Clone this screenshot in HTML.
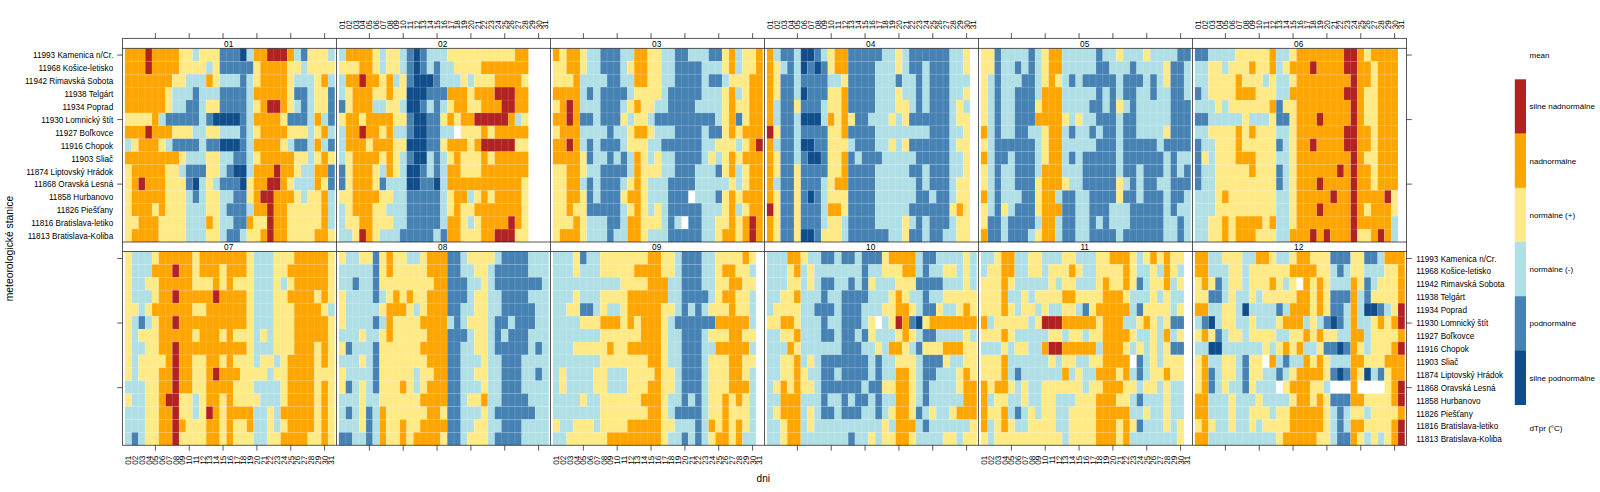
<!DOCTYPE html><html><head><meta charset="utf-8"><title>levelplot</title><style>html,body{margin:0;padding:0;background:#fff}svg{display:block}text{font-family:"Liberation Sans",sans-serif;fill:#000}.g{text-rendering:geometricPrecision}</style></head><body>
<svg width="1600" height="492" viewBox="0 0 1600 492">
<rect width="1600" height="492" fill="#fff"/>
<g>
<rect x="124.90" y="48.40" width="20.31" height="12.91" fill="#FFA500"/>
<rect x="145.21" y="48.40" width="6.77" height="12.91" fill="#B22222"/>
<rect x="151.98" y="48.40" width="27.08" height="12.91" fill="#FFA500"/>
<rect x="179.06" y="48.40" width="13.54" height="12.91" fill="#FFEA86"/>
<rect x="192.60" y="48.40" width="6.77" height="12.91" fill="#B0E0E6"/>
<rect x="199.37" y="48.40" width="20.31" height="12.91" fill="#FFEA86"/>
<rect x="219.68" y="48.40" width="20.31" height="12.91" fill="#4682B4"/>
<rect x="239.99" y="48.40" width="6.77" height="12.91" fill="#104E8B"/>
<rect x="246.76" y="48.40" width="6.77" height="12.91" fill="#B0E0E6"/>
<rect x="253.53" y="48.40" width="13.54" height="12.91" fill="#FFA500"/>
<rect x="267.07" y="48.40" width="20.31" height="12.91" fill="#B22222"/>
<rect x="287.38" y="48.40" width="6.77" height="12.91" fill="#FFA500"/>
<rect x="294.15" y="48.40" width="6.77" height="12.91" fill="#B0E0E6"/>
<rect x="300.92" y="48.40" width="6.77" height="12.91" fill="#4682B4"/>
<rect x="307.69" y="48.40" width="20.31" height="12.91" fill="#FFEA86"/>
<rect x="328.00" y="48.40" width="6.77" height="12.91" fill="#B0E0E6"/>
<rect x="124.90" y="61.31" width="20.31" height="12.91" fill="#FFA500"/>
<rect x="145.21" y="61.31" width="6.77" height="12.91" fill="#B22222"/>
<rect x="151.98" y="61.31" width="27.08" height="12.91" fill="#FFA500"/>
<rect x="179.06" y="61.31" width="27.08" height="12.91" fill="#FFEA86"/>
<rect x="206.14" y="61.31" width="6.77" height="12.91" fill="#B0E0E6"/>
<rect x="212.91" y="61.31" width="6.77" height="12.91" fill="#FFEA86"/>
<rect x="219.68" y="61.31" width="33.85" height="12.91" fill="#4682B4"/>
<rect x="253.53" y="61.31" width="6.77" height="12.91" fill="#FFEA86"/>
<rect x="260.30" y="61.31" width="27.08" height="12.91" fill="#FFA500"/>
<rect x="287.38" y="61.31" width="13.54" height="12.91" fill="#FFEA86"/>
<rect x="300.92" y="61.31" width="6.77" height="12.91" fill="#B0E0E6"/>
<rect x="307.69" y="61.31" width="27.08" height="12.91" fill="#FFEA86"/>
<rect x="124.90" y="74.21" width="47.39" height="12.91" fill="#FFA500"/>
<rect x="172.29" y="74.21" width="13.54" height="12.91" fill="#FFEA86"/>
<rect x="185.83" y="74.21" width="20.31" height="12.91" fill="#B0E0E6"/>
<rect x="206.14" y="74.21" width="6.77" height="12.91" fill="#FFA500"/>
<rect x="212.91" y="74.21" width="6.77" height="12.91" fill="#FFEA86"/>
<rect x="219.68" y="74.21" width="20.31" height="12.91" fill="#B0E0E6"/>
<rect x="239.99" y="74.21" width="6.77" height="12.91" fill="#4682B4"/>
<rect x="246.76" y="74.21" width="6.77" height="12.91" fill="#B0E0E6"/>
<rect x="253.53" y="74.21" width="6.77" height="12.91" fill="#FFEA86"/>
<rect x="260.30" y="74.21" width="27.08" height="12.91" fill="#FFA500"/>
<rect x="287.38" y="74.21" width="6.77" height="12.91" fill="#FFEA86"/>
<rect x="294.15" y="74.21" width="20.31" height="12.91" fill="#B0E0E6"/>
<rect x="314.46" y="74.21" width="6.77" height="12.91" fill="#FFEA86"/>
<rect x="321.23" y="74.21" width="6.77" height="12.91" fill="#FFA500"/>
<rect x="328.00" y="74.21" width="6.77" height="12.91" fill="#B0E0E6"/>
<rect x="124.90" y="87.12" width="40.62" height="12.91" fill="#FFA500"/>
<rect x="165.52" y="87.12" width="6.77" height="12.91" fill="#FFEA86"/>
<rect x="172.29" y="87.12" width="20.31" height="12.91" fill="#B0E0E6"/>
<rect x="192.60" y="87.12" width="6.77" height="12.91" fill="#4682B4"/>
<rect x="199.37" y="87.12" width="20.31" height="12.91" fill="#B0E0E6"/>
<rect x="219.68" y="87.12" width="27.08" height="12.91" fill="#4682B4"/>
<rect x="246.76" y="87.12" width="6.77" height="12.91" fill="#B0E0E6"/>
<rect x="253.53" y="87.12" width="33.85" height="12.91" fill="#FFA500"/>
<rect x="287.38" y="87.12" width="6.77" height="12.91" fill="#FFEA86"/>
<rect x="294.15" y="87.12" width="13.54" height="12.91" fill="#4682B4"/>
<rect x="307.69" y="87.12" width="6.77" height="12.91" fill="#B0E0E6"/>
<rect x="314.46" y="87.12" width="13.54" height="12.91" fill="#FFEA86"/>
<rect x="328.00" y="87.12" width="6.77" height="12.91" fill="#4682B4"/>
<rect x="124.90" y="100.03" width="40.62" height="12.91" fill="#FFA500"/>
<rect x="165.52" y="100.03" width="6.77" height="12.91" fill="#FFEA86"/>
<rect x="172.29" y="100.03" width="13.54" height="12.91" fill="#B0E0E6"/>
<rect x="185.83" y="100.03" width="13.54" height="12.91" fill="#4682B4"/>
<rect x="199.37" y="100.03" width="6.77" height="12.91" fill="#B0E0E6"/>
<rect x="206.14" y="100.03" width="13.54" height="12.91" fill="#FFEA86"/>
<rect x="219.68" y="100.03" width="27.08" height="12.91" fill="#4682B4"/>
<rect x="246.76" y="100.03" width="6.77" height="12.91" fill="#B0E0E6"/>
<rect x="253.53" y="100.03" width="6.77" height="12.91" fill="#FFEA86"/>
<rect x="260.30" y="100.03" width="6.77" height="12.91" fill="#FFA500"/>
<rect x="267.07" y="100.03" width="13.54" height="12.91" fill="#B22222"/>
<rect x="280.61" y="100.03" width="6.77" height="12.91" fill="#FFA500"/>
<rect x="287.38" y="100.03" width="6.77" height="12.91" fill="#FFEA86"/>
<rect x="294.15" y="100.03" width="6.77" height="12.91" fill="#B0E0E6"/>
<rect x="300.92" y="100.03" width="6.77" height="12.91" fill="#4682B4"/>
<rect x="307.69" y="100.03" width="6.77" height="12.91" fill="#B0E0E6"/>
<rect x="314.46" y="100.03" width="13.54" height="12.91" fill="#FFEA86"/>
<rect x="328.00" y="100.03" width="6.77" height="12.91" fill="#4682B4"/>
<rect x="124.90" y="112.93" width="27.08" height="12.91" fill="#FFEA86"/>
<rect x="151.98" y="112.93" width="6.77" height="12.91" fill="#FFA500"/>
<rect x="158.75" y="112.93" width="6.77" height="12.91" fill="#B0E0E6"/>
<rect x="165.52" y="112.93" width="33.85" height="12.91" fill="#4682B4"/>
<rect x="199.37" y="112.93" width="6.77" height="12.91" fill="#B0E0E6"/>
<rect x="206.14" y="112.93" width="6.77" height="12.91" fill="#4682B4"/>
<rect x="212.91" y="112.93" width="27.08" height="12.91" fill="#104E8B"/>
<rect x="239.99" y="112.93" width="6.77" height="12.91" fill="#4682B4"/>
<rect x="246.76" y="112.93" width="6.77" height="12.91" fill="#B0E0E6"/>
<rect x="253.53" y="112.93" width="27.08" height="12.91" fill="#FFA500"/>
<rect x="280.61" y="112.93" width="6.77" height="12.91" fill="#FFEA86"/>
<rect x="287.38" y="112.93" width="20.31" height="12.91" fill="#4682B4"/>
<rect x="307.69" y="112.93" width="6.77" height="12.91" fill="#B0E0E6"/>
<rect x="314.46" y="112.93" width="6.77" height="12.91" fill="#FFA500"/>
<rect x="321.23" y="112.93" width="6.77" height="12.91" fill="#B0E0E6"/>
<rect x="328.00" y="112.93" width="6.77" height="12.91" fill="#4682B4"/>
<rect x="124.90" y="125.84" width="20.31" height="12.91" fill="#FFA500"/>
<rect x="145.21" y="125.84" width="6.77" height="12.91" fill="#B22222"/>
<rect x="151.98" y="125.84" width="20.31" height="12.91" fill="#FFA500"/>
<rect x="172.29" y="125.84" width="20.31" height="12.91" fill="#FFEA86"/>
<rect x="192.60" y="125.84" width="13.54" height="12.91" fill="#B0E0E6"/>
<rect x="206.14" y="125.84" width="13.54" height="12.91" fill="#FFEA86"/>
<rect x="219.68" y="125.84" width="20.31" height="12.91" fill="#B0E0E6"/>
<rect x="239.99" y="125.84" width="6.77" height="12.91" fill="#4682B4"/>
<rect x="246.76" y="125.84" width="6.77" height="12.91" fill="#B0E0E6"/>
<rect x="253.53" y="125.84" width="6.77" height="12.91" fill="#FFEA86"/>
<rect x="260.30" y="125.84" width="27.08" height="12.91" fill="#FFA500"/>
<rect x="287.38" y="125.84" width="20.31" height="12.91" fill="#FFEA86"/>
<rect x="307.69" y="125.84" width="6.77" height="12.91" fill="#B0E0E6"/>
<rect x="314.46" y="125.84" width="6.77" height="12.91" fill="#FFEA86"/>
<rect x="321.23" y="125.84" width="6.77" height="12.91" fill="#FFA500"/>
<rect x="328.00" y="125.84" width="6.77" height="12.91" fill="#B0E0E6"/>
<rect x="124.90" y="138.75" width="6.77" height="12.91" fill="#B0E0E6"/>
<rect x="131.67" y="138.75" width="6.77" height="12.91" fill="#FFEA86"/>
<rect x="138.44" y="138.75" width="20.31" height="12.91" fill="#FFA500"/>
<rect x="158.75" y="138.75" width="6.77" height="12.91" fill="#FFEA86"/>
<rect x="165.52" y="138.75" width="6.77" height="12.91" fill="#B0E0E6"/>
<rect x="172.29" y="138.75" width="27.08" height="12.91" fill="#4682B4"/>
<rect x="199.37" y="138.75" width="6.77" height="12.91" fill="#B0E0E6"/>
<rect x="206.14" y="138.75" width="13.54" height="12.91" fill="#4682B4"/>
<rect x="219.68" y="138.75" width="20.31" height="12.91" fill="#104E8B"/>
<rect x="239.99" y="138.75" width="6.77" height="12.91" fill="#4682B4"/>
<rect x="246.76" y="138.75" width="6.77" height="12.91" fill="#B0E0E6"/>
<rect x="253.53" y="138.75" width="27.08" height="12.91" fill="#FFA500"/>
<rect x="280.61" y="138.75" width="6.77" height="12.91" fill="#FFEA86"/>
<rect x="287.38" y="138.75" width="6.77" height="12.91" fill="#B0E0E6"/>
<rect x="294.15" y="138.75" width="13.54" height="12.91" fill="#4682B4"/>
<rect x="307.69" y="138.75" width="6.77" height="12.91" fill="#B0E0E6"/>
<rect x="314.46" y="138.75" width="6.77" height="12.91" fill="#FFA500"/>
<rect x="321.23" y="138.75" width="6.77" height="12.91" fill="#B0E0E6"/>
<rect x="328.00" y="138.75" width="6.77" height="12.91" fill="#4682B4"/>
<rect x="124.90" y="151.65" width="54.16" height="12.91" fill="#FFA500"/>
<rect x="179.06" y="151.65" width="6.77" height="12.91" fill="#FFEA86"/>
<rect x="185.83" y="151.65" width="20.31" height="12.91" fill="#B0E0E6"/>
<rect x="206.14" y="151.65" width="13.54" height="12.91" fill="#FFEA86"/>
<rect x="219.68" y="151.65" width="13.54" height="12.91" fill="#B0E0E6"/>
<rect x="233.22" y="151.65" width="13.54" height="12.91" fill="#4682B4"/>
<rect x="246.76" y="151.65" width="6.77" height="12.91" fill="#B0E0E6"/>
<rect x="253.53" y="151.65" width="6.77" height="12.91" fill="#FFEA86"/>
<rect x="260.30" y="151.65" width="33.85" height="12.91" fill="#FFA500"/>
<rect x="294.15" y="151.65" width="13.54" height="12.91" fill="#FFEA86"/>
<rect x="307.69" y="151.65" width="6.77" height="12.91" fill="#B0E0E6"/>
<rect x="314.46" y="151.65" width="6.77" height="12.91" fill="#FFEA86"/>
<rect x="321.23" y="151.65" width="6.77" height="12.91" fill="#FFA500"/>
<rect x="328.00" y="151.65" width="6.77" height="12.91" fill="#FFEA86"/>
<rect x="124.90" y="164.56" width="6.77" height="12.91" fill="#FFEA86"/>
<rect x="131.67" y="164.56" width="33.85" height="12.91" fill="#FFA500"/>
<rect x="165.52" y="164.56" width="13.54" height="12.91" fill="#FFEA86"/>
<rect x="179.06" y="164.56" width="6.77" height="12.91" fill="#B0E0E6"/>
<rect x="185.83" y="164.56" width="20.31" height="12.91" fill="#4682B4"/>
<rect x="206.14" y="164.56" width="13.54" height="12.91" fill="#FFEA86"/>
<rect x="219.68" y="164.56" width="6.77" height="12.91" fill="#B0E0E6"/>
<rect x="226.45" y="164.56" width="6.77" height="12.91" fill="#4682B4"/>
<rect x="233.22" y="164.56" width="13.54" height="12.91" fill="#104E8B"/>
<rect x="246.76" y="164.56" width="6.77" height="12.91" fill="#B0E0E6"/>
<rect x="253.53" y="164.56" width="20.31" height="12.91" fill="#FFA500"/>
<rect x="273.84" y="164.56" width="6.77" height="12.91" fill="#B22222"/>
<rect x="280.61" y="164.56" width="13.54" height="12.91" fill="#FFA500"/>
<rect x="294.15" y="164.56" width="6.77" height="12.91" fill="#FFEA86"/>
<rect x="300.92" y="164.56" width="13.54" height="12.91" fill="#B0E0E6"/>
<rect x="314.46" y="164.56" width="13.54" height="12.91" fill="#FFA500"/>
<rect x="328.00" y="164.56" width="6.77" height="12.91" fill="#4682B4"/>
<rect x="124.90" y="177.47" width="6.77" height="12.91" fill="#FFEA86"/>
<rect x="131.67" y="177.47" width="6.77" height="12.91" fill="#FFA500"/>
<rect x="138.44" y="177.47" width="6.77" height="12.91" fill="#B22222"/>
<rect x="145.21" y="177.47" width="20.31" height="12.91" fill="#FFA500"/>
<rect x="165.52" y="177.47" width="20.31" height="12.91" fill="#FFEA86"/>
<rect x="185.83" y="177.47" width="6.77" height="12.91" fill="#4682B4"/>
<rect x="192.60" y="177.47" width="6.77" height="12.91" fill="#104E8B"/>
<rect x="199.37" y="177.47" width="6.77" height="12.91" fill="#B0E0E6"/>
<rect x="206.14" y="177.47" width="6.77" height="12.91" fill="#FFEA86"/>
<rect x="212.91" y="177.47" width="6.77" height="12.91" fill="#B0E0E6"/>
<rect x="219.68" y="177.47" width="20.31" height="12.91" fill="#4682B4"/>
<rect x="239.99" y="177.47" width="6.77" height="12.91" fill="#104E8B"/>
<rect x="246.76" y="177.47" width="6.77" height="12.91" fill="#FFEA86"/>
<rect x="253.53" y="177.47" width="13.54" height="12.91" fill="#FFA500"/>
<rect x="267.07" y="177.47" width="13.54" height="12.91" fill="#B22222"/>
<rect x="280.61" y="177.47" width="6.77" height="12.91" fill="#FFA500"/>
<rect x="287.38" y="177.47" width="6.77" height="12.91" fill="#FFEA86"/>
<rect x="294.15" y="177.47" width="20.31" height="12.91" fill="#B0E0E6"/>
<rect x="314.46" y="177.47" width="6.77" height="12.91" fill="#FFA500"/>
<rect x="321.23" y="177.47" width="6.77" height="12.91" fill="#FFEA86"/>
<rect x="328.00" y="177.47" width="6.77" height="12.91" fill="#4682B4"/>
<rect x="124.90" y="190.37" width="6.77" height="12.91" fill="#FFEA86"/>
<rect x="131.67" y="190.37" width="33.85" height="12.91" fill="#FFA500"/>
<rect x="165.52" y="190.37" width="20.31" height="12.91" fill="#FFEA86"/>
<rect x="185.83" y="190.37" width="6.77" height="12.91" fill="#B0E0E6"/>
<rect x="192.60" y="190.37" width="6.77" height="12.91" fill="#4682B4"/>
<rect x="199.37" y="190.37" width="6.77" height="12.91" fill="#B0E0E6"/>
<rect x="206.14" y="190.37" width="13.54" height="12.91" fill="#FFEA86"/>
<rect x="219.68" y="190.37" width="13.54" height="12.91" fill="#B0E0E6"/>
<rect x="233.22" y="190.37" width="13.54" height="12.91" fill="#4682B4"/>
<rect x="246.76" y="190.37" width="6.77" height="12.91" fill="#FFEA86"/>
<rect x="253.53" y="190.37" width="6.77" height="12.91" fill="#FFA500"/>
<rect x="260.30" y="190.37" width="13.54" height="12.91" fill="#B22222"/>
<rect x="273.84" y="190.37" width="20.31" height="12.91" fill="#FFA500"/>
<rect x="294.15" y="190.37" width="6.77" height="12.91" fill="#FFEA86"/>
<rect x="300.92" y="190.37" width="6.77" height="12.91" fill="#B0E0E6"/>
<rect x="307.69" y="190.37" width="13.54" height="12.91" fill="#FFEA86"/>
<rect x="321.23" y="190.37" width="6.77" height="12.91" fill="#FFA500"/>
<rect x="328.00" y="190.37" width="6.77" height="12.91" fill="#B0E0E6"/>
<rect x="124.90" y="203.28" width="6.77" height="12.91" fill="#FFEA86"/>
<rect x="131.67" y="203.28" width="20.31" height="12.91" fill="#FFA500"/>
<rect x="151.98" y="203.28" width="6.77" height="12.91" fill="#FFEA86"/>
<rect x="158.75" y="203.28" width="6.77" height="12.91" fill="#FFA500"/>
<rect x="165.52" y="203.28" width="20.31" height="12.91" fill="#FFEA86"/>
<rect x="185.83" y="203.28" width="20.31" height="12.91" fill="#B0E0E6"/>
<rect x="206.14" y="203.28" width="13.54" height="12.91" fill="#FFEA86"/>
<rect x="219.68" y="203.28" width="6.77" height="12.91" fill="#B0E0E6"/>
<rect x="226.45" y="203.28" width="20.31" height="12.91" fill="#4682B4"/>
<rect x="246.76" y="203.28" width="6.77" height="12.91" fill="#B0E0E6"/>
<rect x="253.53" y="203.28" width="13.54" height="12.91" fill="#FFA500"/>
<rect x="267.07" y="203.28" width="6.77" height="12.91" fill="#B22222"/>
<rect x="273.84" y="203.28" width="13.54" height="12.91" fill="#FFA500"/>
<rect x="287.38" y="203.28" width="33.85" height="12.91" fill="#FFEA86"/>
<rect x="321.23" y="203.28" width="6.77" height="12.91" fill="#FFA500"/>
<rect x="328.00" y="203.28" width="6.77" height="12.91" fill="#B0E0E6"/>
<rect x="124.90" y="216.19" width="13.54" height="12.91" fill="#FFEA86"/>
<rect x="138.44" y="216.19" width="20.31" height="12.91" fill="#FFA500"/>
<rect x="158.75" y="216.19" width="27.08" height="12.91" fill="#FFEA86"/>
<rect x="185.83" y="216.19" width="20.31" height="12.91" fill="#B0E0E6"/>
<rect x="206.14" y="216.19" width="6.77" height="12.91" fill="#FFA500"/>
<rect x="212.91" y="216.19" width="6.77" height="12.91" fill="#FFEA86"/>
<rect x="219.68" y="216.19" width="13.54" height="12.91" fill="#B0E0E6"/>
<rect x="233.22" y="216.19" width="13.54" height="12.91" fill="#4682B4"/>
<rect x="246.76" y="216.19" width="6.77" height="12.91" fill="#FFA500"/>
<rect x="253.53" y="216.19" width="13.54" height="12.91" fill="#FFEA86"/>
<rect x="267.07" y="216.19" width="6.77" height="12.91" fill="#B22222"/>
<rect x="273.84" y="216.19" width="13.54" height="12.91" fill="#FFA500"/>
<rect x="287.38" y="216.19" width="33.85" height="12.91" fill="#FFEA86"/>
<rect x="321.23" y="216.19" width="6.77" height="12.91" fill="#FFA500"/>
<rect x="328.00" y="216.19" width="6.77" height="12.91" fill="#B0E0E6"/>
<rect x="124.90" y="229.09" width="6.77" height="12.91" fill="#FFEA86"/>
<rect x="131.67" y="229.09" width="27.08" height="12.91" fill="#FFA500"/>
<rect x="158.75" y="229.09" width="27.08" height="12.91" fill="#FFEA86"/>
<rect x="185.83" y="229.09" width="20.31" height="12.91" fill="#B0E0E6"/>
<rect x="206.14" y="229.09" width="13.54" height="12.91" fill="#FFEA86"/>
<rect x="219.68" y="229.09" width="6.77" height="12.91" fill="#B0E0E6"/>
<rect x="226.45" y="229.09" width="13.54" height="12.91" fill="#4682B4"/>
<rect x="239.99" y="229.09" width="6.77" height="12.91" fill="#B0E0E6"/>
<rect x="246.76" y="229.09" width="13.54" height="12.91" fill="#FFEA86"/>
<rect x="260.30" y="229.09" width="6.77" height="12.91" fill="#FFA500"/>
<rect x="267.07" y="229.09" width="6.77" height="12.91" fill="#B22222"/>
<rect x="273.84" y="229.09" width="13.54" height="12.91" fill="#FFA500"/>
<rect x="287.38" y="229.09" width="27.08" height="12.91" fill="#FFEA86"/>
<rect x="314.46" y="229.09" width="13.54" height="12.91" fill="#FFA500"/>
<rect x="328.00" y="229.09" width="6.77" height="12.91" fill="#FFEA86"/>
<path d="M131.67 48.40V242.00M138.44 48.40V242.00M145.21 48.40V242.00M151.98 48.40V242.00M158.75 48.40V242.00M165.52 48.40V242.00M172.29 48.40V242.00M179.06 48.40V242.00M185.83 48.40V242.00M192.60 48.40V242.00M199.37 48.40V242.00M206.14 48.40V242.00M212.91 48.40V242.00M219.68 48.40V242.00M226.45 48.40V242.00M233.22 48.40V242.00M239.99 48.40V242.00M246.76 48.40V242.00M253.53 48.40V242.00M260.30 48.40V242.00M267.07 48.40V242.00M273.84 48.40V242.00M280.61 48.40V242.00M287.38 48.40V242.00M294.15 48.40V242.00M300.92 48.40V242.00M307.69 48.40V242.00M314.46 48.40V242.00M321.23 48.40V242.00M328.00 48.40V242.00" stroke="#fff" stroke-opacity="0.2" stroke-width="0.7" fill="none"/>
<path d="M124.90 61.31H334.77M124.90 74.21H334.77M124.90 87.12H334.77M124.90 100.03H334.77M124.90 112.93H334.77M124.90 125.84H334.77M124.90 138.75H334.77M124.90 151.65H334.77M124.90 164.56H334.77M124.90 177.47H334.77M124.90 190.37H334.77M124.90 203.28H334.77M124.90 216.19H334.77M124.90 229.09H334.77" stroke="#fff" stroke-opacity="0.13" stroke-width="0.7" fill="none"/>
</g>
<text x="228.7" y="46.8" font-size="8.3" text-anchor="middle">01</text>
<path d="M155.37 38.45v-5.3M189.22 38.45v-5.3M223.06 38.45v-5.3M256.91 38.45v-5.3M290.76 38.45v-5.3M324.62 38.45v-5.3" stroke="#222" stroke-width="0.75" fill="none"/>
<g>
<rect x="338.90" y="48.40" width="6.77" height="12.91" fill="#B0E0E6"/>
<rect x="345.67" y="48.40" width="27.08" height="12.91" fill="#FFA500"/>
<rect x="372.75" y="48.40" width="6.77" height="12.91" fill="#FFEA86"/>
<rect x="379.52" y="48.40" width="6.77" height="12.91" fill="#B0E0E6"/>
<rect x="386.29" y="48.40" width="13.54" height="12.91" fill="#FFEA86"/>
<rect x="399.83" y="48.40" width="6.77" height="12.91" fill="#B0E0E6"/>
<rect x="406.60" y="48.40" width="6.77" height="12.91" fill="#4682B4"/>
<rect x="413.37" y="48.40" width="6.77" height="12.91" fill="#104E8B"/>
<rect x="420.14" y="48.40" width="6.77" height="12.91" fill="#4682B4"/>
<rect x="426.91" y="48.40" width="20.31" height="12.91" fill="#B0E0E6"/>
<rect x="447.22" y="48.40" width="67.70" height="12.91" fill="#FFEA86"/>
<rect x="514.92" y="48.40" width="13.54" height="12.91" fill="#FFA500"/>
<rect x="338.90" y="61.31" width="20.31" height="12.91" fill="#FFEA86"/>
<rect x="359.21" y="61.31" width="13.54" height="12.91" fill="#FFA500"/>
<rect x="372.75" y="61.31" width="6.77" height="12.91" fill="#FFEA86"/>
<rect x="379.52" y="61.31" width="6.77" height="12.91" fill="#B0E0E6"/>
<rect x="386.29" y="61.31" width="13.54" height="12.91" fill="#FFEA86"/>
<rect x="399.83" y="61.31" width="6.77" height="12.91" fill="#B0E0E6"/>
<rect x="406.60" y="61.31" width="6.77" height="12.91" fill="#4682B4"/>
<rect x="413.37" y="61.31" width="6.77" height="12.91" fill="#104E8B"/>
<rect x="420.14" y="61.31" width="6.77" height="12.91" fill="#4682B4"/>
<rect x="426.91" y="61.31" width="6.77" height="12.91" fill="#B0E0E6"/>
<rect x="433.68" y="61.31" width="6.77" height="12.91" fill="#4682B4"/>
<rect x="440.45" y="61.31" width="13.54" height="12.91" fill="#B0E0E6"/>
<rect x="453.99" y="61.31" width="27.08" height="12.91" fill="#FFEA86"/>
<rect x="481.07" y="61.31" width="47.39" height="12.91" fill="#FFA500"/>
<rect x="338.90" y="74.21" width="6.77" height="12.91" fill="#B0E0E6"/>
<rect x="345.67" y="74.21" width="13.54" height="12.91" fill="#FFA500"/>
<rect x="359.21" y="74.21" width="6.77" height="12.91" fill="#B22222"/>
<rect x="365.98" y="74.21" width="13.54" height="12.91" fill="#FFA500"/>
<rect x="379.52" y="74.21" width="6.77" height="12.91" fill="#FFEA86"/>
<rect x="386.29" y="74.21" width="6.77" height="12.91" fill="#FFA500"/>
<rect x="393.06" y="74.21" width="6.77" height="12.91" fill="#B0E0E6"/>
<rect x="399.83" y="74.21" width="6.77" height="12.91" fill="#FFEA86"/>
<rect x="406.60" y="74.21" width="6.77" height="12.91" fill="#4682B4"/>
<rect x="413.37" y="74.21" width="20.31" height="12.91" fill="#104E8B"/>
<rect x="433.68" y="74.21" width="6.77" height="12.91" fill="#4682B4"/>
<rect x="440.45" y="74.21" width="20.31" height="12.91" fill="#B0E0E6"/>
<rect x="460.76" y="74.21" width="6.77" height="12.91" fill="#FFEA86"/>
<rect x="467.53" y="74.21" width="6.77" height="12.91" fill="#B0E0E6"/>
<rect x="474.30" y="74.21" width="20.31" height="12.91" fill="#FFEA86"/>
<rect x="494.61" y="74.21" width="27.08" height="12.91" fill="#FFA500"/>
<rect x="521.69" y="74.21" width="6.77" height="12.91" fill="#FFEA86"/>
<rect x="338.90" y="87.12" width="6.77" height="12.91" fill="#B0E0E6"/>
<rect x="345.67" y="87.12" width="6.77" height="12.91" fill="#FFEA86"/>
<rect x="352.44" y="87.12" width="20.31" height="12.91" fill="#FFA500"/>
<rect x="372.75" y="87.12" width="13.54" height="12.91" fill="#FFEA86"/>
<rect x="386.29" y="87.12" width="6.77" height="12.91" fill="#FFA500"/>
<rect x="393.06" y="87.12" width="13.54" height="12.91" fill="#FFEA86"/>
<rect x="406.60" y="87.12" width="20.31" height="12.91" fill="#104E8B"/>
<rect x="426.91" y="87.12" width="20.31" height="12.91" fill="#4682B4"/>
<rect x="447.22" y="87.12" width="20.31" height="12.91" fill="#FFA500"/>
<rect x="467.53" y="87.12" width="6.77" height="12.91" fill="#FFEA86"/>
<rect x="474.30" y="87.12" width="20.31" height="12.91" fill="#FFA500"/>
<rect x="494.61" y="87.12" width="20.31" height="12.91" fill="#B22222"/>
<rect x="514.92" y="87.12" width="13.54" height="12.91" fill="#FFA500"/>
<rect x="338.90" y="100.03" width="6.77" height="12.91" fill="#4682B4"/>
<rect x="345.67" y="100.03" width="6.77" height="12.91" fill="#FFEA86"/>
<rect x="352.44" y="100.03" width="20.31" height="12.91" fill="#FFA500"/>
<rect x="372.75" y="100.03" width="13.54" height="12.91" fill="#B0E0E6"/>
<rect x="386.29" y="100.03" width="13.54" height="12.91" fill="#FFEA86"/>
<rect x="399.83" y="100.03" width="6.77" height="12.91" fill="#B0E0E6"/>
<rect x="406.60" y="100.03" width="13.54" height="12.91" fill="#104E8B"/>
<rect x="420.14" y="100.03" width="6.77" height="12.91" fill="#4682B4"/>
<rect x="426.91" y="100.03" width="6.77" height="12.91" fill="#B0E0E6"/>
<rect x="433.68" y="100.03" width="6.77" height="12.91" fill="#4682B4"/>
<rect x="440.45" y="100.03" width="6.77" height="12.91" fill="#B0E0E6"/>
<rect x="447.22" y="100.03" width="6.77" height="12.91" fill="#FFEA86"/>
<rect x="453.99" y="100.03" width="13.54" height="12.91" fill="#FFA500"/>
<rect x="467.53" y="100.03" width="13.54" height="12.91" fill="#FFEA86"/>
<rect x="481.07" y="100.03" width="20.31" height="12.91" fill="#FFA500"/>
<rect x="501.38" y="100.03" width="13.54" height="12.91" fill="#B22222"/>
<rect x="514.92" y="100.03" width="13.54" height="12.91" fill="#FFA500"/>
<rect x="338.90" y="112.93" width="6.77" height="12.91" fill="#FFEA86"/>
<rect x="345.67" y="112.93" width="13.54" height="12.91" fill="#FFA500"/>
<rect x="359.21" y="112.93" width="6.77" height="12.91" fill="#FFEA86"/>
<rect x="365.98" y="112.93" width="27.08" height="12.91" fill="#FFA500"/>
<rect x="393.06" y="112.93" width="13.54" height="12.91" fill="#FFEA86"/>
<rect x="406.60" y="112.93" width="6.77" height="12.91" fill="#4682B4"/>
<rect x="413.37" y="112.93" width="13.54" height="12.91" fill="#104E8B"/>
<rect x="426.91" y="112.93" width="13.54" height="12.91" fill="#4682B4"/>
<rect x="440.45" y="112.93" width="6.77" height="12.91" fill="#FFEA86"/>
<rect x="447.22" y="112.93" width="6.77" height="12.91" fill="#FFA500"/>
<rect x="453.99" y="112.93" width="6.77" height="12.91" fill="#FFEA86"/>
<rect x="460.76" y="112.93" width="13.54" height="12.91" fill="#FFA500"/>
<rect x="474.30" y="112.93" width="33.85" height="12.91" fill="#B22222"/>
<rect x="508.15" y="112.93" width="6.77" height="12.91" fill="#FFA500"/>
<rect x="514.92" y="112.93" width="6.77" height="12.91" fill="#B0E0E6"/>
<rect x="521.69" y="112.93" width="6.77" height="12.91" fill="#FFEA86"/>
<rect x="338.90" y="125.84" width="6.77" height="12.91" fill="#B0E0E6"/>
<rect x="345.67" y="125.84" width="13.54" height="12.91" fill="#FFA500"/>
<rect x="359.21" y="125.84" width="6.77" height="12.91" fill="#B22222"/>
<rect x="365.98" y="125.84" width="13.54" height="12.91" fill="#FFA500"/>
<rect x="379.52" y="125.84" width="6.77" height="12.91" fill="#FFEA86"/>
<rect x="386.29" y="125.84" width="6.77" height="12.91" fill="#FFA500"/>
<rect x="393.06" y="125.84" width="13.54" height="12.91" fill="#B0E0E6"/>
<rect x="406.60" y="125.84" width="6.77" height="12.91" fill="#4682B4"/>
<rect x="413.37" y="125.84" width="13.54" height="12.91" fill="#104E8B"/>
<rect x="426.91" y="125.84" width="13.54" height="12.91" fill="#4682B4"/>
<rect x="440.45" y="125.84" width="13.54" height="12.91" fill="#B0E0E6"/>
<rect x="460.76" y="125.84" width="20.31" height="12.91" fill="#FFEA86"/>
<rect x="481.07" y="125.84" width="6.77" height="12.91" fill="#FFA500"/>
<rect x="487.84" y="125.84" width="6.77" height="12.91" fill="#FFEA86"/>
<rect x="494.61" y="125.84" width="33.85" height="12.91" fill="#FFA500"/>
<rect x="338.90" y="138.75" width="6.77" height="12.91" fill="#B0E0E6"/>
<rect x="345.67" y="138.75" width="20.31" height="12.91" fill="#FFA500"/>
<rect x="365.98" y="138.75" width="6.77" height="12.91" fill="#FFEA86"/>
<rect x="372.75" y="138.75" width="20.31" height="12.91" fill="#FFA500"/>
<rect x="393.06" y="138.75" width="13.54" height="12.91" fill="#FFEA86"/>
<rect x="406.60" y="138.75" width="20.31" height="12.91" fill="#104E8B"/>
<rect x="426.91" y="138.75" width="13.54" height="12.91" fill="#4682B4"/>
<rect x="440.45" y="138.75" width="6.77" height="12.91" fill="#FFEA86"/>
<rect x="447.22" y="138.75" width="20.31" height="12.91" fill="#FFA500"/>
<rect x="467.53" y="138.75" width="6.77" height="12.91" fill="#FFEA86"/>
<rect x="474.30" y="138.75" width="6.77" height="12.91" fill="#FFA500"/>
<rect x="481.07" y="138.75" width="33.85" height="12.91" fill="#B22222"/>
<rect x="514.92" y="138.75" width="13.54" height="12.91" fill="#FFEA86"/>
<rect x="338.90" y="151.65" width="6.77" height="12.91" fill="#B0E0E6"/>
<rect x="345.67" y="151.65" width="6.77" height="12.91" fill="#FFEA86"/>
<rect x="352.44" y="151.65" width="27.08" height="12.91" fill="#FFA500"/>
<rect x="379.52" y="151.65" width="6.77" height="12.91" fill="#FFEA86"/>
<rect x="386.29" y="151.65" width="6.77" height="12.91" fill="#FFA500"/>
<rect x="393.06" y="151.65" width="6.77" height="12.91" fill="#FFEA86"/>
<rect x="399.83" y="151.65" width="6.77" height="12.91" fill="#B0E0E6"/>
<rect x="406.60" y="151.65" width="6.77" height="12.91" fill="#4682B4"/>
<rect x="413.37" y="151.65" width="13.54" height="12.91" fill="#104E8B"/>
<rect x="426.91" y="151.65" width="6.77" height="12.91" fill="#B0E0E6"/>
<rect x="433.68" y="151.65" width="6.77" height="12.91" fill="#4682B4"/>
<rect x="440.45" y="151.65" width="6.77" height="12.91" fill="#B0E0E6"/>
<rect x="447.22" y="151.65" width="6.77" height="12.91" fill="#FFEA86"/>
<rect x="453.99" y="151.65" width="6.77" height="12.91" fill="#FFA500"/>
<rect x="460.76" y="151.65" width="20.31" height="12.91" fill="#FFEA86"/>
<rect x="481.07" y="151.65" width="6.77" height="12.91" fill="#FFA500"/>
<rect x="487.84" y="151.65" width="6.77" height="12.91" fill="#FFEA86"/>
<rect x="494.61" y="151.65" width="33.85" height="12.91" fill="#FFA500"/>
<rect x="338.90" y="164.56" width="6.77" height="12.91" fill="#4682B4"/>
<rect x="345.67" y="164.56" width="6.77" height="12.91" fill="#FFEA86"/>
<rect x="352.44" y="164.56" width="20.31" height="12.91" fill="#FFA500"/>
<rect x="372.75" y="164.56" width="6.77" height="12.91" fill="#FFEA86"/>
<rect x="379.52" y="164.56" width="6.77" height="12.91" fill="#B0E0E6"/>
<rect x="386.29" y="164.56" width="6.77" height="12.91" fill="#FFA500"/>
<rect x="393.06" y="164.56" width="6.77" height="12.91" fill="#FFEA86"/>
<rect x="399.83" y="164.56" width="6.77" height="12.91" fill="#B0E0E6"/>
<rect x="406.60" y="164.56" width="13.54" height="12.91" fill="#104E8B"/>
<rect x="420.14" y="164.56" width="6.77" height="12.91" fill="#4682B4"/>
<rect x="426.91" y="164.56" width="6.77" height="12.91" fill="#B0E0E6"/>
<rect x="433.68" y="164.56" width="6.77" height="12.91" fill="#4682B4"/>
<rect x="440.45" y="164.56" width="6.77" height="12.91" fill="#B0E0E6"/>
<rect x="447.22" y="164.56" width="13.54" height="12.91" fill="#FFA500"/>
<rect x="460.76" y="164.56" width="20.31" height="12.91" fill="#FFEA86"/>
<rect x="481.07" y="164.56" width="47.39" height="12.91" fill="#FFA500"/>
<rect x="338.90" y="177.47" width="6.77" height="12.91" fill="#4682B4"/>
<rect x="345.67" y="177.47" width="6.77" height="12.91" fill="#FFEA86"/>
<rect x="352.44" y="177.47" width="20.31" height="12.91" fill="#FFA500"/>
<rect x="372.75" y="177.47" width="6.77" height="12.91" fill="#FFEA86"/>
<rect x="379.52" y="177.47" width="6.77" height="12.91" fill="#4682B4"/>
<rect x="386.29" y="177.47" width="20.31" height="12.91" fill="#B0E0E6"/>
<rect x="406.60" y="177.47" width="13.54" height="12.91" fill="#104E8B"/>
<rect x="420.14" y="177.47" width="13.54" height="12.91" fill="#4682B4"/>
<rect x="433.68" y="177.47" width="6.77" height="12.91" fill="#104E8B"/>
<rect x="440.45" y="177.47" width="6.77" height="12.91" fill="#B0E0E6"/>
<rect x="447.22" y="177.47" width="74.47" height="12.91" fill="#FFA500"/>
<rect x="521.69" y="177.47" width="6.77" height="12.91" fill="#FFEA86"/>
<rect x="338.90" y="190.37" width="13.54" height="12.91" fill="#FFEA86"/>
<rect x="352.44" y="190.37" width="27.08" height="12.91" fill="#FFA500"/>
<rect x="379.52" y="190.37" width="13.54" height="12.91" fill="#FFEA86"/>
<rect x="393.06" y="190.37" width="13.54" height="12.91" fill="#B0E0E6"/>
<rect x="406.60" y="190.37" width="33.85" height="12.91" fill="#4682B4"/>
<rect x="440.45" y="190.37" width="6.77" height="12.91" fill="#B0E0E6"/>
<rect x="447.22" y="190.37" width="6.77" height="12.91" fill="#FFEA86"/>
<rect x="453.99" y="190.37" width="13.54" height="12.91" fill="#FFA500"/>
<rect x="467.53" y="190.37" width="6.77" height="12.91" fill="#B0E0E6"/>
<rect x="474.30" y="190.37" width="6.77" height="12.91" fill="#FFEA86"/>
<rect x="481.07" y="190.37" width="6.77" height="12.91" fill="#FFA500"/>
<rect x="487.84" y="190.37" width="6.77" height="12.91" fill="#FFEA86"/>
<rect x="494.61" y="190.37" width="27.08" height="12.91" fill="#FFA500"/>
<rect x="521.69" y="190.37" width="6.77" height="12.91" fill="#FFEA86"/>
<rect x="338.90" y="203.28" width="6.77" height="12.91" fill="#B0E0E6"/>
<rect x="345.67" y="203.28" width="6.77" height="12.91" fill="#FFEA86"/>
<rect x="352.44" y="203.28" width="20.31" height="12.91" fill="#FFA500"/>
<rect x="372.75" y="203.28" width="13.54" height="12.91" fill="#FFEA86"/>
<rect x="386.29" y="203.28" width="20.31" height="12.91" fill="#B0E0E6"/>
<rect x="406.60" y="203.28" width="33.85" height="12.91" fill="#4682B4"/>
<rect x="440.45" y="203.28" width="6.77" height="12.91" fill="#B0E0E6"/>
<rect x="447.22" y="203.28" width="6.77" height="12.91" fill="#FFEA86"/>
<rect x="453.99" y="203.28" width="6.77" height="12.91" fill="#FFA500"/>
<rect x="460.76" y="203.28" width="13.54" height="12.91" fill="#FFEA86"/>
<rect x="474.30" y="203.28" width="47.39" height="12.91" fill="#FFA500"/>
<rect x="521.69" y="203.28" width="6.77" height="12.91" fill="#FFEA86"/>
<rect x="338.90" y="216.19" width="6.77" height="12.91" fill="#B0E0E6"/>
<rect x="345.67" y="216.19" width="13.54" height="12.91" fill="#FFEA86"/>
<rect x="359.21" y="216.19" width="13.54" height="12.91" fill="#FFA500"/>
<rect x="372.75" y="216.19" width="20.31" height="12.91" fill="#FFEA86"/>
<rect x="393.06" y="216.19" width="13.54" height="12.91" fill="#B0E0E6"/>
<rect x="406.60" y="216.19" width="33.85" height="12.91" fill="#4682B4"/>
<rect x="440.45" y="216.19" width="6.77" height="12.91" fill="#B0E0E6"/>
<rect x="447.22" y="216.19" width="13.54" height="12.91" fill="#FFA500"/>
<rect x="460.76" y="216.19" width="6.77" height="12.91" fill="#FFEA86"/>
<rect x="467.53" y="216.19" width="6.77" height="12.91" fill="#B0E0E6"/>
<rect x="474.30" y="216.19" width="6.77" height="12.91" fill="#FFEA86"/>
<rect x="481.07" y="216.19" width="27.08" height="12.91" fill="#FFA500"/>
<rect x="508.15" y="216.19" width="6.77" height="12.91" fill="#B22222"/>
<rect x="514.92" y="216.19" width="6.77" height="12.91" fill="#FFA500"/>
<rect x="521.69" y="216.19" width="6.77" height="12.91" fill="#FFEA86"/>
<rect x="338.90" y="229.09" width="13.54" height="12.91" fill="#B0E0E6"/>
<rect x="352.44" y="229.09" width="6.77" height="12.91" fill="#FFEA86"/>
<rect x="359.21" y="229.09" width="6.77" height="12.91" fill="#B22222"/>
<rect x="365.98" y="229.09" width="6.77" height="12.91" fill="#FFA500"/>
<rect x="372.75" y="229.09" width="6.77" height="12.91" fill="#FFEA86"/>
<rect x="379.52" y="229.09" width="20.31" height="12.91" fill="#B0E0E6"/>
<rect x="399.83" y="229.09" width="33.85" height="12.91" fill="#4682B4"/>
<rect x="433.68" y="229.09" width="6.77" height="12.91" fill="#B0E0E6"/>
<rect x="440.45" y="229.09" width="6.77" height="12.91" fill="#4682B4"/>
<rect x="447.22" y="229.09" width="13.54" height="12.91" fill="#FFA500"/>
<rect x="460.76" y="229.09" width="20.31" height="12.91" fill="#FFEA86"/>
<rect x="481.07" y="229.09" width="13.54" height="12.91" fill="#FFA500"/>
<rect x="494.61" y="229.09" width="20.31" height="12.91" fill="#B22222"/>
<rect x="514.92" y="229.09" width="13.54" height="12.91" fill="#FFEA86"/>
<path d="M345.67 48.40V242.00M352.44 48.40V242.00M359.21 48.40V242.00M365.98 48.40V242.00M372.75 48.40V242.00M379.52 48.40V242.00M386.29 48.40V242.00M393.06 48.40V242.00M399.83 48.40V242.00M406.60 48.40V242.00M413.37 48.40V242.00M420.14 48.40V242.00M426.91 48.40V242.00M433.68 48.40V242.00M440.45 48.40V242.00M447.22 48.40V242.00M453.99 48.40V242.00M460.76 48.40V242.00M467.53 48.40V242.00M474.30 48.40V242.00M481.07 48.40V242.00M487.84 48.40V242.00M494.61 48.40V242.00M501.38 48.40V242.00M508.15 48.40V242.00M514.92 48.40V242.00M521.69 48.40V242.00M528.46 48.40V242.00M535.23 48.40V242.00M542.00 48.40V242.00" stroke="#fff" stroke-opacity="0.2" stroke-width="0.7" fill="none"/>
<path d="M338.90 61.31H548.77M338.90 74.21H548.77M338.90 87.12H548.77M338.90 100.03H548.77M338.90 112.93H548.77M338.90 125.84H548.77M338.90 138.75H548.77M338.90 151.65H548.77M338.90 164.56H548.77M338.90 177.47H548.77M338.90 190.37H548.77M338.90 203.28H548.77M338.90 216.19H548.77M338.90 229.09H548.77" stroke="#fff" stroke-opacity="0.13" stroke-width="0.7" fill="none"/>
</g>
<text x="442.7" y="46.8" font-size="8.3" text-anchor="middle">02</text>
<path d="M369.36 38.45v-5.3M403.21 38.45v-5.3M437.06 38.45v-5.3M470.91 38.45v-5.3M504.76 38.45v-5.3M538.62 38.45v-5.3" stroke="#222" stroke-width="0.75" fill="none"/>
<text class="g" transform="translate(345.18 29.2) rotate(-90)" font-size="8.17" text-anchor="start">01</text>
<text class="g" transform="translate(351.95 29.2) rotate(-90)" font-size="8.17" text-anchor="start">02</text>
<text class="g" transform="translate(358.72 29.2) rotate(-90)" font-size="8.17" text-anchor="start">03</text>
<text class="g" transform="translate(365.49 29.2) rotate(-90)" font-size="8.17" text-anchor="start">04</text>
<text class="g" transform="translate(372.26 29.2) rotate(-90)" font-size="8.17" text-anchor="start">05</text>
<text class="g" transform="translate(379.03 29.2) rotate(-90)" font-size="8.17" text-anchor="start">06</text>
<text class="g" transform="translate(385.80 29.2) rotate(-90)" font-size="8.17" text-anchor="start">07</text>
<text class="g" transform="translate(392.57 29.2) rotate(-90)" font-size="8.17" text-anchor="start">08</text>
<text class="g" transform="translate(399.34 29.2) rotate(-90)" font-size="8.17" text-anchor="start">09</text>
<text class="g" transform="translate(406.11 29.2) rotate(-90)" font-size="8.17" text-anchor="start">10</text>
<text class="g" transform="translate(412.88 29.2) rotate(-90)" font-size="8.17" text-anchor="start">11</text>
<text class="g" transform="translate(419.65 29.2) rotate(-90)" font-size="8.17" text-anchor="start">12</text>
<text class="g" transform="translate(426.42 29.2) rotate(-90)" font-size="8.17" text-anchor="start">13</text>
<text class="g" transform="translate(433.19 29.2) rotate(-90)" font-size="8.17" text-anchor="start">14</text>
<text class="g" transform="translate(439.96 29.2) rotate(-90)" font-size="8.17" text-anchor="start">15</text>
<text class="g" transform="translate(446.73 29.2) rotate(-90)" font-size="8.17" text-anchor="start">16</text>
<text class="g" transform="translate(453.50 29.2) rotate(-90)" font-size="8.17" text-anchor="start">17</text>
<text class="g" transform="translate(460.27 29.2) rotate(-90)" font-size="8.17" text-anchor="start">18</text>
<text class="g" transform="translate(467.04 29.2) rotate(-90)" font-size="8.17" text-anchor="start">19</text>
<text class="g" transform="translate(473.81 29.2) rotate(-90)" font-size="8.17" text-anchor="start">20</text>
<text class="g" transform="translate(480.58 29.2) rotate(-90)" font-size="8.17" text-anchor="start">21</text>
<text class="g" transform="translate(487.35 29.2) rotate(-90)" font-size="8.17" text-anchor="start">22</text>
<text class="g" transform="translate(494.12 29.2) rotate(-90)" font-size="8.17" text-anchor="start">23</text>
<text class="g" transform="translate(500.89 29.2) rotate(-90)" font-size="8.17" text-anchor="start">24</text>
<text class="g" transform="translate(507.66 29.2) rotate(-90)" font-size="8.17" text-anchor="start">25</text>
<text class="g" transform="translate(514.43 29.2) rotate(-90)" font-size="8.17" text-anchor="start">26</text>
<text class="g" transform="translate(521.20 29.2) rotate(-90)" font-size="8.17" text-anchor="start">27</text>
<text class="g" transform="translate(527.97 29.2) rotate(-90)" font-size="8.17" text-anchor="start">28</text>
<text class="g" transform="translate(534.75 29.2) rotate(-90)" font-size="8.17" text-anchor="start">29</text>
<text class="g" transform="translate(541.51 29.2) rotate(-90)" font-size="8.17" text-anchor="start">30</text>
<text class="g" transform="translate(548.28 29.2) rotate(-90)" font-size="8.17" text-anchor="start">31</text>
<g>
<rect x="552.90" y="48.40" width="6.77" height="12.91" fill="#FFA500"/>
<rect x="559.67" y="48.40" width="6.77" height="12.91" fill="#FFEA86"/>
<rect x="566.44" y="48.40" width="13.54" height="12.91" fill="#FFA500"/>
<rect x="579.98" y="48.40" width="6.77" height="12.91" fill="#FFEA86"/>
<rect x="586.75" y="48.40" width="13.54" height="12.91" fill="#B0E0E6"/>
<rect x="600.29" y="48.40" width="20.31" height="12.91" fill="#4682B4"/>
<rect x="620.60" y="48.40" width="13.54" height="12.91" fill="#B0E0E6"/>
<rect x="634.14" y="48.40" width="13.54" height="12.91" fill="#FFA500"/>
<rect x="647.68" y="48.40" width="13.54" height="12.91" fill="#FFEA86"/>
<rect x="661.22" y="48.40" width="13.54" height="12.91" fill="#B0E0E6"/>
<rect x="674.76" y="48.40" width="13.54" height="12.91" fill="#4682B4"/>
<rect x="688.30" y="48.40" width="20.31" height="12.91" fill="#B0E0E6"/>
<rect x="708.61" y="48.40" width="13.54" height="12.91" fill="#4682B4"/>
<rect x="722.15" y="48.40" width="6.77" height="12.91" fill="#FFEA86"/>
<rect x="728.92" y="48.40" width="6.77" height="12.91" fill="#FFA500"/>
<rect x="735.69" y="48.40" width="6.77" height="12.91" fill="#B0E0E6"/>
<rect x="742.46" y="48.40" width="13.54" height="12.91" fill="#FFEA86"/>
<rect x="756.00" y="48.40" width="6.77" height="12.91" fill="#FFA500"/>
<rect x="552.90" y="61.31" width="13.54" height="12.91" fill="#FFEA86"/>
<rect x="566.44" y="61.31" width="13.54" height="12.91" fill="#FFA500"/>
<rect x="579.98" y="61.31" width="6.77" height="12.91" fill="#FFEA86"/>
<rect x="586.75" y="61.31" width="13.54" height="12.91" fill="#B0E0E6"/>
<rect x="600.29" y="61.31" width="20.31" height="12.91" fill="#4682B4"/>
<rect x="620.60" y="61.31" width="6.77" height="12.91" fill="#B0E0E6"/>
<rect x="627.37" y="61.31" width="6.77" height="12.91" fill="#FFEA86"/>
<rect x="634.14" y="61.31" width="13.54" height="12.91" fill="#FFA500"/>
<rect x="647.68" y="61.31" width="13.54" height="12.91" fill="#FFEA86"/>
<rect x="661.22" y="61.31" width="13.54" height="12.91" fill="#B0E0E6"/>
<rect x="674.76" y="61.31" width="27.08" height="12.91" fill="#4682B4"/>
<rect x="701.84" y="61.31" width="20.31" height="12.91" fill="#B0E0E6"/>
<rect x="722.15" y="61.31" width="6.77" height="12.91" fill="#FFEA86"/>
<rect x="728.92" y="61.31" width="6.77" height="12.91" fill="#FFA500"/>
<rect x="735.69" y="61.31" width="6.77" height="12.91" fill="#B0E0E6"/>
<rect x="742.46" y="61.31" width="13.54" height="12.91" fill="#FFEA86"/>
<rect x="756.00" y="61.31" width="6.77" height="12.91" fill="#FFA500"/>
<rect x="552.90" y="74.21" width="20.31" height="12.91" fill="#FFEA86"/>
<rect x="573.21" y="74.21" width="6.77" height="12.91" fill="#FFA500"/>
<rect x="579.98" y="74.21" width="27.08" height="12.91" fill="#B0E0E6"/>
<rect x="607.06" y="74.21" width="13.54" height="12.91" fill="#4682B4"/>
<rect x="620.60" y="74.21" width="13.54" height="12.91" fill="#B0E0E6"/>
<rect x="634.14" y="74.21" width="13.54" height="12.91" fill="#FFA500"/>
<rect x="647.68" y="74.21" width="13.54" height="12.91" fill="#FFEA86"/>
<rect x="661.22" y="74.21" width="13.54" height="12.91" fill="#B0E0E6"/>
<rect x="674.76" y="74.21" width="27.08" height="12.91" fill="#4682B4"/>
<rect x="701.84" y="74.21" width="6.77" height="12.91" fill="#B0E0E6"/>
<rect x="708.61" y="74.21" width="13.54" height="12.91" fill="#4682B4"/>
<rect x="722.15" y="74.21" width="6.77" height="12.91" fill="#B0E0E6"/>
<rect x="728.92" y="74.21" width="20.31" height="12.91" fill="#FFEA86"/>
<rect x="749.23" y="74.21" width="13.54" height="12.91" fill="#FFA500"/>
<rect x="552.90" y="87.12" width="27.08" height="12.91" fill="#FFA500"/>
<rect x="579.98" y="87.12" width="6.77" height="12.91" fill="#B0E0E6"/>
<rect x="586.75" y="87.12" width="6.77" height="12.91" fill="#4682B4"/>
<rect x="593.52" y="87.12" width="6.77" height="12.91" fill="#B0E0E6"/>
<rect x="600.29" y="87.12" width="27.08" height="12.91" fill="#4682B4"/>
<rect x="627.37" y="87.12" width="6.77" height="12.91" fill="#B0E0E6"/>
<rect x="634.14" y="87.12" width="27.08" height="12.91" fill="#FFEA86"/>
<rect x="661.22" y="87.12" width="6.77" height="12.91" fill="#B0E0E6"/>
<rect x="667.99" y="87.12" width="33.85" height="12.91" fill="#4682B4"/>
<rect x="701.84" y="87.12" width="20.31" height="12.91" fill="#B0E0E6"/>
<rect x="722.15" y="87.12" width="6.77" height="12.91" fill="#FFEA86"/>
<rect x="728.92" y="87.12" width="6.77" height="12.91" fill="#FFA500"/>
<rect x="735.69" y="87.12" width="6.77" height="12.91" fill="#B0E0E6"/>
<rect x="742.46" y="87.12" width="6.77" height="12.91" fill="#FFEA86"/>
<rect x="749.23" y="87.12" width="13.54" height="12.91" fill="#FFA500"/>
<rect x="552.90" y="100.03" width="6.77" height="12.91" fill="#FFEA86"/>
<rect x="559.67" y="100.03" width="6.77" height="12.91" fill="#FFA500"/>
<rect x="566.44" y="100.03" width="6.77" height="12.91" fill="#B22222"/>
<rect x="573.21" y="100.03" width="6.77" height="12.91" fill="#FFA500"/>
<rect x="579.98" y="100.03" width="20.31" height="12.91" fill="#B0E0E6"/>
<rect x="600.29" y="100.03" width="20.31" height="12.91" fill="#4682B4"/>
<rect x="620.60" y="100.03" width="6.77" height="12.91" fill="#B0E0E6"/>
<rect x="627.37" y="100.03" width="6.77" height="12.91" fill="#FFEA86"/>
<rect x="634.14" y="100.03" width="6.77" height="12.91" fill="#FFA500"/>
<rect x="640.91" y="100.03" width="13.54" height="12.91" fill="#FFEA86"/>
<rect x="654.45" y="100.03" width="13.54" height="12.91" fill="#B0E0E6"/>
<rect x="667.99" y="100.03" width="27.08" height="12.91" fill="#4682B4"/>
<rect x="695.07" y="100.03" width="27.08" height="12.91" fill="#B0E0E6"/>
<rect x="722.15" y="100.03" width="6.77" height="12.91" fill="#FFEA86"/>
<rect x="728.92" y="100.03" width="6.77" height="12.91" fill="#FFA500"/>
<rect x="735.69" y="100.03" width="13.54" height="12.91" fill="#FFEA86"/>
<rect x="749.23" y="100.03" width="13.54" height="12.91" fill="#FFA500"/>
<rect x="552.90" y="112.93" width="13.54" height="12.91" fill="#FFA500"/>
<rect x="566.44" y="112.93" width="6.77" height="12.91" fill="#B22222"/>
<rect x="573.21" y="112.93" width="6.77" height="12.91" fill="#FFA500"/>
<rect x="579.98" y="112.93" width="13.54" height="12.91" fill="#4682B4"/>
<rect x="593.52" y="112.93" width="6.77" height="12.91" fill="#B0E0E6"/>
<rect x="600.29" y="112.93" width="20.31" height="12.91" fill="#4682B4"/>
<rect x="620.60" y="112.93" width="6.77" height="12.91" fill="#FFEA86"/>
<rect x="627.37" y="112.93" width="6.77" height="12.91" fill="#B0E0E6"/>
<rect x="634.14" y="112.93" width="13.54" height="12.91" fill="#FFEA86"/>
<rect x="647.68" y="112.93" width="6.77" height="12.91" fill="#B0E0E6"/>
<rect x="654.45" y="112.93" width="60.93" height="12.91" fill="#4682B4"/>
<rect x="715.38" y="112.93" width="6.77" height="12.91" fill="#B0E0E6"/>
<rect x="722.15" y="112.93" width="6.77" height="12.91" fill="#FFEA86"/>
<rect x="728.92" y="112.93" width="6.77" height="12.91" fill="#FFA500"/>
<rect x="735.69" y="112.93" width="6.77" height="12.91" fill="#4682B4"/>
<rect x="742.46" y="112.93" width="6.77" height="12.91" fill="#FFEA86"/>
<rect x="749.23" y="112.93" width="13.54" height="12.91" fill="#FFA500"/>
<rect x="552.90" y="125.84" width="6.77" height="12.91" fill="#FFEA86"/>
<rect x="559.67" y="125.84" width="20.31" height="12.91" fill="#FFA500"/>
<rect x="579.98" y="125.84" width="27.08" height="12.91" fill="#B0E0E6"/>
<rect x="607.06" y="125.84" width="6.77" height="12.91" fill="#4682B4"/>
<rect x="613.83" y="125.84" width="13.54" height="12.91" fill="#B0E0E6"/>
<rect x="627.37" y="125.84" width="6.77" height="12.91" fill="#FFEA86"/>
<rect x="634.14" y="125.84" width="13.54" height="12.91" fill="#FFA500"/>
<rect x="647.68" y="125.84" width="6.77" height="12.91" fill="#FFEA86"/>
<rect x="654.45" y="125.84" width="20.31" height="12.91" fill="#B0E0E6"/>
<rect x="674.76" y="125.84" width="27.08" height="12.91" fill="#4682B4"/>
<rect x="701.84" y="125.84" width="6.77" height="12.91" fill="#B0E0E6"/>
<rect x="708.61" y="125.84" width="13.54" height="12.91" fill="#4682B4"/>
<rect x="722.15" y="125.84" width="6.77" height="12.91" fill="#FFEA86"/>
<rect x="728.92" y="125.84" width="6.77" height="12.91" fill="#FFA500"/>
<rect x="735.69" y="125.84" width="6.77" height="12.91" fill="#FFEA86"/>
<rect x="742.46" y="125.84" width="20.31" height="12.91" fill="#FFA500"/>
<rect x="552.90" y="138.75" width="13.54" height="12.91" fill="#FFA500"/>
<rect x="566.44" y="138.75" width="6.77" height="12.91" fill="#B22222"/>
<rect x="573.21" y="138.75" width="6.77" height="12.91" fill="#FFA500"/>
<rect x="579.98" y="138.75" width="6.77" height="12.91" fill="#B0E0E6"/>
<rect x="586.75" y="138.75" width="6.77" height="12.91" fill="#4682B4"/>
<rect x="593.52" y="138.75" width="6.77" height="12.91" fill="#B0E0E6"/>
<rect x="600.29" y="138.75" width="20.31" height="12.91" fill="#4682B4"/>
<rect x="620.60" y="138.75" width="6.77" height="12.91" fill="#B0E0E6"/>
<rect x="627.37" y="138.75" width="20.31" height="12.91" fill="#FFEA86"/>
<rect x="647.68" y="138.75" width="13.54" height="12.91" fill="#B0E0E6"/>
<rect x="661.22" y="138.75" width="40.62" height="12.91" fill="#4682B4"/>
<rect x="701.84" y="138.75" width="13.54" height="12.91" fill="#B0E0E6"/>
<rect x="715.38" y="138.75" width="20.31" height="12.91" fill="#FFEA86"/>
<rect x="735.69" y="138.75" width="6.77" height="12.91" fill="#B0E0E6"/>
<rect x="742.46" y="138.75" width="6.77" height="12.91" fill="#FFEA86"/>
<rect x="749.23" y="138.75" width="6.77" height="12.91" fill="#FFA500"/>
<rect x="756.00" y="138.75" width="6.77" height="12.91" fill="#B22222"/>
<rect x="552.90" y="151.65" width="27.08" height="12.91" fill="#FFA500"/>
<rect x="579.98" y="151.65" width="6.77" height="12.91" fill="#FFEA86"/>
<rect x="586.75" y="151.65" width="6.77" height="12.91" fill="#4682B4"/>
<rect x="593.52" y="151.65" width="13.54" height="12.91" fill="#B0E0E6"/>
<rect x="607.06" y="151.65" width="6.77" height="12.91" fill="#4682B4"/>
<rect x="613.83" y="151.65" width="6.77" height="12.91" fill="#B0E0E6"/>
<rect x="620.60" y="151.65" width="6.77" height="12.91" fill="#4682B4"/>
<rect x="627.37" y="151.65" width="6.77" height="12.91" fill="#B0E0E6"/>
<rect x="634.14" y="151.65" width="6.77" height="12.91" fill="#FFA500"/>
<rect x="640.91" y="151.65" width="6.77" height="12.91" fill="#FFEA86"/>
<rect x="647.68" y="151.65" width="6.77" height="12.91" fill="#B0E0E6"/>
<rect x="654.45" y="151.65" width="6.77" height="12.91" fill="#FFEA86"/>
<rect x="661.22" y="151.65" width="13.54" height="12.91" fill="#B0E0E6"/>
<rect x="674.76" y="151.65" width="27.08" height="12.91" fill="#4682B4"/>
<rect x="701.84" y="151.65" width="6.77" height="12.91" fill="#B0E0E6"/>
<rect x="708.61" y="151.65" width="6.77" height="12.91" fill="#FFEA86"/>
<rect x="715.38" y="151.65" width="6.77" height="12.91" fill="#B0E0E6"/>
<rect x="722.15" y="151.65" width="6.77" height="12.91" fill="#FFEA86"/>
<rect x="728.92" y="151.65" width="6.77" height="12.91" fill="#FFA500"/>
<rect x="735.69" y="151.65" width="6.77" height="12.91" fill="#FFEA86"/>
<rect x="742.46" y="151.65" width="20.31" height="12.91" fill="#FFA500"/>
<rect x="552.90" y="164.56" width="13.54" height="12.91" fill="#FFEA86"/>
<rect x="566.44" y="164.56" width="13.54" height="12.91" fill="#FFA500"/>
<rect x="579.98" y="164.56" width="6.77" height="12.91" fill="#FFEA86"/>
<rect x="586.75" y="164.56" width="13.54" height="12.91" fill="#B0E0E6"/>
<rect x="600.29" y="164.56" width="27.08" height="12.91" fill="#4682B4"/>
<rect x="627.37" y="164.56" width="6.77" height="12.91" fill="#B0E0E6"/>
<rect x="634.14" y="164.56" width="6.77" height="12.91" fill="#FFA500"/>
<rect x="640.91" y="164.56" width="20.31" height="12.91" fill="#FFEA86"/>
<rect x="661.22" y="164.56" width="13.54" height="12.91" fill="#B0E0E6"/>
<rect x="674.76" y="164.56" width="20.31" height="12.91" fill="#4682B4"/>
<rect x="695.07" y="164.56" width="20.31" height="12.91" fill="#B0E0E6"/>
<rect x="715.38" y="164.56" width="6.77" height="12.91" fill="#4682B4"/>
<rect x="722.15" y="164.56" width="6.77" height="12.91" fill="#FFEA86"/>
<rect x="728.92" y="164.56" width="6.77" height="12.91" fill="#FFA500"/>
<rect x="735.69" y="164.56" width="6.77" height="12.91" fill="#B0E0E6"/>
<rect x="742.46" y="164.56" width="6.77" height="12.91" fill="#FFEA86"/>
<rect x="749.23" y="164.56" width="13.54" height="12.91" fill="#FFA500"/>
<rect x="552.90" y="177.47" width="13.54" height="12.91" fill="#FFEA86"/>
<rect x="566.44" y="177.47" width="13.54" height="12.91" fill="#FFA500"/>
<rect x="579.98" y="177.47" width="6.77" height="12.91" fill="#B0E0E6"/>
<rect x="586.75" y="177.47" width="6.77" height="12.91" fill="#4682B4"/>
<rect x="593.52" y="177.47" width="6.77" height="12.91" fill="#B0E0E6"/>
<rect x="600.29" y="177.47" width="20.31" height="12.91" fill="#4682B4"/>
<rect x="620.60" y="177.47" width="6.77" height="12.91" fill="#B0E0E6"/>
<rect x="627.37" y="177.47" width="6.77" height="12.91" fill="#FFEA86"/>
<rect x="634.14" y="177.47" width="6.77" height="12.91" fill="#FFA500"/>
<rect x="640.91" y="177.47" width="6.77" height="12.91" fill="#FFEA86"/>
<rect x="647.68" y="177.47" width="20.31" height="12.91" fill="#B0E0E6"/>
<rect x="667.99" y="177.47" width="27.08" height="12.91" fill="#4682B4"/>
<rect x="695.07" y="177.47" width="33.85" height="12.91" fill="#B0E0E6"/>
<rect x="728.92" y="177.47" width="6.77" height="12.91" fill="#FFEA86"/>
<rect x="735.69" y="177.47" width="6.77" height="12.91" fill="#B0E0E6"/>
<rect x="742.46" y="177.47" width="6.77" height="12.91" fill="#FFEA86"/>
<rect x="749.23" y="177.47" width="13.54" height="12.91" fill="#FFA500"/>
<rect x="552.90" y="190.37" width="13.54" height="12.91" fill="#FFEA86"/>
<rect x="566.44" y="190.37" width="13.54" height="12.91" fill="#FFA500"/>
<rect x="579.98" y="190.37" width="6.77" height="12.91" fill="#FFEA86"/>
<rect x="586.75" y="190.37" width="6.77" height="12.91" fill="#4682B4"/>
<rect x="593.52" y="190.37" width="6.77" height="12.91" fill="#B0E0E6"/>
<rect x="600.29" y="190.37" width="20.31" height="12.91" fill="#4682B4"/>
<rect x="620.60" y="190.37" width="6.77" height="12.91" fill="#FFEA86"/>
<rect x="627.37" y="190.37" width="13.54" height="12.91" fill="#FFA500"/>
<rect x="640.91" y="190.37" width="6.77" height="12.91" fill="#FFEA86"/>
<rect x="647.68" y="190.37" width="20.31" height="12.91" fill="#B0E0E6"/>
<rect x="667.99" y="190.37" width="20.31" height="12.91" fill="#4682B4"/>
<rect x="695.07" y="190.37" width="20.31" height="12.91" fill="#B0E0E6"/>
<rect x="715.38" y="190.37" width="6.77" height="12.91" fill="#4682B4"/>
<rect x="722.15" y="190.37" width="6.77" height="12.91" fill="#FFEA86"/>
<rect x="728.92" y="190.37" width="6.77" height="12.91" fill="#FFA500"/>
<rect x="735.69" y="190.37" width="6.77" height="12.91" fill="#FFEA86"/>
<rect x="742.46" y="190.37" width="20.31" height="12.91" fill="#FFA500"/>
<rect x="552.90" y="203.28" width="13.54" height="12.91" fill="#FFEA86"/>
<rect x="566.44" y="203.28" width="6.77" height="12.91" fill="#FFA500"/>
<rect x="573.21" y="203.28" width="13.54" height="12.91" fill="#FFEA86"/>
<rect x="586.75" y="203.28" width="33.85" height="12.91" fill="#4682B4"/>
<rect x="620.60" y="203.28" width="6.77" height="12.91" fill="#B0E0E6"/>
<rect x="627.37" y="203.28" width="6.77" height="12.91" fill="#FFEA86"/>
<rect x="634.14" y="203.28" width="6.77" height="12.91" fill="#FFA500"/>
<rect x="640.91" y="203.28" width="6.77" height="12.91" fill="#FFEA86"/>
<rect x="647.68" y="203.28" width="6.77" height="12.91" fill="#B0E0E6"/>
<rect x="654.45" y="203.28" width="6.77" height="12.91" fill="#FFEA86"/>
<rect x="661.22" y="203.28" width="6.77" height="12.91" fill="#B0E0E6"/>
<rect x="667.99" y="203.28" width="33.85" height="12.91" fill="#4682B4"/>
<rect x="701.84" y="203.28" width="20.31" height="12.91" fill="#B0E0E6"/>
<rect x="722.15" y="203.28" width="6.77" height="12.91" fill="#FFEA86"/>
<rect x="728.92" y="203.28" width="6.77" height="12.91" fill="#FFA500"/>
<rect x="735.69" y="203.28" width="6.77" height="12.91" fill="#B0E0E6"/>
<rect x="742.46" y="203.28" width="6.77" height="12.91" fill="#FFEA86"/>
<rect x="749.23" y="203.28" width="13.54" height="12.91" fill="#FFA500"/>
<rect x="552.90" y="216.19" width="20.31" height="12.91" fill="#FFEA86"/>
<rect x="573.21" y="216.19" width="6.77" height="12.91" fill="#FFA500"/>
<rect x="579.98" y="216.19" width="6.77" height="12.91" fill="#FFEA86"/>
<rect x="586.75" y="216.19" width="20.31" height="12.91" fill="#B0E0E6"/>
<rect x="607.06" y="216.19" width="13.54" height="12.91" fill="#4682B4"/>
<rect x="620.60" y="216.19" width="6.77" height="12.91" fill="#B0E0E6"/>
<rect x="627.37" y="216.19" width="13.54" height="12.91" fill="#FFA500"/>
<rect x="640.91" y="216.19" width="20.31" height="12.91" fill="#FFEA86"/>
<rect x="661.22" y="216.19" width="6.77" height="12.91" fill="#B0E0E6"/>
<rect x="667.99" y="216.19" width="6.77" height="12.91" fill="#4682B4"/>
<rect x="674.76" y="216.19" width="6.77" height="12.91" fill="#B0E0E6"/>
<rect x="688.30" y="216.19" width="13.54" height="12.91" fill="#4682B4"/>
<rect x="701.84" y="216.19" width="13.54" height="12.91" fill="#B0E0E6"/>
<rect x="715.38" y="216.19" width="13.54" height="12.91" fill="#FFEA86"/>
<rect x="728.92" y="216.19" width="6.77" height="12.91" fill="#FFA500"/>
<rect x="735.69" y="216.19" width="6.77" height="12.91" fill="#FFEA86"/>
<rect x="742.46" y="216.19" width="6.77" height="12.91" fill="#FFA500"/>
<rect x="749.23" y="216.19" width="6.77" height="12.91" fill="#B22222"/>
<rect x="756.00" y="216.19" width="6.77" height="12.91" fill="#FFA500"/>
<rect x="552.90" y="229.09" width="6.77" height="12.91" fill="#FFEA86"/>
<rect x="559.67" y="229.09" width="20.31" height="12.91" fill="#FFA500"/>
<rect x="579.98" y="229.09" width="6.77" height="12.91" fill="#FFEA86"/>
<rect x="586.75" y="229.09" width="20.31" height="12.91" fill="#B0E0E6"/>
<rect x="607.06" y="229.09" width="6.77" height="12.91" fill="#4682B4"/>
<rect x="613.83" y="229.09" width="13.54" height="12.91" fill="#B0E0E6"/>
<rect x="627.37" y="229.09" width="13.54" height="12.91" fill="#FFA500"/>
<rect x="640.91" y="229.09" width="6.77" height="12.91" fill="#FFEA86"/>
<rect x="647.68" y="229.09" width="20.31" height="12.91" fill="#B0E0E6"/>
<rect x="667.99" y="229.09" width="33.85" height="12.91" fill="#4682B4"/>
<rect x="701.84" y="229.09" width="13.54" height="12.91" fill="#B0E0E6"/>
<rect x="715.38" y="229.09" width="6.77" height="12.91" fill="#FFEA86"/>
<rect x="722.15" y="229.09" width="13.54" height="12.91" fill="#FFA500"/>
<rect x="735.69" y="229.09" width="6.77" height="12.91" fill="#FFEA86"/>
<rect x="742.46" y="229.09" width="6.77" height="12.91" fill="#FFA500"/>
<rect x="749.23" y="229.09" width="6.77" height="12.91" fill="#B22222"/>
<rect x="756.00" y="229.09" width="6.77" height="12.91" fill="#FFA500"/>
<path d="M559.67 48.40V242.00M566.44 48.40V242.00M573.21 48.40V242.00M579.98 48.40V242.00M586.75 48.40V242.00M593.52 48.40V242.00M600.29 48.40V242.00M607.06 48.40V242.00M613.83 48.40V242.00M620.60 48.40V242.00M627.37 48.40V242.00M634.14 48.40V242.00M640.91 48.40V242.00M647.68 48.40V242.00M654.45 48.40V242.00M661.22 48.40V242.00M667.99 48.40V242.00M674.76 48.40V242.00M681.53 48.40V242.00M688.30 48.40V242.00M695.07 48.40V242.00M701.84 48.40V242.00M708.61 48.40V242.00M715.38 48.40V242.00M722.15 48.40V242.00M728.92 48.40V242.00M735.69 48.40V242.00M742.46 48.40V242.00M749.23 48.40V242.00M756.00 48.40V242.00" stroke="#fff" stroke-opacity="0.2" stroke-width="0.7" fill="none"/>
<path d="M552.90 61.31H762.77M552.90 74.21H762.77M552.90 87.12H762.77M552.90 100.03H762.77M552.90 112.93H762.77M552.90 125.84H762.77M552.90 138.75H762.77M552.90 151.65H762.77M552.90 164.56H762.77M552.90 177.47H762.77M552.90 190.37H762.77M552.90 203.28H762.77M552.90 216.19H762.77M552.90 229.09H762.77" stroke="#fff" stroke-opacity="0.13" stroke-width="0.7" fill="none"/>
</g>
<text x="656.7" y="46.8" font-size="8.3" text-anchor="middle">03</text>
<path d="M583.37 38.45v-5.3M617.21 38.45v-5.3M651.06 38.45v-5.3M684.91 38.45v-5.3M718.76 38.45v-5.3M752.62 38.45v-5.3" stroke="#222" stroke-width="0.75" fill="none"/>
<g>
<rect x="766.90" y="48.40" width="6.77" height="12.91" fill="#FFA500"/>
<rect x="773.67" y="48.40" width="6.77" height="12.91" fill="#B0E0E6"/>
<rect x="780.44" y="48.40" width="13.54" height="12.91" fill="#4682B4"/>
<rect x="793.98" y="48.40" width="6.77" height="12.91" fill="#B0E0E6"/>
<rect x="800.75" y="48.40" width="13.54" height="12.91" fill="#104E8B"/>
<rect x="814.29" y="48.40" width="6.77" height="12.91" fill="#4682B4"/>
<rect x="821.06" y="48.40" width="6.77" height="12.91" fill="#B0E0E6"/>
<rect x="827.83" y="48.40" width="6.77" height="12.91" fill="#FFEA86"/>
<rect x="834.60" y="48.40" width="13.54" height="12.91" fill="#FFA500"/>
<rect x="848.14" y="48.40" width="33.85" height="12.91" fill="#4682B4"/>
<rect x="881.99" y="48.40" width="13.54" height="12.91" fill="#B0E0E6"/>
<rect x="895.53" y="48.40" width="6.77" height="12.91" fill="#FFEA86"/>
<rect x="902.30" y="48.40" width="6.77" height="12.91" fill="#B0E0E6"/>
<rect x="909.07" y="48.40" width="40.62" height="12.91" fill="#4682B4"/>
<rect x="949.69" y="48.40" width="13.54" height="12.91" fill="#B0E0E6"/>
<rect x="963.23" y="48.40" width="6.77" height="12.91" fill="#FFEA86"/>
<rect x="766.90" y="61.31" width="6.77" height="12.91" fill="#FFA500"/>
<rect x="773.67" y="61.31" width="6.77" height="12.91" fill="#FFEA86"/>
<rect x="780.44" y="61.31" width="6.77" height="12.91" fill="#B0E0E6"/>
<rect x="787.21" y="61.31" width="6.77" height="12.91" fill="#4682B4"/>
<rect x="793.98" y="61.31" width="6.77" height="12.91" fill="#B0E0E6"/>
<rect x="800.75" y="61.31" width="6.77" height="12.91" fill="#104E8B"/>
<rect x="807.52" y="61.31" width="6.77" height="12.91" fill="#4682B4"/>
<rect x="814.29" y="61.31" width="6.77" height="12.91" fill="#104E8B"/>
<rect x="821.06" y="61.31" width="6.77" height="12.91" fill="#4682B4"/>
<rect x="827.83" y="61.31" width="6.77" height="12.91" fill="#FFEA86"/>
<rect x="834.60" y="61.31" width="13.54" height="12.91" fill="#FFA500"/>
<rect x="848.14" y="61.31" width="27.08" height="12.91" fill="#4682B4"/>
<rect x="875.22" y="61.31" width="20.31" height="12.91" fill="#B0E0E6"/>
<rect x="895.53" y="61.31" width="6.77" height="12.91" fill="#FFEA86"/>
<rect x="902.30" y="61.31" width="6.77" height="12.91" fill="#B0E0E6"/>
<rect x="909.07" y="61.31" width="13.54" height="12.91" fill="#4682B4"/>
<rect x="922.61" y="61.31" width="6.77" height="12.91" fill="#B0E0E6"/>
<rect x="929.38" y="61.31" width="20.31" height="12.91" fill="#4682B4"/>
<rect x="949.69" y="61.31" width="13.54" height="12.91" fill="#B0E0E6"/>
<rect x="963.23" y="61.31" width="6.77" height="12.91" fill="#FFEA86"/>
<rect x="766.90" y="74.21" width="6.77" height="12.91" fill="#FFA500"/>
<rect x="773.67" y="74.21" width="6.77" height="12.91" fill="#FFEA86"/>
<rect x="780.44" y="74.21" width="13.54" height="12.91" fill="#4682B4"/>
<rect x="793.98" y="74.21" width="6.77" height="12.91" fill="#B0E0E6"/>
<rect x="800.75" y="74.21" width="27.08" height="12.91" fill="#4682B4"/>
<rect x="827.83" y="74.21" width="13.54" height="12.91" fill="#B0E0E6"/>
<rect x="841.37" y="74.21" width="6.77" height="12.91" fill="#FFEA86"/>
<rect x="848.14" y="74.21" width="27.08" height="12.91" fill="#4682B4"/>
<rect x="875.22" y="74.21" width="20.31" height="12.91" fill="#B0E0E6"/>
<rect x="895.53" y="74.21" width="6.77" height="12.91" fill="#4682B4"/>
<rect x="902.30" y="74.21" width="13.54" height="12.91" fill="#B0E0E6"/>
<rect x="915.84" y="74.21" width="6.77" height="12.91" fill="#4682B4"/>
<rect x="922.61" y="74.21" width="6.77" height="12.91" fill="#B0E0E6"/>
<rect x="929.38" y="74.21" width="20.31" height="12.91" fill="#4682B4"/>
<rect x="949.69" y="74.21" width="20.31" height="12.91" fill="#B0E0E6"/>
<rect x="766.90" y="87.12" width="6.77" height="12.91" fill="#FFA500"/>
<rect x="773.67" y="87.12" width="6.77" height="12.91" fill="#FFEA86"/>
<rect x="780.44" y="87.12" width="13.54" height="12.91" fill="#4682B4"/>
<rect x="793.98" y="87.12" width="6.77" height="12.91" fill="#B0E0E6"/>
<rect x="800.75" y="87.12" width="6.77" height="12.91" fill="#104E8B"/>
<rect x="807.52" y="87.12" width="20.31" height="12.91" fill="#4682B4"/>
<rect x="827.83" y="87.12" width="13.54" height="12.91" fill="#FFEA86"/>
<rect x="841.37" y="87.12" width="6.77" height="12.91" fill="#FFA500"/>
<rect x="848.14" y="87.12" width="27.08" height="12.91" fill="#4682B4"/>
<rect x="875.22" y="87.12" width="20.31" height="12.91" fill="#B0E0E6"/>
<rect x="895.53" y="87.12" width="6.77" height="12.91" fill="#FFEA86"/>
<rect x="902.30" y="87.12" width="13.54" height="12.91" fill="#B0E0E6"/>
<rect x="915.84" y="87.12" width="6.77" height="12.91" fill="#4682B4"/>
<rect x="922.61" y="87.12" width="6.77" height="12.91" fill="#B0E0E6"/>
<rect x="929.38" y="87.12" width="20.31" height="12.91" fill="#4682B4"/>
<rect x="949.69" y="87.12" width="13.54" height="12.91" fill="#B0E0E6"/>
<rect x="963.23" y="87.12" width="6.77" height="12.91" fill="#FFEA86"/>
<rect x="766.90" y="100.03" width="6.77" height="12.91" fill="#FFA500"/>
<rect x="773.67" y="100.03" width="6.77" height="12.91" fill="#B0E0E6"/>
<rect x="780.44" y="100.03" width="13.54" height="12.91" fill="#4682B4"/>
<rect x="793.98" y="100.03" width="6.77" height="12.91" fill="#FFEA86"/>
<rect x="800.75" y="100.03" width="20.31" height="12.91" fill="#4682B4"/>
<rect x="821.06" y="100.03" width="6.77" height="12.91" fill="#B0E0E6"/>
<rect x="827.83" y="100.03" width="13.54" height="12.91" fill="#FFEA86"/>
<rect x="841.37" y="100.03" width="6.77" height="12.91" fill="#FFA500"/>
<rect x="848.14" y="100.03" width="27.08" height="12.91" fill="#4682B4"/>
<rect x="875.22" y="100.03" width="20.31" height="12.91" fill="#B0E0E6"/>
<rect x="895.53" y="100.03" width="13.54" height="12.91" fill="#FFEA86"/>
<rect x="909.07" y="100.03" width="6.77" height="12.91" fill="#B0E0E6"/>
<rect x="915.84" y="100.03" width="6.77" height="12.91" fill="#4682B4"/>
<rect x="922.61" y="100.03" width="6.77" height="12.91" fill="#B0E0E6"/>
<rect x="929.38" y="100.03" width="20.31" height="12.91" fill="#4682B4"/>
<rect x="949.69" y="100.03" width="6.77" height="12.91" fill="#B0E0E6"/>
<rect x="956.46" y="100.03" width="6.77" height="12.91" fill="#FFEA86"/>
<rect x="963.23" y="100.03" width="6.77" height="12.91" fill="#B0E0E6"/>
<rect x="766.90" y="112.93" width="6.77" height="12.91" fill="#FFA500"/>
<rect x="773.67" y="112.93" width="6.77" height="12.91" fill="#B0E0E6"/>
<rect x="780.44" y="112.93" width="13.54" height="12.91" fill="#4682B4"/>
<rect x="793.98" y="112.93" width="6.77" height="12.91" fill="#B0E0E6"/>
<rect x="800.75" y="112.93" width="20.31" height="12.91" fill="#104E8B"/>
<rect x="821.06" y="112.93" width="6.77" height="12.91" fill="#B0E0E6"/>
<rect x="827.83" y="112.93" width="6.77" height="12.91" fill="#FFA500"/>
<rect x="834.60" y="112.93" width="6.77" height="12.91" fill="#FFEA86"/>
<rect x="841.37" y="112.93" width="6.77" height="12.91" fill="#FFA500"/>
<rect x="848.14" y="112.93" width="6.77" height="12.91" fill="#FFEA86"/>
<rect x="854.91" y="112.93" width="13.54" height="12.91" fill="#4682B4"/>
<rect x="868.45" y="112.93" width="20.31" height="12.91" fill="#B0E0E6"/>
<rect x="888.76" y="112.93" width="6.77" height="12.91" fill="#FFEA86"/>
<rect x="895.53" y="112.93" width="6.77" height="12.91" fill="#B0E0E6"/>
<rect x="902.30" y="112.93" width="6.77" height="12.91" fill="#FFEA86"/>
<rect x="909.07" y="112.93" width="40.62" height="12.91" fill="#4682B4"/>
<rect x="949.69" y="112.93" width="6.77" height="12.91" fill="#B0E0E6"/>
<rect x="956.46" y="112.93" width="13.54" height="12.91" fill="#FFEA86"/>
<rect x="766.90" y="125.84" width="6.77" height="12.91" fill="#B22222"/>
<rect x="773.67" y="125.84" width="6.77" height="12.91" fill="#FFEA86"/>
<rect x="780.44" y="125.84" width="13.54" height="12.91" fill="#4682B4"/>
<rect x="793.98" y="125.84" width="6.77" height="12.91" fill="#B0E0E6"/>
<rect x="800.75" y="125.84" width="27.08" height="12.91" fill="#4682B4"/>
<rect x="827.83" y="125.84" width="13.54" height="12.91" fill="#FFEA86"/>
<rect x="841.37" y="125.84" width="6.77" height="12.91" fill="#FFA500"/>
<rect x="848.14" y="125.84" width="27.08" height="12.91" fill="#4682B4"/>
<rect x="875.22" y="125.84" width="54.16" height="12.91" fill="#B0E0E6"/>
<rect x="929.38" y="125.84" width="20.31" height="12.91" fill="#4682B4"/>
<rect x="949.69" y="125.84" width="13.54" height="12.91" fill="#B0E0E6"/>
<rect x="963.23" y="125.84" width="6.77" height="12.91" fill="#FFEA86"/>
<rect x="766.90" y="138.75" width="6.77" height="12.91" fill="#FFA500"/>
<rect x="773.67" y="138.75" width="6.77" height="12.91" fill="#B0E0E6"/>
<rect x="780.44" y="138.75" width="13.54" height="12.91" fill="#4682B4"/>
<rect x="793.98" y="138.75" width="6.77" height="12.91" fill="#B0E0E6"/>
<rect x="800.75" y="138.75" width="13.54" height="12.91" fill="#104E8B"/>
<rect x="814.29" y="138.75" width="13.54" height="12.91" fill="#4682B4"/>
<rect x="827.83" y="138.75" width="20.31" height="12.91" fill="#FFEA86"/>
<rect x="848.14" y="138.75" width="6.77" height="12.91" fill="#B0E0E6"/>
<rect x="854.91" y="138.75" width="20.31" height="12.91" fill="#4682B4"/>
<rect x="875.22" y="138.75" width="13.54" height="12.91" fill="#B0E0E6"/>
<rect x="888.76" y="138.75" width="6.77" height="12.91" fill="#FFEA86"/>
<rect x="895.53" y="138.75" width="6.77" height="12.91" fill="#B0E0E6"/>
<rect x="902.30" y="138.75" width="6.77" height="12.91" fill="#FFEA86"/>
<rect x="909.07" y="138.75" width="40.62" height="12.91" fill="#4682B4"/>
<rect x="949.69" y="138.75" width="6.77" height="12.91" fill="#B0E0E6"/>
<rect x="956.46" y="138.75" width="13.54" height="12.91" fill="#FFEA86"/>
<rect x="766.90" y="151.65" width="6.77" height="12.91" fill="#FFA500"/>
<rect x="773.67" y="151.65" width="6.77" height="12.91" fill="#FFEA86"/>
<rect x="780.44" y="151.65" width="13.54" height="12.91" fill="#4682B4"/>
<rect x="793.98" y="151.65" width="6.77" height="12.91" fill="#B0E0E6"/>
<rect x="800.75" y="151.65" width="6.77" height="12.91" fill="#4682B4"/>
<rect x="807.52" y="151.65" width="13.54" height="12.91" fill="#104E8B"/>
<rect x="821.06" y="151.65" width="6.77" height="12.91" fill="#4682B4"/>
<rect x="827.83" y="151.65" width="13.54" height="12.91" fill="#FFEA86"/>
<rect x="841.37" y="151.65" width="6.77" height="12.91" fill="#FFA500"/>
<rect x="848.14" y="151.65" width="6.77" height="12.91" fill="#4682B4"/>
<rect x="854.91" y="151.65" width="6.77" height="12.91" fill="#B0E0E6"/>
<rect x="861.68" y="151.65" width="20.31" height="12.91" fill="#4682B4"/>
<rect x="881.99" y="151.65" width="33.85" height="12.91" fill="#B0E0E6"/>
<rect x="915.84" y="151.65" width="33.85" height="12.91" fill="#4682B4"/>
<rect x="949.69" y="151.65" width="13.54" height="12.91" fill="#B0E0E6"/>
<rect x="963.23" y="151.65" width="6.77" height="12.91" fill="#FFEA86"/>
<rect x="766.90" y="164.56" width="6.77" height="12.91" fill="#FFA500"/>
<rect x="773.67" y="164.56" width="6.77" height="12.91" fill="#FFEA86"/>
<rect x="780.44" y="164.56" width="13.54" height="12.91" fill="#4682B4"/>
<rect x="793.98" y="164.56" width="6.77" height="12.91" fill="#FFEA86"/>
<rect x="800.75" y="164.56" width="27.08" height="12.91" fill="#4682B4"/>
<rect x="827.83" y="164.56" width="13.54" height="12.91" fill="#FFEA86"/>
<rect x="841.37" y="164.56" width="6.77" height="12.91" fill="#FFA500"/>
<rect x="848.14" y="164.56" width="27.08" height="12.91" fill="#4682B4"/>
<rect x="875.22" y="164.56" width="33.85" height="12.91" fill="#B0E0E6"/>
<rect x="909.07" y="164.56" width="13.54" height="12.91" fill="#4682B4"/>
<rect x="922.61" y="164.56" width="6.77" height="12.91" fill="#B0E0E6"/>
<rect x="929.38" y="164.56" width="20.31" height="12.91" fill="#4682B4"/>
<rect x="949.69" y="164.56" width="13.54" height="12.91" fill="#B0E0E6"/>
<rect x="963.23" y="164.56" width="6.77" height="12.91" fill="#FFEA86"/>
<rect x="766.90" y="177.47" width="6.77" height="12.91" fill="#FFA500"/>
<rect x="773.67" y="177.47" width="6.77" height="12.91" fill="#B0E0E6"/>
<rect x="780.44" y="177.47" width="13.54" height="12.91" fill="#4682B4"/>
<rect x="793.98" y="177.47" width="6.77" height="12.91" fill="#FFEA86"/>
<rect x="800.75" y="177.47" width="20.31" height="12.91" fill="#4682B4"/>
<rect x="821.06" y="177.47" width="6.77" height="12.91" fill="#B0E0E6"/>
<rect x="827.83" y="177.47" width="6.77" height="12.91" fill="#FFEA86"/>
<rect x="834.60" y="177.47" width="13.54" height="12.91" fill="#FFA500"/>
<rect x="848.14" y="177.47" width="27.08" height="12.91" fill="#4682B4"/>
<rect x="875.22" y="177.47" width="40.62" height="12.91" fill="#B0E0E6"/>
<rect x="915.84" y="177.47" width="6.77" height="12.91" fill="#4682B4"/>
<rect x="922.61" y="177.47" width="6.77" height="12.91" fill="#B0E0E6"/>
<rect x="929.38" y="177.47" width="20.31" height="12.91" fill="#4682B4"/>
<rect x="949.69" y="177.47" width="6.77" height="12.91" fill="#B0E0E6"/>
<rect x="956.46" y="177.47" width="13.54" height="12.91" fill="#FFEA86"/>
<rect x="766.90" y="190.37" width="6.77" height="12.91" fill="#FFA500"/>
<rect x="773.67" y="190.37" width="6.77" height="12.91" fill="#FFEA86"/>
<rect x="780.44" y="190.37" width="13.54" height="12.91" fill="#4682B4"/>
<rect x="793.98" y="190.37" width="6.77" height="12.91" fill="#FFEA86"/>
<rect x="800.75" y="190.37" width="6.77" height="12.91" fill="#4682B4"/>
<rect x="807.52" y="190.37" width="6.77" height="12.91" fill="#104E8B"/>
<rect x="814.29" y="190.37" width="6.77" height="12.91" fill="#4682B4"/>
<rect x="821.06" y="190.37" width="6.77" height="12.91" fill="#B0E0E6"/>
<rect x="827.83" y="190.37" width="20.31" height="12.91" fill="#FFEA86"/>
<rect x="848.14" y="190.37" width="27.08" height="12.91" fill="#4682B4"/>
<rect x="875.22" y="190.37" width="40.62" height="12.91" fill="#B0E0E6"/>
<rect x="915.84" y="190.37" width="13.54" height="12.91" fill="#4682B4"/>
<rect x="929.38" y="190.37" width="6.77" height="12.91" fill="#B0E0E6"/>
<rect x="936.15" y="190.37" width="13.54" height="12.91" fill="#4682B4"/>
<rect x="949.69" y="190.37" width="6.77" height="12.91" fill="#B0E0E6"/>
<rect x="956.46" y="190.37" width="13.54" height="12.91" fill="#FFEA86"/>
<rect x="766.90" y="203.28" width="6.77" height="12.91" fill="#B22222"/>
<rect x="773.67" y="203.28" width="6.77" height="12.91" fill="#FFEA86"/>
<rect x="780.44" y="203.28" width="13.54" height="12.91" fill="#4682B4"/>
<rect x="793.98" y="203.28" width="6.77" height="12.91" fill="#FFEA86"/>
<rect x="800.75" y="203.28" width="20.31" height="12.91" fill="#4682B4"/>
<rect x="821.06" y="203.28" width="6.77" height="12.91" fill="#B0E0E6"/>
<rect x="827.83" y="203.28" width="13.54" height="12.91" fill="#FFA500"/>
<rect x="841.37" y="203.28" width="6.77" height="12.91" fill="#FFEA86"/>
<rect x="848.14" y="203.28" width="27.08" height="12.91" fill="#4682B4"/>
<rect x="875.22" y="203.28" width="33.85" height="12.91" fill="#B0E0E6"/>
<rect x="909.07" y="203.28" width="40.62" height="12.91" fill="#4682B4"/>
<rect x="949.69" y="203.28" width="6.77" height="12.91" fill="#FFEA86"/>
<rect x="956.46" y="203.28" width="6.77" height="12.91" fill="#FFA500"/>
<rect x="963.23" y="203.28" width="6.77" height="12.91" fill="#FFEA86"/>
<rect x="766.90" y="216.19" width="6.77" height="12.91" fill="#FFA500"/>
<rect x="773.67" y="216.19" width="6.77" height="12.91" fill="#FFEA86"/>
<rect x="780.44" y="216.19" width="13.54" height="12.91" fill="#4682B4"/>
<rect x="793.98" y="216.19" width="6.77" height="12.91" fill="#FFEA86"/>
<rect x="800.75" y="216.19" width="20.31" height="12.91" fill="#4682B4"/>
<rect x="821.06" y="216.19" width="6.77" height="12.91" fill="#B0E0E6"/>
<rect x="827.83" y="216.19" width="13.54" height="12.91" fill="#FFEA86"/>
<rect x="841.37" y="216.19" width="6.77" height="12.91" fill="#B0E0E6"/>
<rect x="848.14" y="216.19" width="27.08" height="12.91" fill="#4682B4"/>
<rect x="875.22" y="216.19" width="27.08" height="12.91" fill="#B0E0E6"/>
<rect x="902.30" y="216.19" width="6.77" height="12.91" fill="#FFEA86"/>
<rect x="909.07" y="216.19" width="6.77" height="12.91" fill="#B0E0E6"/>
<rect x="915.84" y="216.19" width="6.77" height="12.91" fill="#4682B4"/>
<rect x="922.61" y="216.19" width="6.77" height="12.91" fill="#B0E0E6"/>
<rect x="929.38" y="216.19" width="20.31" height="12.91" fill="#4682B4"/>
<rect x="949.69" y="216.19" width="6.77" height="12.91" fill="#B0E0E6"/>
<rect x="956.46" y="216.19" width="13.54" height="12.91" fill="#FFEA86"/>
<rect x="766.90" y="229.09" width="6.77" height="12.91" fill="#FFA500"/>
<rect x="773.67" y="229.09" width="6.77" height="12.91" fill="#FFEA86"/>
<rect x="780.44" y="229.09" width="13.54" height="12.91" fill="#4682B4"/>
<rect x="793.98" y="229.09" width="6.77" height="12.91" fill="#FFEA86"/>
<rect x="800.75" y="229.09" width="13.54" height="12.91" fill="#104E8B"/>
<rect x="814.29" y="229.09" width="6.77" height="12.91" fill="#4682B4"/>
<rect x="821.06" y="229.09" width="20.31" height="12.91" fill="#FFEA86"/>
<rect x="841.37" y="229.09" width="6.77" height="12.91" fill="#B0E0E6"/>
<rect x="848.14" y="229.09" width="40.62" height="12.91" fill="#4682B4"/>
<rect x="888.76" y="229.09" width="13.54" height="12.91" fill="#B0E0E6"/>
<rect x="902.30" y="229.09" width="6.77" height="12.91" fill="#FFEA86"/>
<rect x="909.07" y="229.09" width="13.54" height="12.91" fill="#4682B4"/>
<rect x="922.61" y="229.09" width="6.77" height="12.91" fill="#B0E0E6"/>
<rect x="929.38" y="229.09" width="13.54" height="12.91" fill="#4682B4"/>
<rect x="942.92" y="229.09" width="13.54" height="12.91" fill="#B0E0E6"/>
<rect x="956.46" y="229.09" width="13.54" height="12.91" fill="#FFEA86"/>
<path d="M773.67 48.40V242.00M780.44 48.40V242.00M787.21 48.40V242.00M793.98 48.40V242.00M800.75 48.40V242.00M807.52 48.40V242.00M814.29 48.40V242.00M821.06 48.40V242.00M827.83 48.40V242.00M834.60 48.40V242.00M841.37 48.40V242.00M848.14 48.40V242.00M854.91 48.40V242.00M861.68 48.40V242.00M868.45 48.40V242.00M875.22 48.40V242.00M881.99 48.40V242.00M888.76 48.40V242.00M895.53 48.40V242.00M902.30 48.40V242.00M909.07 48.40V242.00M915.84 48.40V242.00M922.61 48.40V242.00M929.38 48.40V242.00M936.15 48.40V242.00M942.92 48.40V242.00M949.69 48.40V242.00M956.46 48.40V242.00M963.23 48.40V242.00M970.00 48.40V242.00" stroke="#fff" stroke-opacity="0.2" stroke-width="0.7" fill="none"/>
<path d="M766.90 61.31H976.77M766.90 74.21H976.77M766.90 87.12H976.77M766.90 100.03H976.77M766.90 112.93H976.77M766.90 125.84H976.77M766.90 138.75H976.77M766.90 151.65H976.77M766.90 164.56H976.77M766.90 177.47H976.77M766.90 190.37H976.77M766.90 203.28H976.77M766.90 216.19H976.77M766.90 229.09H976.77" stroke="#fff" stroke-opacity="0.13" stroke-width="0.7" fill="none"/>
</g>
<text x="870.7" y="46.8" font-size="8.3" text-anchor="middle">04</text>
<path d="M797.37 38.45v-5.3M831.21 38.45v-5.3M865.06 38.45v-5.3M898.91 38.45v-5.3M932.76 38.45v-5.3M966.62 38.45v-5.3" stroke="#222" stroke-width="0.75" fill="none"/>
<text class="g" transform="translate(773.18 29.2) rotate(-90)" font-size="8.17" text-anchor="start">01</text>
<text class="g" transform="translate(779.95 29.2) rotate(-90)" font-size="8.17" text-anchor="start">02</text>
<text class="g" transform="translate(786.72 29.2) rotate(-90)" font-size="8.17" text-anchor="start">03</text>
<text class="g" transform="translate(793.50 29.2) rotate(-90)" font-size="8.17" text-anchor="start">04</text>
<text class="g" transform="translate(800.26 29.2) rotate(-90)" font-size="8.17" text-anchor="start">05</text>
<text class="g" transform="translate(807.03 29.2) rotate(-90)" font-size="8.17" text-anchor="start">06</text>
<text class="g" transform="translate(813.80 29.2) rotate(-90)" font-size="8.17" text-anchor="start">07</text>
<text class="g" transform="translate(820.57 29.2) rotate(-90)" font-size="8.17" text-anchor="start">08</text>
<text class="g" transform="translate(827.34 29.2) rotate(-90)" font-size="8.17" text-anchor="start">09</text>
<text class="g" transform="translate(834.11 29.2) rotate(-90)" font-size="8.17" text-anchor="start">10</text>
<text class="g" transform="translate(840.88 29.2) rotate(-90)" font-size="8.17" text-anchor="start">11</text>
<text class="g" transform="translate(847.65 29.2) rotate(-90)" font-size="8.17" text-anchor="start">12</text>
<text class="g" transform="translate(854.42 29.2) rotate(-90)" font-size="8.17" text-anchor="start">13</text>
<text class="g" transform="translate(861.19 29.2) rotate(-90)" font-size="8.17" text-anchor="start">14</text>
<text class="g" transform="translate(867.96 29.2) rotate(-90)" font-size="8.17" text-anchor="start">15</text>
<text class="g" transform="translate(874.73 29.2) rotate(-90)" font-size="8.17" text-anchor="start">16</text>
<text class="g" transform="translate(881.50 29.2) rotate(-90)" font-size="8.17" text-anchor="start">17</text>
<text class="g" transform="translate(888.27 29.2) rotate(-90)" font-size="8.17" text-anchor="start">18</text>
<text class="g" transform="translate(895.04 29.2) rotate(-90)" font-size="8.17" text-anchor="start">19</text>
<text class="g" transform="translate(901.81 29.2) rotate(-90)" font-size="8.17" text-anchor="start">20</text>
<text class="g" transform="translate(908.58 29.2) rotate(-90)" font-size="8.17" text-anchor="start">21</text>
<text class="g" transform="translate(915.35 29.2) rotate(-90)" font-size="8.17" text-anchor="start">22</text>
<text class="g" transform="translate(922.12 29.2) rotate(-90)" font-size="8.17" text-anchor="start">23</text>
<text class="g" transform="translate(928.89 29.2) rotate(-90)" font-size="8.17" text-anchor="start">24</text>
<text class="g" transform="translate(935.66 29.2) rotate(-90)" font-size="8.17" text-anchor="start">25</text>
<text class="g" transform="translate(942.43 29.2) rotate(-90)" font-size="8.17" text-anchor="start">26</text>
<text class="g" transform="translate(949.20 29.2) rotate(-90)" font-size="8.17" text-anchor="start">27</text>
<text class="g" transform="translate(955.97 29.2) rotate(-90)" font-size="8.17" text-anchor="start">28</text>
<text class="g" transform="translate(962.75 29.2) rotate(-90)" font-size="8.17" text-anchor="start">29</text>
<text class="g" transform="translate(969.51 29.2) rotate(-90)" font-size="8.17" text-anchor="start">30</text>
<text class="g" transform="translate(976.28 29.2) rotate(-90)" font-size="8.17" text-anchor="start">31</text>
<g>
<rect x="980.90" y="48.40" width="13.54" height="12.91" fill="#FFEA86"/>
<rect x="994.44" y="48.40" width="6.77" height="12.91" fill="#4682B4"/>
<rect x="1001.21" y="48.40" width="27.08" height="12.91" fill="#B0E0E6"/>
<rect x="1028.29" y="48.40" width="6.77" height="12.91" fill="#4682B4"/>
<rect x="1035.06" y="48.40" width="6.77" height="12.91" fill="#B0E0E6"/>
<rect x="1041.83" y="48.40" width="6.77" height="12.91" fill="#FFEA86"/>
<rect x="1048.60" y="48.40" width="13.54" height="12.91" fill="#FFA500"/>
<rect x="1062.14" y="48.40" width="33.85" height="12.91" fill="#B0E0E6"/>
<rect x="1095.99" y="48.40" width="6.77" height="12.91" fill="#4682B4"/>
<rect x="1102.76" y="48.40" width="13.54" height="12.91" fill="#B0E0E6"/>
<rect x="1116.30" y="48.40" width="6.77" height="12.91" fill="#FFEA86"/>
<rect x="1123.07" y="48.40" width="20.31" height="12.91" fill="#B0E0E6"/>
<rect x="1143.38" y="48.40" width="6.77" height="12.91" fill="#FFEA86"/>
<rect x="1150.15" y="48.40" width="27.08" height="12.91" fill="#B0E0E6"/>
<rect x="1177.23" y="48.40" width="13.54" height="12.91" fill="#4682B4"/>
<rect x="980.90" y="61.31" width="13.54" height="12.91" fill="#FFEA86"/>
<rect x="994.44" y="61.31" width="6.77" height="12.91" fill="#4682B4"/>
<rect x="1001.21" y="61.31" width="13.54" height="12.91" fill="#B0E0E6"/>
<rect x="1014.75" y="61.31" width="6.77" height="12.91" fill="#4682B4"/>
<rect x="1021.52" y="61.31" width="6.77" height="12.91" fill="#B0E0E6"/>
<rect x="1028.29" y="61.31" width="6.77" height="12.91" fill="#4682B4"/>
<rect x="1035.06" y="61.31" width="6.77" height="12.91" fill="#B0E0E6"/>
<rect x="1041.83" y="61.31" width="6.77" height="12.91" fill="#FFEA86"/>
<rect x="1048.60" y="61.31" width="13.54" height="12.91" fill="#FFA500"/>
<rect x="1062.14" y="61.31" width="33.85" height="12.91" fill="#B0E0E6"/>
<rect x="1095.99" y="61.31" width="13.54" height="12.91" fill="#4682B4"/>
<rect x="1109.53" y="61.31" width="20.31" height="12.91" fill="#B0E0E6"/>
<rect x="1129.84" y="61.31" width="6.77" height="12.91" fill="#4682B4"/>
<rect x="1136.61" y="61.31" width="27.08" height="12.91" fill="#B0E0E6"/>
<rect x="1163.69" y="61.31" width="6.77" height="12.91" fill="#FFEA86"/>
<rect x="1170.46" y="61.31" width="13.54" height="12.91" fill="#4682B4"/>
<rect x="1184.00" y="61.31" width="6.77" height="12.91" fill="#B0E0E6"/>
<rect x="980.90" y="74.21" width="6.77" height="12.91" fill="#FFEA86"/>
<rect x="987.67" y="74.21" width="6.77" height="12.91" fill="#B0E0E6"/>
<rect x="994.44" y="74.21" width="6.77" height="12.91" fill="#4682B4"/>
<rect x="1001.21" y="74.21" width="20.31" height="12.91" fill="#B0E0E6"/>
<rect x="1021.52" y="74.21" width="13.54" height="12.91" fill="#4682B4"/>
<rect x="1035.06" y="74.21" width="6.77" height="12.91" fill="#B0E0E6"/>
<rect x="1041.83" y="74.21" width="6.77" height="12.91" fill="#FFEA86"/>
<rect x="1048.60" y="74.21" width="6.77" height="12.91" fill="#FFA500"/>
<rect x="1055.37" y="74.21" width="6.77" height="12.91" fill="#FFEA86"/>
<rect x="1062.14" y="74.21" width="6.77" height="12.91" fill="#B0E0E6"/>
<rect x="1068.91" y="74.21" width="6.77" height="12.91" fill="#4682B4"/>
<rect x="1075.68" y="74.21" width="6.77" height="12.91" fill="#B0E0E6"/>
<rect x="1082.45" y="74.21" width="33.85" height="12.91" fill="#4682B4"/>
<rect x="1116.30" y="74.21" width="6.77" height="12.91" fill="#B0E0E6"/>
<rect x="1123.07" y="74.21" width="20.31" height="12.91" fill="#4682B4"/>
<rect x="1143.38" y="74.21" width="6.77" height="12.91" fill="#B0E0E6"/>
<rect x="1150.15" y="74.21" width="6.77" height="12.91" fill="#4682B4"/>
<rect x="1156.92" y="74.21" width="6.77" height="12.91" fill="#B0E0E6"/>
<rect x="1163.69" y="74.21" width="6.77" height="12.91" fill="#FFEA86"/>
<rect x="1170.46" y="74.21" width="13.54" height="12.91" fill="#4682B4"/>
<rect x="1184.00" y="74.21" width="6.77" height="12.91" fill="#B0E0E6"/>
<rect x="980.90" y="87.12" width="6.77" height="12.91" fill="#FFEA86"/>
<rect x="987.67" y="87.12" width="6.77" height="12.91" fill="#B0E0E6"/>
<rect x="994.44" y="87.12" width="6.77" height="12.91" fill="#4682B4"/>
<rect x="1001.21" y="87.12" width="13.54" height="12.91" fill="#B0E0E6"/>
<rect x="1014.75" y="87.12" width="20.31" height="12.91" fill="#4682B4"/>
<rect x="1035.06" y="87.12" width="6.77" height="12.91" fill="#B0E0E6"/>
<rect x="1041.83" y="87.12" width="20.31" height="12.91" fill="#FFA500"/>
<rect x="1062.14" y="87.12" width="33.85" height="12.91" fill="#B0E0E6"/>
<rect x="1095.99" y="87.12" width="6.77" height="12.91" fill="#4682B4"/>
<rect x="1102.76" y="87.12" width="6.77" height="12.91" fill="#B0E0E6"/>
<rect x="1109.53" y="87.12" width="6.77" height="12.91" fill="#4682B4"/>
<rect x="1116.30" y="87.12" width="6.77" height="12.91" fill="#B0E0E6"/>
<rect x="1123.07" y="87.12" width="13.54" height="12.91" fill="#4682B4"/>
<rect x="1136.61" y="87.12" width="13.54" height="12.91" fill="#B0E0E6"/>
<rect x="1150.15" y="87.12" width="6.77" height="12.91" fill="#4682B4"/>
<rect x="1156.92" y="87.12" width="13.54" height="12.91" fill="#B0E0E6"/>
<rect x="1170.46" y="87.12" width="13.54" height="12.91" fill="#4682B4"/>
<rect x="1184.00" y="87.12" width="6.77" height="12.91" fill="#B0E0E6"/>
<rect x="980.90" y="100.03" width="6.77" height="12.91" fill="#FFEA86"/>
<rect x="987.67" y="100.03" width="6.77" height="12.91" fill="#B0E0E6"/>
<rect x="994.44" y="100.03" width="6.77" height="12.91" fill="#4682B4"/>
<rect x="1001.21" y="100.03" width="13.54" height="12.91" fill="#B0E0E6"/>
<rect x="1014.75" y="100.03" width="20.31" height="12.91" fill="#4682B4"/>
<rect x="1035.06" y="100.03" width="6.77" height="12.91" fill="#FFEA86"/>
<rect x="1041.83" y="100.03" width="20.31" height="12.91" fill="#FFA500"/>
<rect x="1062.14" y="100.03" width="27.08" height="12.91" fill="#B0E0E6"/>
<rect x="1089.22" y="100.03" width="13.54" height="12.91" fill="#4682B4"/>
<rect x="1102.76" y="100.03" width="6.77" height="12.91" fill="#B0E0E6"/>
<rect x="1109.53" y="100.03" width="6.77" height="12.91" fill="#4682B4"/>
<rect x="1116.30" y="100.03" width="6.77" height="12.91" fill="#FFEA86"/>
<rect x="1123.07" y="100.03" width="6.77" height="12.91" fill="#B0E0E6"/>
<rect x="1129.84" y="100.03" width="6.77" height="12.91" fill="#4682B4"/>
<rect x="1136.61" y="100.03" width="33.85" height="12.91" fill="#B0E0E6"/>
<rect x="1170.46" y="100.03" width="20.31" height="12.91" fill="#4682B4"/>
<rect x="980.90" y="112.93" width="6.77" height="12.91" fill="#FFEA86"/>
<rect x="987.67" y="112.93" width="6.77" height="12.91" fill="#B0E0E6"/>
<rect x="994.44" y="112.93" width="6.77" height="12.91" fill="#4682B4"/>
<rect x="1001.21" y="112.93" width="13.54" height="12.91" fill="#B0E0E6"/>
<rect x="1014.75" y="112.93" width="20.31" height="12.91" fill="#4682B4"/>
<rect x="1035.06" y="112.93" width="27.08" height="12.91" fill="#FFA500"/>
<rect x="1062.14" y="112.93" width="6.77" height="12.91" fill="#FFEA86"/>
<rect x="1068.91" y="112.93" width="6.77" height="12.91" fill="#B0E0E6"/>
<rect x="1075.68" y="112.93" width="6.77" height="12.91" fill="#FFEA86"/>
<rect x="1082.45" y="112.93" width="13.54" height="12.91" fill="#B0E0E6"/>
<rect x="1095.99" y="112.93" width="20.31" height="12.91" fill="#4682B4"/>
<rect x="1116.30" y="112.93" width="6.77" height="12.91" fill="#B0E0E6"/>
<rect x="1123.07" y="112.93" width="13.54" height="12.91" fill="#4682B4"/>
<rect x="1136.61" y="112.93" width="33.85" height="12.91" fill="#B0E0E6"/>
<rect x="1170.46" y="112.93" width="20.31" height="12.91" fill="#4682B4"/>
<rect x="980.90" y="125.84" width="6.77" height="12.91" fill="#FFA500"/>
<rect x="987.67" y="125.84" width="6.77" height="12.91" fill="#B0E0E6"/>
<rect x="994.44" y="125.84" width="6.77" height="12.91" fill="#4682B4"/>
<rect x="1001.21" y="125.84" width="13.54" height="12.91" fill="#B0E0E6"/>
<rect x="1014.75" y="125.84" width="13.54" height="12.91" fill="#4682B4"/>
<rect x="1028.29" y="125.84" width="13.54" height="12.91" fill="#B0E0E6"/>
<rect x="1041.83" y="125.84" width="6.77" height="12.91" fill="#FFEA86"/>
<rect x="1048.60" y="125.84" width="13.54" height="12.91" fill="#FFA500"/>
<rect x="1062.14" y="125.84" width="6.77" height="12.91" fill="#B0E0E6"/>
<rect x="1068.91" y="125.84" width="6.77" height="12.91" fill="#4682B4"/>
<rect x="1075.68" y="125.84" width="13.54" height="12.91" fill="#B0E0E6"/>
<rect x="1089.22" y="125.84" width="6.77" height="12.91" fill="#4682B4"/>
<rect x="1095.99" y="125.84" width="6.77" height="12.91" fill="#B0E0E6"/>
<rect x="1102.76" y="125.84" width="13.54" height="12.91" fill="#4682B4"/>
<rect x="1116.30" y="125.84" width="6.77" height="12.91" fill="#B0E0E6"/>
<rect x="1123.07" y="125.84" width="13.54" height="12.91" fill="#4682B4"/>
<rect x="1136.61" y="125.84" width="27.08" height="12.91" fill="#B0E0E6"/>
<rect x="1163.69" y="125.84" width="6.77" height="12.91" fill="#FFEA86"/>
<rect x="1170.46" y="125.84" width="20.31" height="12.91" fill="#4682B4"/>
<rect x="980.90" y="138.75" width="6.77" height="12.91" fill="#FFEA86"/>
<rect x="987.67" y="138.75" width="6.77" height="12.91" fill="#B0E0E6"/>
<rect x="994.44" y="138.75" width="40.62" height="12.91" fill="#4682B4"/>
<rect x="1035.06" y="138.75" width="6.77" height="12.91" fill="#B0E0E6"/>
<rect x="1041.83" y="138.75" width="6.77" height="12.91" fill="#FFEA86"/>
<rect x="1048.60" y="138.75" width="13.54" height="12.91" fill="#FFA500"/>
<rect x="1062.14" y="138.75" width="33.85" height="12.91" fill="#B0E0E6"/>
<rect x="1095.99" y="138.75" width="20.31" height="12.91" fill="#4682B4"/>
<rect x="1116.30" y="138.75" width="6.77" height="12.91" fill="#B0E0E6"/>
<rect x="1123.07" y="138.75" width="33.85" height="12.91" fill="#4682B4"/>
<rect x="1156.92" y="138.75" width="6.77" height="12.91" fill="#B0E0E6"/>
<rect x="1163.69" y="138.75" width="27.08" height="12.91" fill="#4682B4"/>
<rect x="980.90" y="151.65" width="6.77" height="12.91" fill="#FFA500"/>
<rect x="987.67" y="151.65" width="6.77" height="12.91" fill="#B0E0E6"/>
<rect x="994.44" y="151.65" width="13.54" height="12.91" fill="#4682B4"/>
<rect x="1007.98" y="151.65" width="6.77" height="12.91" fill="#B0E0E6"/>
<rect x="1014.75" y="151.65" width="20.31" height="12.91" fill="#4682B4"/>
<rect x="1035.06" y="151.65" width="6.77" height="12.91" fill="#B0E0E6"/>
<rect x="1041.83" y="151.65" width="6.77" height="12.91" fill="#FFEA86"/>
<rect x="1048.60" y="151.65" width="13.54" height="12.91" fill="#FFA500"/>
<rect x="1062.14" y="151.65" width="6.77" height="12.91" fill="#B0E0E6"/>
<rect x="1068.91" y="151.65" width="6.77" height="12.91" fill="#4682B4"/>
<rect x="1075.68" y="151.65" width="6.77" height="12.91" fill="#B0E0E6"/>
<rect x="1082.45" y="151.65" width="33.85" height="12.91" fill="#4682B4"/>
<rect x="1116.30" y="151.65" width="6.77" height="12.91" fill="#B0E0E6"/>
<rect x="1123.07" y="151.65" width="40.62" height="12.91" fill="#4682B4"/>
<rect x="1163.69" y="151.65" width="6.77" height="12.91" fill="#B0E0E6"/>
<rect x="1170.46" y="151.65" width="6.77" height="12.91" fill="#4682B4"/>
<rect x="1177.23" y="151.65" width="13.54" height="12.91" fill="#B0E0E6"/>
<rect x="980.90" y="164.56" width="6.77" height="12.91" fill="#FFEA86"/>
<rect x="987.67" y="164.56" width="6.77" height="12.91" fill="#B0E0E6"/>
<rect x="994.44" y="164.56" width="6.77" height="12.91" fill="#4682B4"/>
<rect x="1001.21" y="164.56" width="13.54" height="12.91" fill="#B0E0E6"/>
<rect x="1014.75" y="164.56" width="20.31" height="12.91" fill="#4682B4"/>
<rect x="1035.06" y="164.56" width="6.77" height="12.91" fill="#B0E0E6"/>
<rect x="1041.83" y="164.56" width="20.31" height="12.91" fill="#FFA500"/>
<rect x="1062.14" y="164.56" width="20.31" height="12.91" fill="#B0E0E6"/>
<rect x="1082.45" y="164.56" width="33.85" height="12.91" fill="#4682B4"/>
<rect x="1116.30" y="164.56" width="6.77" height="12.91" fill="#B0E0E6"/>
<rect x="1123.07" y="164.56" width="13.54" height="12.91" fill="#4682B4"/>
<rect x="1136.61" y="164.56" width="6.77" height="12.91" fill="#B0E0E6"/>
<rect x="1143.38" y="164.56" width="20.31" height="12.91" fill="#4682B4"/>
<rect x="1163.69" y="164.56" width="6.77" height="12.91" fill="#B0E0E6"/>
<rect x="1170.46" y="164.56" width="6.77" height="12.91" fill="#4682B4"/>
<rect x="1177.23" y="164.56" width="6.77" height="12.91" fill="#B0E0E6"/>
<rect x="1184.00" y="164.56" width="6.77" height="12.91" fill="#4682B4"/>
<rect x="980.90" y="177.47" width="6.77" height="12.91" fill="#FFEA86"/>
<rect x="987.67" y="177.47" width="6.77" height="12.91" fill="#B0E0E6"/>
<rect x="994.44" y="177.47" width="6.77" height="12.91" fill="#4682B4"/>
<rect x="1001.21" y="177.47" width="13.54" height="12.91" fill="#B0E0E6"/>
<rect x="1014.75" y="177.47" width="20.31" height="12.91" fill="#4682B4"/>
<rect x="1035.06" y="177.47" width="6.77" height="12.91" fill="#FFEA86"/>
<rect x="1041.83" y="177.47" width="20.31" height="12.91" fill="#FFA500"/>
<rect x="1062.14" y="177.47" width="6.77" height="12.91" fill="#FFEA86"/>
<rect x="1068.91" y="177.47" width="13.54" height="12.91" fill="#B0E0E6"/>
<rect x="1082.45" y="177.47" width="33.85" height="12.91" fill="#4682B4"/>
<rect x="1116.30" y="177.47" width="6.77" height="12.91" fill="#FFEA86"/>
<rect x="1123.07" y="177.47" width="6.77" height="12.91" fill="#B0E0E6"/>
<rect x="1129.84" y="177.47" width="6.77" height="12.91" fill="#4682B4"/>
<rect x="1136.61" y="177.47" width="6.77" height="12.91" fill="#B0E0E6"/>
<rect x="1143.38" y="177.47" width="13.54" height="12.91" fill="#4682B4"/>
<rect x="1156.92" y="177.47" width="13.54" height="12.91" fill="#B0E0E6"/>
<rect x="1170.46" y="177.47" width="20.31" height="12.91" fill="#4682B4"/>
<rect x="980.90" y="190.37" width="6.77" height="12.91" fill="#FFA500"/>
<rect x="987.67" y="190.37" width="6.77" height="12.91" fill="#B0E0E6"/>
<rect x="994.44" y="190.37" width="6.77" height="12.91" fill="#4682B4"/>
<rect x="1001.21" y="190.37" width="20.31" height="12.91" fill="#B0E0E6"/>
<rect x="1021.52" y="190.37" width="13.54" height="12.91" fill="#4682B4"/>
<rect x="1035.06" y="190.37" width="6.77" height="12.91" fill="#FFEA86"/>
<rect x="1041.83" y="190.37" width="13.54" height="12.91" fill="#FFA500"/>
<rect x="1055.37" y="190.37" width="6.77" height="12.91" fill="#B0E0E6"/>
<rect x="1062.14" y="190.37" width="13.54" height="12.91" fill="#4682B4"/>
<rect x="1075.68" y="190.37" width="13.54" height="12.91" fill="#B0E0E6"/>
<rect x="1089.22" y="190.37" width="27.08" height="12.91" fill="#4682B4"/>
<rect x="1116.30" y="190.37" width="6.77" height="12.91" fill="#FFEA86"/>
<rect x="1123.07" y="190.37" width="13.54" height="12.91" fill="#4682B4"/>
<rect x="1136.61" y="190.37" width="6.77" height="12.91" fill="#B0E0E6"/>
<rect x="1143.38" y="190.37" width="20.31" height="12.91" fill="#4682B4"/>
<rect x="1163.69" y="190.37" width="6.77" height="12.91" fill="#B0E0E6"/>
<rect x="1170.46" y="190.37" width="13.54" height="12.91" fill="#4682B4"/>
<rect x="1184.00" y="190.37" width="6.77" height="12.91" fill="#B0E0E6"/>
<rect x="980.90" y="203.28" width="6.77" height="12.91" fill="#FFEA86"/>
<rect x="987.67" y="203.28" width="6.77" height="12.91" fill="#B0E0E6"/>
<rect x="994.44" y="203.28" width="6.77" height="12.91" fill="#4682B4"/>
<rect x="1001.21" y="203.28" width="6.77" height="12.91" fill="#FFEA86"/>
<rect x="1007.98" y="203.28" width="6.77" height="12.91" fill="#B0E0E6"/>
<rect x="1014.75" y="203.28" width="20.31" height="12.91" fill="#4682B4"/>
<rect x="1035.06" y="203.28" width="6.77" height="12.91" fill="#FFEA86"/>
<rect x="1041.83" y="203.28" width="20.31" height="12.91" fill="#FFA500"/>
<rect x="1062.14" y="203.28" width="13.54" height="12.91" fill="#4682B4"/>
<rect x="1075.68" y="203.28" width="13.54" height="12.91" fill="#B0E0E6"/>
<rect x="1089.22" y="203.28" width="20.31" height="12.91" fill="#4682B4"/>
<rect x="1109.53" y="203.28" width="20.31" height="12.91" fill="#B0E0E6"/>
<rect x="1129.84" y="203.28" width="33.85" height="12.91" fill="#4682B4"/>
<rect x="1163.69" y="203.28" width="6.77" height="12.91" fill="#B0E0E6"/>
<rect x="1170.46" y="203.28" width="6.77" height="12.91" fill="#4682B4"/>
<rect x="1177.23" y="203.28" width="13.54" height="12.91" fill="#B0E0E6"/>
<rect x="980.90" y="216.19" width="6.77" height="12.91" fill="#FFEA86"/>
<rect x="987.67" y="216.19" width="13.54" height="12.91" fill="#4682B4"/>
<rect x="1001.21" y="216.19" width="6.77" height="12.91" fill="#B0E0E6"/>
<rect x="1007.98" y="216.19" width="27.08" height="12.91" fill="#4682B4"/>
<rect x="1035.06" y="216.19" width="6.77" height="12.91" fill="#B0E0E6"/>
<rect x="1041.83" y="216.19" width="13.54" height="12.91" fill="#FFA500"/>
<rect x="1055.37" y="216.19" width="6.77" height="12.91" fill="#B0E0E6"/>
<rect x="1062.14" y="216.19" width="13.54" height="12.91" fill="#4682B4"/>
<rect x="1075.68" y="216.19" width="13.54" height="12.91" fill="#B0E0E6"/>
<rect x="1089.22" y="216.19" width="6.77" height="12.91" fill="#4682B4"/>
<rect x="1095.99" y="216.19" width="6.77" height="12.91" fill="#B0E0E6"/>
<rect x="1102.76" y="216.19" width="6.77" height="12.91" fill="#4682B4"/>
<rect x="1109.53" y="216.19" width="20.31" height="12.91" fill="#B0E0E6"/>
<rect x="1129.84" y="216.19" width="33.85" height="12.91" fill="#4682B4"/>
<rect x="1163.69" y="216.19" width="13.54" height="12.91" fill="#B0E0E6"/>
<rect x="1177.23" y="216.19" width="6.77" height="12.91" fill="#4682B4"/>
<rect x="1184.00" y="216.19" width="6.77" height="12.91" fill="#B0E0E6"/>
<rect x="980.90" y="229.09" width="6.77" height="12.91" fill="#FFA500"/>
<rect x="987.67" y="229.09" width="13.54" height="12.91" fill="#4682B4"/>
<rect x="1001.21" y="229.09" width="6.77" height="12.91" fill="#B0E0E6"/>
<rect x="1007.98" y="229.09" width="20.31" height="12.91" fill="#4682B4"/>
<rect x="1028.29" y="229.09" width="6.77" height="12.91" fill="#B0E0E6"/>
<rect x="1035.06" y="229.09" width="6.77" height="12.91" fill="#FFEA86"/>
<rect x="1041.83" y="229.09" width="13.54" height="12.91" fill="#FFA500"/>
<rect x="1055.37" y="229.09" width="6.77" height="12.91" fill="#B0E0E6"/>
<rect x="1062.14" y="229.09" width="13.54" height="12.91" fill="#4682B4"/>
<rect x="1075.68" y="229.09" width="13.54" height="12.91" fill="#B0E0E6"/>
<rect x="1089.22" y="229.09" width="27.08" height="12.91" fill="#4682B4"/>
<rect x="1116.30" y="229.09" width="6.77" height="12.91" fill="#B0E0E6"/>
<rect x="1123.07" y="229.09" width="40.62" height="12.91" fill="#4682B4"/>
<rect x="1163.69" y="229.09" width="13.54" height="12.91" fill="#B0E0E6"/>
<rect x="1177.23" y="229.09" width="6.77" height="12.91" fill="#4682B4"/>
<rect x="1184.00" y="229.09" width="6.77" height="12.91" fill="#B0E0E6"/>
<path d="M987.67 48.40V242.00M994.44 48.40V242.00M1001.21 48.40V242.00M1007.98 48.40V242.00M1014.75 48.40V242.00M1021.52 48.40V242.00M1028.29 48.40V242.00M1035.06 48.40V242.00M1041.83 48.40V242.00M1048.60 48.40V242.00M1055.37 48.40V242.00M1062.14 48.40V242.00M1068.91 48.40V242.00M1075.68 48.40V242.00M1082.45 48.40V242.00M1089.22 48.40V242.00M1095.99 48.40V242.00M1102.76 48.40V242.00M1109.53 48.40V242.00M1116.30 48.40V242.00M1123.07 48.40V242.00M1129.84 48.40V242.00M1136.61 48.40V242.00M1143.38 48.40V242.00M1150.15 48.40V242.00M1156.92 48.40V242.00M1163.69 48.40V242.00M1170.46 48.40V242.00M1177.23 48.40V242.00M1184.00 48.40V242.00" stroke="#fff" stroke-opacity="0.2" stroke-width="0.7" fill="none"/>
<path d="M980.90 61.31H1190.77M980.90 74.21H1190.77M980.90 87.12H1190.77M980.90 100.03H1190.77M980.90 112.93H1190.77M980.90 125.84H1190.77M980.90 138.75H1190.77M980.90 151.65H1190.77M980.90 164.56H1190.77M980.90 177.47H1190.77M980.90 190.37H1190.77M980.90 203.28H1190.77M980.90 216.19H1190.77M980.90 229.09H1190.77" stroke="#fff" stroke-opacity="0.13" stroke-width="0.7" fill="none"/>
</g>
<text x="1084.7" y="46.8" font-size="8.3" text-anchor="middle">05</text>
<path d="M1011.37 38.45v-5.3M1045.21 38.45v-5.3M1079.07 38.45v-5.3M1112.91 38.45v-5.3M1146.76 38.45v-5.3M1180.62 38.45v-5.3" stroke="#222" stroke-width="0.75" fill="none"/>
<g>
<rect x="1194.90" y="48.40" width="13.54" height="12.91" fill="#4682B4"/>
<rect x="1208.44" y="48.40" width="27.08" height="12.91" fill="#B0E0E6"/>
<rect x="1235.52" y="48.40" width="33.85" height="12.91" fill="#FFEA86"/>
<rect x="1269.37" y="48.40" width="6.77" height="12.91" fill="#FFA500"/>
<rect x="1276.14" y="48.40" width="13.54" height="12.91" fill="#B0E0E6"/>
<rect x="1289.68" y="48.40" width="6.77" height="12.91" fill="#FFEA86"/>
<rect x="1296.45" y="48.40" width="47.39" height="12.91" fill="#FFA500"/>
<rect x="1343.84" y="48.40" width="13.54" height="12.91" fill="#B22222"/>
<rect x="1357.38" y="48.40" width="6.77" height="12.91" fill="#FFA500"/>
<rect x="1364.15" y="48.40" width="6.77" height="12.91" fill="#FFEA86"/>
<rect x="1370.92" y="48.40" width="27.08" height="12.91" fill="#FFA500"/>
<rect x="1194.90" y="61.31" width="13.54" height="12.91" fill="#B0E0E6"/>
<rect x="1208.44" y="61.31" width="13.54" height="12.91" fill="#FFEA86"/>
<rect x="1221.98" y="61.31" width="6.77" height="12.91" fill="#B0E0E6"/>
<rect x="1228.75" y="61.31" width="20.31" height="12.91" fill="#FFEA86"/>
<rect x="1249.06" y="61.31" width="6.77" height="12.91" fill="#FFA500"/>
<rect x="1255.83" y="61.31" width="13.54" height="12.91" fill="#FFEA86"/>
<rect x="1269.37" y="61.31" width="6.77" height="12.91" fill="#FFA500"/>
<rect x="1276.14" y="61.31" width="6.77" height="12.91" fill="#B0E0E6"/>
<rect x="1282.91" y="61.31" width="6.77" height="12.91" fill="#FFEA86"/>
<rect x="1289.68" y="61.31" width="20.31" height="12.91" fill="#FFA500"/>
<rect x="1309.99" y="61.31" width="6.77" height="12.91" fill="#B22222"/>
<rect x="1316.76" y="61.31" width="27.08" height="12.91" fill="#FFA500"/>
<rect x="1343.84" y="61.31" width="13.54" height="12.91" fill="#B22222"/>
<rect x="1357.38" y="61.31" width="13.54" height="12.91" fill="#FFA500"/>
<rect x="1370.92" y="61.31" width="6.77" height="12.91" fill="#FFEA86"/>
<rect x="1377.69" y="61.31" width="20.31" height="12.91" fill="#FFA500"/>
<rect x="1194.90" y="74.21" width="13.54" height="12.91" fill="#B0E0E6"/>
<rect x="1208.44" y="74.21" width="27.08" height="12.91" fill="#FFEA86"/>
<rect x="1235.52" y="74.21" width="6.77" height="12.91" fill="#FFA500"/>
<rect x="1242.29" y="74.21" width="20.31" height="12.91" fill="#FFEA86"/>
<rect x="1262.60" y="74.21" width="6.77" height="12.91" fill="#B0E0E6"/>
<rect x="1269.37" y="74.21" width="6.77" height="12.91" fill="#FFEA86"/>
<rect x="1276.14" y="74.21" width="13.54" height="12.91" fill="#B0E0E6"/>
<rect x="1289.68" y="74.21" width="6.77" height="12.91" fill="#FFEA86"/>
<rect x="1296.45" y="74.21" width="54.16" height="12.91" fill="#FFA500"/>
<rect x="1350.61" y="74.21" width="6.77" height="12.91" fill="#B22222"/>
<rect x="1357.38" y="74.21" width="13.54" height="12.91" fill="#FFA500"/>
<rect x="1370.92" y="74.21" width="6.77" height="12.91" fill="#FFEA86"/>
<rect x="1377.69" y="74.21" width="20.31" height="12.91" fill="#FFA500"/>
<rect x="1194.90" y="87.12" width="6.77" height="12.91" fill="#4682B4"/>
<rect x="1201.67" y="87.12" width="6.77" height="12.91" fill="#B0E0E6"/>
<rect x="1208.44" y="87.12" width="27.08" height="12.91" fill="#FFEA86"/>
<rect x="1235.52" y="87.12" width="20.31" height="12.91" fill="#FFA500"/>
<rect x="1255.83" y="87.12" width="20.31" height="12.91" fill="#FFEA86"/>
<rect x="1276.14" y="87.12" width="13.54" height="12.91" fill="#B0E0E6"/>
<rect x="1289.68" y="87.12" width="54.16" height="12.91" fill="#FFA500"/>
<rect x="1343.84" y="87.12" width="13.54" height="12.91" fill="#B22222"/>
<rect x="1357.38" y="87.12" width="6.77" height="12.91" fill="#FFA500"/>
<rect x="1364.15" y="87.12" width="13.54" height="12.91" fill="#FFEA86"/>
<rect x="1377.69" y="87.12" width="20.31" height="12.91" fill="#FFA500"/>
<rect x="1194.90" y="100.03" width="20.31" height="12.91" fill="#B0E0E6"/>
<rect x="1215.21" y="100.03" width="6.77" height="12.91" fill="#FFEA86"/>
<rect x="1221.98" y="100.03" width="6.77" height="12.91" fill="#B0E0E6"/>
<rect x="1228.75" y="100.03" width="40.62" height="12.91" fill="#FFEA86"/>
<rect x="1269.37" y="100.03" width="6.77" height="12.91" fill="#FFA500"/>
<rect x="1276.14" y="100.03" width="6.77" height="12.91" fill="#4682B4"/>
<rect x="1282.91" y="100.03" width="13.54" height="12.91" fill="#FFEA86"/>
<rect x="1296.45" y="100.03" width="54.16" height="12.91" fill="#FFA500"/>
<rect x="1350.61" y="100.03" width="6.77" height="12.91" fill="#B22222"/>
<rect x="1357.38" y="100.03" width="6.77" height="12.91" fill="#FFA500"/>
<rect x="1364.15" y="100.03" width="13.54" height="12.91" fill="#FFEA86"/>
<rect x="1377.69" y="100.03" width="20.31" height="12.91" fill="#FFA500"/>
<rect x="1194.90" y="112.93" width="13.54" height="12.91" fill="#4682B4"/>
<rect x="1208.44" y="112.93" width="33.85" height="12.91" fill="#B0E0E6"/>
<rect x="1242.29" y="112.93" width="6.77" height="12.91" fill="#FFEA86"/>
<rect x="1249.06" y="112.93" width="20.31" height="12.91" fill="#B0E0E6"/>
<rect x="1269.37" y="112.93" width="6.77" height="12.91" fill="#FFEA86"/>
<rect x="1276.14" y="112.93" width="13.54" height="12.91" fill="#4682B4"/>
<rect x="1289.68" y="112.93" width="6.77" height="12.91" fill="#FFEA86"/>
<rect x="1296.45" y="112.93" width="20.31" height="12.91" fill="#FFA500"/>
<rect x="1316.76" y="112.93" width="6.77" height="12.91" fill="#B22222"/>
<rect x="1323.53" y="112.93" width="27.08" height="12.91" fill="#FFA500"/>
<rect x="1350.61" y="112.93" width="6.77" height="12.91" fill="#B22222"/>
<rect x="1357.38" y="112.93" width="6.77" height="12.91" fill="#FFA500"/>
<rect x="1364.15" y="112.93" width="13.54" height="12.91" fill="#FFEA86"/>
<rect x="1377.69" y="112.93" width="20.31" height="12.91" fill="#FFA500"/>
<rect x="1194.90" y="125.84" width="13.54" height="12.91" fill="#B0E0E6"/>
<rect x="1208.44" y="125.84" width="27.08" height="12.91" fill="#FFEA86"/>
<rect x="1235.52" y="125.84" width="6.77" height="12.91" fill="#FFA500"/>
<rect x="1242.29" y="125.84" width="6.77" height="12.91" fill="#FFEA86"/>
<rect x="1249.06" y="125.84" width="6.77" height="12.91" fill="#FFA500"/>
<rect x="1255.83" y="125.84" width="20.31" height="12.91" fill="#FFEA86"/>
<rect x="1276.14" y="125.84" width="13.54" height="12.91" fill="#B0E0E6"/>
<rect x="1289.68" y="125.84" width="6.77" height="12.91" fill="#FFEA86"/>
<rect x="1296.45" y="125.84" width="47.39" height="12.91" fill="#FFA500"/>
<rect x="1343.84" y="125.84" width="13.54" height="12.91" fill="#B22222"/>
<rect x="1357.38" y="125.84" width="13.54" height="12.91" fill="#FFA500"/>
<rect x="1370.92" y="125.84" width="6.77" height="12.91" fill="#FFEA86"/>
<rect x="1377.69" y="125.84" width="20.31" height="12.91" fill="#FFA500"/>
<rect x="1194.90" y="138.75" width="6.77" height="12.91" fill="#4682B4"/>
<rect x="1201.67" y="138.75" width="13.54" height="12.91" fill="#B0E0E6"/>
<rect x="1215.21" y="138.75" width="20.31" height="12.91" fill="#FFEA86"/>
<rect x="1235.52" y="138.75" width="6.77" height="12.91" fill="#FFA500"/>
<rect x="1242.29" y="138.75" width="33.85" height="12.91" fill="#FFEA86"/>
<rect x="1276.14" y="138.75" width="6.77" height="12.91" fill="#4682B4"/>
<rect x="1282.91" y="138.75" width="6.77" height="12.91" fill="#B0E0E6"/>
<rect x="1289.68" y="138.75" width="6.77" height="12.91" fill="#FFEA86"/>
<rect x="1296.45" y="138.75" width="13.54" height="12.91" fill="#FFA500"/>
<rect x="1309.99" y="138.75" width="6.77" height="12.91" fill="#B22222"/>
<rect x="1316.76" y="138.75" width="27.08" height="12.91" fill="#FFA500"/>
<rect x="1343.84" y="138.75" width="13.54" height="12.91" fill="#B22222"/>
<rect x="1357.38" y="138.75" width="13.54" height="12.91" fill="#FFA500"/>
<rect x="1370.92" y="138.75" width="6.77" height="12.91" fill="#FFEA86"/>
<rect x="1377.69" y="138.75" width="20.31" height="12.91" fill="#FFA500"/>
<rect x="1194.90" y="151.65" width="6.77" height="12.91" fill="#4682B4"/>
<rect x="1201.67" y="151.65" width="6.77" height="12.91" fill="#FFEA86"/>
<rect x="1208.44" y="151.65" width="6.77" height="12.91" fill="#B0E0E6"/>
<rect x="1215.21" y="151.65" width="20.31" height="12.91" fill="#FFEA86"/>
<rect x="1235.52" y="151.65" width="20.31" height="12.91" fill="#FFA500"/>
<rect x="1255.83" y="151.65" width="20.31" height="12.91" fill="#FFEA86"/>
<rect x="1276.14" y="151.65" width="13.54" height="12.91" fill="#B0E0E6"/>
<rect x="1289.68" y="151.65" width="6.77" height="12.91" fill="#FFEA86"/>
<rect x="1296.45" y="151.65" width="54.16" height="12.91" fill="#FFA500"/>
<rect x="1350.61" y="151.65" width="6.77" height="12.91" fill="#B22222"/>
<rect x="1357.38" y="151.65" width="6.77" height="12.91" fill="#FFA500"/>
<rect x="1364.15" y="151.65" width="13.54" height="12.91" fill="#FFEA86"/>
<rect x="1377.69" y="151.65" width="20.31" height="12.91" fill="#FFA500"/>
<rect x="1194.90" y="164.56" width="6.77" height="12.91" fill="#4682B4"/>
<rect x="1201.67" y="164.56" width="13.54" height="12.91" fill="#B0E0E6"/>
<rect x="1215.21" y="164.56" width="33.85" height="12.91" fill="#FFEA86"/>
<rect x="1249.06" y="164.56" width="6.77" height="12.91" fill="#FFA500"/>
<rect x="1255.83" y="164.56" width="20.31" height="12.91" fill="#FFEA86"/>
<rect x="1276.14" y="164.56" width="6.77" height="12.91" fill="#4682B4"/>
<rect x="1282.91" y="164.56" width="6.77" height="12.91" fill="#B0E0E6"/>
<rect x="1289.68" y="164.56" width="6.77" height="12.91" fill="#FFEA86"/>
<rect x="1296.45" y="164.56" width="40.62" height="12.91" fill="#FFA500"/>
<rect x="1337.07" y="164.56" width="6.77" height="12.91" fill="#B22222"/>
<rect x="1343.84" y="164.56" width="6.77" height="12.91" fill="#FFA500"/>
<rect x="1350.61" y="164.56" width="6.77" height="12.91" fill="#B22222"/>
<rect x="1357.38" y="164.56" width="13.54" height="12.91" fill="#FFA500"/>
<rect x="1370.92" y="164.56" width="6.77" height="12.91" fill="#FFEA86"/>
<rect x="1377.69" y="164.56" width="20.31" height="12.91" fill="#FFA500"/>
<rect x="1194.90" y="177.47" width="6.77" height="12.91" fill="#4682B4"/>
<rect x="1201.67" y="177.47" width="13.54" height="12.91" fill="#B0E0E6"/>
<rect x="1215.21" y="177.47" width="60.93" height="12.91" fill="#FFEA86"/>
<rect x="1276.14" y="177.47" width="6.77" height="12.91" fill="#4682B4"/>
<rect x="1282.91" y="177.47" width="6.77" height="12.91" fill="#B0E0E6"/>
<rect x="1289.68" y="177.47" width="6.77" height="12.91" fill="#FFEA86"/>
<rect x="1296.45" y="177.47" width="20.31" height="12.91" fill="#FFA500"/>
<rect x="1316.76" y="177.47" width="6.77" height="12.91" fill="#B22222"/>
<rect x="1323.53" y="177.47" width="27.08" height="12.91" fill="#FFA500"/>
<rect x="1350.61" y="177.47" width="6.77" height="12.91" fill="#B22222"/>
<rect x="1357.38" y="177.47" width="13.54" height="12.91" fill="#FFA500"/>
<rect x="1370.92" y="177.47" width="6.77" height="12.91" fill="#FFEA86"/>
<rect x="1377.69" y="177.47" width="20.31" height="12.91" fill="#FFA500"/>
<rect x="1194.90" y="190.37" width="20.31" height="12.91" fill="#B0E0E6"/>
<rect x="1215.21" y="190.37" width="6.77" height="12.91" fill="#FFEA86"/>
<rect x="1221.98" y="190.37" width="6.77" height="12.91" fill="#FFA500"/>
<rect x="1228.75" y="190.37" width="47.39" height="12.91" fill="#FFEA86"/>
<rect x="1276.14" y="190.37" width="13.54" height="12.91" fill="#B0E0E6"/>
<rect x="1289.68" y="190.37" width="6.77" height="12.91" fill="#FFEA86"/>
<rect x="1296.45" y="190.37" width="33.85" height="12.91" fill="#FFA500"/>
<rect x="1330.30" y="190.37" width="6.77" height="12.91" fill="#B22222"/>
<rect x="1337.07" y="190.37" width="13.54" height="12.91" fill="#FFA500"/>
<rect x="1350.61" y="190.37" width="6.77" height="12.91" fill="#B22222"/>
<rect x="1357.38" y="190.37" width="27.08" height="12.91" fill="#FFA500"/>
<rect x="1384.46" y="190.37" width="6.77" height="12.91" fill="#B22222"/>
<rect x="1391.23" y="190.37" width="6.77" height="12.91" fill="#FFEA86"/>
<rect x="1194.90" y="203.28" width="20.31" height="12.91" fill="#B0E0E6"/>
<rect x="1215.21" y="203.28" width="60.93" height="12.91" fill="#FFEA86"/>
<rect x="1276.14" y="203.28" width="13.54" height="12.91" fill="#B0E0E6"/>
<rect x="1289.68" y="203.28" width="6.77" height="12.91" fill="#FFEA86"/>
<rect x="1296.45" y="203.28" width="20.31" height="12.91" fill="#FFA500"/>
<rect x="1316.76" y="203.28" width="6.77" height="12.91" fill="#B22222"/>
<rect x="1323.53" y="203.28" width="27.08" height="12.91" fill="#FFA500"/>
<rect x="1350.61" y="203.28" width="6.77" height="12.91" fill="#B22222"/>
<rect x="1357.38" y="203.28" width="6.77" height="12.91" fill="#FFA500"/>
<rect x="1364.15" y="203.28" width="6.77" height="12.91" fill="#FFEA86"/>
<rect x="1370.92" y="203.28" width="20.31" height="12.91" fill="#FFA500"/>
<rect x="1391.23" y="203.28" width="6.77" height="12.91" fill="#FFEA86"/>
<rect x="1194.90" y="216.19" width="13.54" height="12.91" fill="#B0E0E6"/>
<rect x="1208.44" y="216.19" width="13.54" height="12.91" fill="#FFEA86"/>
<rect x="1221.98" y="216.19" width="6.77" height="12.91" fill="#FFA500"/>
<rect x="1228.75" y="216.19" width="6.77" height="12.91" fill="#FFEA86"/>
<rect x="1235.52" y="216.19" width="27.08" height="12.91" fill="#FFA500"/>
<rect x="1262.60" y="216.19" width="6.77" height="12.91" fill="#FFEA86"/>
<rect x="1269.37" y="216.19" width="6.77" height="12.91" fill="#FFA500"/>
<rect x="1276.14" y="216.19" width="13.54" height="12.91" fill="#B0E0E6"/>
<rect x="1289.68" y="216.19" width="6.77" height="12.91" fill="#FFEA86"/>
<rect x="1296.45" y="216.19" width="54.16" height="12.91" fill="#FFA500"/>
<rect x="1350.61" y="216.19" width="6.77" height="12.91" fill="#B22222"/>
<rect x="1357.38" y="216.19" width="33.85" height="12.91" fill="#FFA500"/>
<rect x="1391.23" y="216.19" width="6.77" height="12.91" fill="#B0E0E6"/>
<rect x="1194.90" y="229.09" width="13.54" height="12.91" fill="#B0E0E6"/>
<rect x="1208.44" y="229.09" width="13.54" height="12.91" fill="#FFEA86"/>
<rect x="1221.98" y="229.09" width="6.77" height="12.91" fill="#FFA500"/>
<rect x="1228.75" y="229.09" width="6.77" height="12.91" fill="#FFEA86"/>
<rect x="1235.52" y="229.09" width="20.31" height="12.91" fill="#FFA500"/>
<rect x="1255.83" y="229.09" width="20.31" height="12.91" fill="#FFEA86"/>
<rect x="1276.14" y="229.09" width="13.54" height="12.91" fill="#B0E0E6"/>
<rect x="1289.68" y="229.09" width="20.31" height="12.91" fill="#FFA500"/>
<rect x="1309.99" y="229.09" width="6.77" height="12.91" fill="#B22222"/>
<rect x="1316.76" y="229.09" width="6.77" height="12.91" fill="#FFA500"/>
<rect x="1323.53" y="229.09" width="6.77" height="12.91" fill="#B22222"/>
<rect x="1330.30" y="229.09" width="20.31" height="12.91" fill="#FFA500"/>
<rect x="1350.61" y="229.09" width="6.77" height="12.91" fill="#B22222"/>
<rect x="1357.38" y="229.09" width="13.54" height="12.91" fill="#FFEA86"/>
<rect x="1370.92" y="229.09" width="6.77" height="12.91" fill="#FFA500"/>
<rect x="1377.69" y="229.09" width="6.77" height="12.91" fill="#B22222"/>
<rect x="1384.46" y="229.09" width="6.77" height="12.91" fill="#FFA500"/>
<rect x="1391.23" y="229.09" width="6.77" height="12.91" fill="#B0E0E6"/>
<path d="M1201.67 48.40V242.00M1208.44 48.40V242.00M1215.21 48.40V242.00M1221.98 48.40V242.00M1228.75 48.40V242.00M1235.52 48.40V242.00M1242.29 48.40V242.00M1249.06 48.40V242.00M1255.83 48.40V242.00M1262.60 48.40V242.00M1269.37 48.40V242.00M1276.14 48.40V242.00M1282.91 48.40V242.00M1289.68 48.40V242.00M1296.45 48.40V242.00M1303.22 48.40V242.00M1309.99 48.40V242.00M1316.76 48.40V242.00M1323.53 48.40V242.00M1330.30 48.40V242.00M1337.07 48.40V242.00M1343.84 48.40V242.00M1350.61 48.40V242.00M1357.38 48.40V242.00M1364.15 48.40V242.00M1370.92 48.40V242.00M1377.69 48.40V242.00M1384.46 48.40V242.00M1391.23 48.40V242.00M1398.00 48.40V242.00" stroke="#fff" stroke-opacity="0.2" stroke-width="0.7" fill="none"/>
<path d="M1194.90 61.31H1404.77M1194.90 74.21H1404.77M1194.90 87.12H1404.77M1194.90 100.03H1404.77M1194.90 112.93H1404.77M1194.90 125.84H1404.77M1194.90 138.75H1404.77M1194.90 151.65H1404.77M1194.90 164.56H1404.77M1194.90 177.47H1404.77M1194.90 190.37H1404.77M1194.90 203.28H1404.77M1194.90 216.19H1404.77M1194.90 229.09H1404.77" stroke="#fff" stroke-opacity="0.13" stroke-width="0.7" fill="none"/>
</g>
<text x="1298.7" y="46.8" font-size="8.3" text-anchor="middle">06</text>
<path d="M1225.37 38.45v-5.3M1259.22 38.45v-5.3M1293.07 38.45v-5.3M1326.91 38.45v-5.3M1360.77 38.45v-5.3M1394.62 38.45v-5.3" stroke="#222" stroke-width="0.75" fill="none"/>
<text class="g" transform="translate(1201.19 29.2) rotate(-90)" font-size="8.17" text-anchor="start">01</text>
<text class="g" transform="translate(1207.96 29.2) rotate(-90)" font-size="8.17" text-anchor="start">02</text>
<text class="g" transform="translate(1214.73 29.2) rotate(-90)" font-size="8.17" text-anchor="start">03</text>
<text class="g" transform="translate(1221.50 29.2) rotate(-90)" font-size="8.17" text-anchor="start">04</text>
<text class="g" transform="translate(1228.27 29.2) rotate(-90)" font-size="8.17" text-anchor="start">05</text>
<text class="g" transform="translate(1235.04 29.2) rotate(-90)" font-size="8.17" text-anchor="start">06</text>
<text class="g" transform="translate(1241.81 29.2) rotate(-90)" font-size="8.17" text-anchor="start">07</text>
<text class="g" transform="translate(1248.58 29.2) rotate(-90)" font-size="8.17" text-anchor="start">08</text>
<text class="g" transform="translate(1255.35 29.2) rotate(-90)" font-size="8.17" text-anchor="start">09</text>
<text class="g" transform="translate(1262.12 29.2) rotate(-90)" font-size="8.17" text-anchor="start">10</text>
<text class="g" transform="translate(1268.89 29.2) rotate(-90)" font-size="8.17" text-anchor="start">11</text>
<text class="g" transform="translate(1275.66 29.2) rotate(-90)" font-size="8.17" text-anchor="start">12</text>
<text class="g" transform="translate(1282.43 29.2) rotate(-90)" font-size="8.17" text-anchor="start">13</text>
<text class="g" transform="translate(1289.20 29.2) rotate(-90)" font-size="8.17" text-anchor="start">14</text>
<text class="g" transform="translate(1295.97 29.2) rotate(-90)" font-size="8.17" text-anchor="start">15</text>
<text class="g" transform="translate(1302.74 29.2) rotate(-90)" font-size="8.17" text-anchor="start">16</text>
<text class="g" transform="translate(1309.51 29.2) rotate(-90)" font-size="8.17" text-anchor="start">17</text>
<text class="g" transform="translate(1316.28 29.2) rotate(-90)" font-size="8.17" text-anchor="start">18</text>
<text class="g" transform="translate(1323.05 29.2) rotate(-90)" font-size="8.17" text-anchor="start">19</text>
<text class="g" transform="translate(1329.82 29.2) rotate(-90)" font-size="8.17" text-anchor="start">20</text>
<text class="g" transform="translate(1336.59 29.2) rotate(-90)" font-size="8.17" text-anchor="start">21</text>
<text class="g" transform="translate(1343.36 29.2) rotate(-90)" font-size="8.17" text-anchor="start">22</text>
<text class="g" transform="translate(1350.13 29.2) rotate(-90)" font-size="8.17" text-anchor="start">23</text>
<text class="g" transform="translate(1356.90 29.2) rotate(-90)" font-size="8.17" text-anchor="start">24</text>
<text class="g" transform="translate(1363.67 29.2) rotate(-90)" font-size="8.17" text-anchor="start">25</text>
<text class="g" transform="translate(1370.44 29.2) rotate(-90)" font-size="8.17" text-anchor="start">26</text>
<text class="g" transform="translate(1377.21 29.2) rotate(-90)" font-size="8.17" text-anchor="start">27</text>
<text class="g" transform="translate(1383.98 29.2) rotate(-90)" font-size="8.17" text-anchor="start">28</text>
<text class="g" transform="translate(1390.75 29.2) rotate(-90)" font-size="8.17" text-anchor="start">29</text>
<text class="g" transform="translate(1397.52 29.2) rotate(-90)" font-size="8.17" text-anchor="start">30</text>
<text class="g" transform="translate(1404.29 29.2) rotate(-90)" font-size="8.17" text-anchor="start">31</text>
<path d="M122.5 55.05h-5.3M1406.5 55.05h5.3M122.5 119.59h-5.3M1406.5 119.59h5.3M122.5 184.12h-5.3M1406.5 184.12h5.3" stroke="#222" stroke-width="0.75" fill="none"/>
<text x="113.2" y="58.4" font-size="8.17" text-anchor="end">11993 Kamenica n/Cr.</text>
<text x="113.2" y="71.3" font-size="8.17" text-anchor="end">11968 Košice-letisko</text>
<text x="113.2" y="84.2" font-size="8.17" text-anchor="end">11942 Rimavská Sobota</text>
<text x="113.2" y="97.1" font-size="8.17" text-anchor="end">11938 Telgárt</text>
<text x="113.2" y="110.0" font-size="8.17" text-anchor="end">11934 Poprad</text>
<text x="113.2" y="122.9" font-size="8.17" text-anchor="end">11930 Lomnický štít</text>
<text x="113.2" y="135.8" font-size="8.17" text-anchor="end">11927 Boľkovce</text>
<text x="113.2" y="148.7" font-size="8.17" text-anchor="end">11916 Chopok</text>
<text x="113.2" y="161.6" font-size="8.17" text-anchor="end">11903 Sliač</text>
<text x="113.2" y="174.5" font-size="8.17" text-anchor="end">11874 Liptovský Hrádok</text>
<text x="113.2" y="187.4" font-size="8.17" text-anchor="end">11868 Oravská Lesná</text>
<text x="113.2" y="200.3" font-size="8.17" text-anchor="end">11858 Hurbanovo</text>
<text x="113.2" y="213.2" font-size="8.17" text-anchor="end">11826 Piešťany</text>
<text x="113.2" y="226.1" font-size="8.17" text-anchor="end">11816 Bratislava-letiko</text>
<text x="113.2" y="239.0" font-size="8.17" text-anchor="end">11813 Bratislava-Koliba</text>
<g>
<rect x="124.90" y="251.50" width="6.77" height="12.92" fill="#FFEA86"/>
<rect x="131.67" y="251.50" width="20.31" height="12.92" fill="#B0E0E6"/>
<rect x="151.98" y="251.50" width="6.77" height="12.92" fill="#FFEA86"/>
<rect x="158.75" y="251.50" width="33.85" height="12.92" fill="#FFA500"/>
<rect x="192.60" y="251.50" width="6.77" height="12.92" fill="#FFEA86"/>
<rect x="199.37" y="251.50" width="47.39" height="12.92" fill="#FFA500"/>
<rect x="246.76" y="251.50" width="6.77" height="12.92" fill="#FFEA86"/>
<rect x="253.53" y="251.50" width="20.31" height="12.92" fill="#B0E0E6"/>
<rect x="273.84" y="251.50" width="20.31" height="12.92" fill="#FFEA86"/>
<rect x="294.15" y="251.50" width="33.85" height="12.92" fill="#FFA500"/>
<rect x="328.00" y="251.50" width="6.77" height="12.92" fill="#FFEA86"/>
<rect x="124.90" y="264.42" width="6.77" height="12.92" fill="#FFEA86"/>
<rect x="131.67" y="264.42" width="20.31" height="12.92" fill="#B0E0E6"/>
<rect x="151.98" y="264.42" width="20.31" height="12.92" fill="#FFA500"/>
<rect x="172.29" y="264.42" width="6.77" height="12.92" fill="#B22222"/>
<rect x="179.06" y="264.42" width="13.54" height="12.92" fill="#FFA500"/>
<rect x="192.60" y="264.42" width="6.77" height="12.92" fill="#FFEA86"/>
<rect x="199.37" y="264.42" width="20.31" height="12.92" fill="#FFA500"/>
<rect x="219.68" y="264.42" width="6.77" height="12.92" fill="#FFEA86"/>
<rect x="226.45" y="264.42" width="20.31" height="12.92" fill="#FFA500"/>
<rect x="246.76" y="264.42" width="6.77" height="12.92" fill="#FFEA86"/>
<rect x="253.53" y="264.42" width="20.31" height="12.92" fill="#B0E0E6"/>
<rect x="273.84" y="264.42" width="13.54" height="12.92" fill="#FFEA86"/>
<rect x="287.38" y="264.42" width="40.62" height="12.92" fill="#FFA500"/>
<rect x="328.00" y="264.42" width="6.77" height="12.92" fill="#FFEA86"/>
<rect x="124.90" y="277.34" width="6.77" height="12.92" fill="#FFEA86"/>
<rect x="131.67" y="277.34" width="13.54" height="12.92" fill="#B0E0E6"/>
<rect x="145.21" y="277.34" width="13.54" height="12.92" fill="#FFEA86"/>
<rect x="158.75" y="277.34" width="33.85" height="12.92" fill="#FFA500"/>
<rect x="192.60" y="277.34" width="20.31" height="12.92" fill="#FFEA86"/>
<rect x="212.91" y="277.34" width="6.77" height="12.92" fill="#FFA500"/>
<rect x="219.68" y="277.34" width="6.77" height="12.92" fill="#FFEA86"/>
<rect x="226.45" y="277.34" width="6.77" height="12.92" fill="#FFA500"/>
<rect x="233.22" y="277.34" width="20.31" height="12.92" fill="#FFEA86"/>
<rect x="253.53" y="277.34" width="20.31" height="12.92" fill="#B0E0E6"/>
<rect x="273.84" y="277.34" width="6.77" height="12.92" fill="#FFEA86"/>
<rect x="280.61" y="277.34" width="6.77" height="12.92" fill="#B0E0E6"/>
<rect x="287.38" y="277.34" width="6.77" height="12.92" fill="#FFEA86"/>
<rect x="294.15" y="277.34" width="33.85" height="12.92" fill="#FFA500"/>
<rect x="328.00" y="277.34" width="6.77" height="12.92" fill="#FFEA86"/>
<rect x="124.90" y="290.26" width="6.77" height="12.92" fill="#FFEA86"/>
<rect x="131.67" y="290.26" width="20.31" height="12.92" fill="#B0E0E6"/>
<rect x="151.98" y="290.26" width="6.77" height="12.92" fill="#FFEA86"/>
<rect x="158.75" y="290.26" width="13.54" height="12.92" fill="#FFA500"/>
<rect x="172.29" y="290.26" width="6.77" height="12.92" fill="#B22222"/>
<rect x="179.06" y="290.26" width="33.85" height="12.92" fill="#FFA500"/>
<rect x="212.91" y="290.26" width="6.77" height="12.92" fill="#B22222"/>
<rect x="219.68" y="290.26" width="27.08" height="12.92" fill="#FFA500"/>
<rect x="246.76" y="290.26" width="6.77" height="12.92" fill="#FFEA86"/>
<rect x="253.53" y="290.26" width="20.31" height="12.92" fill="#B0E0E6"/>
<rect x="273.84" y="290.26" width="13.54" height="12.92" fill="#FFEA86"/>
<rect x="287.38" y="290.26" width="27.08" height="12.92" fill="#FFA500"/>
<rect x="314.46" y="290.26" width="6.77" height="12.92" fill="#FFEA86"/>
<rect x="321.23" y="290.26" width="6.77" height="12.92" fill="#FFA500"/>
<rect x="328.00" y="290.26" width="6.77" height="12.92" fill="#FFEA86"/>
<rect x="124.90" y="303.18" width="13.54" height="12.92" fill="#FFEA86"/>
<rect x="138.44" y="303.18" width="6.77" height="12.92" fill="#B0E0E6"/>
<rect x="145.21" y="303.18" width="6.77" height="12.92" fill="#FFEA86"/>
<rect x="151.98" y="303.18" width="40.62" height="12.92" fill="#FFA500"/>
<rect x="192.60" y="303.18" width="13.54" height="12.92" fill="#FFEA86"/>
<rect x="206.14" y="303.18" width="40.62" height="12.92" fill="#FFA500"/>
<rect x="246.76" y="303.18" width="6.77" height="12.92" fill="#FFEA86"/>
<rect x="253.53" y="303.18" width="20.31" height="12.92" fill="#B0E0E6"/>
<rect x="273.84" y="303.18" width="20.31" height="12.92" fill="#FFEA86"/>
<rect x="294.15" y="303.18" width="27.08" height="12.92" fill="#FFA500"/>
<rect x="321.23" y="303.18" width="6.77" height="12.92" fill="#FFEA86"/>
<rect x="328.00" y="303.18" width="6.77" height="12.92" fill="#B0E0E6"/>
<rect x="124.90" y="316.10" width="6.77" height="12.92" fill="#FFEA86"/>
<rect x="131.67" y="316.10" width="6.77" height="12.92" fill="#B0E0E6"/>
<rect x="138.44" y="316.10" width="6.77" height="12.92" fill="#4682B4"/>
<rect x="145.21" y="316.10" width="6.77" height="12.92" fill="#B0E0E6"/>
<rect x="151.98" y="316.10" width="6.77" height="12.92" fill="#FFEA86"/>
<rect x="158.75" y="316.10" width="13.54" height="12.92" fill="#FFA500"/>
<rect x="172.29" y="316.10" width="6.77" height="12.92" fill="#B22222"/>
<rect x="179.06" y="316.10" width="67.70" height="12.92" fill="#FFA500"/>
<rect x="246.76" y="316.10" width="6.77" height="12.92" fill="#FFEA86"/>
<rect x="253.53" y="316.10" width="20.31" height="12.92" fill="#B0E0E6"/>
<rect x="273.84" y="316.10" width="20.31" height="12.92" fill="#FFEA86"/>
<rect x="294.15" y="316.10" width="33.85" height="12.92" fill="#FFA500"/>
<rect x="328.00" y="316.10" width="6.77" height="12.92" fill="#FFEA86"/>
<rect x="124.90" y="329.02" width="6.77" height="12.92" fill="#FFEA86"/>
<rect x="131.67" y="329.02" width="6.77" height="12.92" fill="#B0E0E6"/>
<rect x="138.44" y="329.02" width="20.31" height="12.92" fill="#FFEA86"/>
<rect x="158.75" y="329.02" width="33.85" height="12.92" fill="#FFA500"/>
<rect x="192.60" y="329.02" width="6.77" height="12.92" fill="#FFEA86"/>
<rect x="199.37" y="329.02" width="20.31" height="12.92" fill="#FFA500"/>
<rect x="219.68" y="329.02" width="6.77" height="12.92" fill="#FFEA86"/>
<rect x="226.45" y="329.02" width="6.77" height="12.92" fill="#FFA500"/>
<rect x="233.22" y="329.02" width="20.31" height="12.92" fill="#FFEA86"/>
<rect x="253.53" y="329.02" width="6.77" height="12.92" fill="#B0E0E6"/>
<rect x="260.30" y="329.02" width="6.77" height="12.92" fill="#FFEA86"/>
<rect x="267.07" y="329.02" width="6.77" height="12.92" fill="#B0E0E6"/>
<rect x="273.84" y="329.02" width="20.31" height="12.92" fill="#FFEA86"/>
<rect x="294.15" y="329.02" width="33.85" height="12.92" fill="#FFA500"/>
<rect x="328.00" y="329.02" width="6.77" height="12.92" fill="#FFEA86"/>
<rect x="124.90" y="341.94" width="6.77" height="12.92" fill="#FFEA86"/>
<rect x="131.67" y="341.94" width="13.54" height="12.92" fill="#B0E0E6"/>
<rect x="145.21" y="341.94" width="13.54" height="12.92" fill="#FFEA86"/>
<rect x="158.75" y="341.94" width="13.54" height="12.92" fill="#FFA500"/>
<rect x="172.29" y="341.94" width="6.77" height="12.92" fill="#B22222"/>
<rect x="179.06" y="341.94" width="67.70" height="12.92" fill="#FFA500"/>
<rect x="246.76" y="341.94" width="6.77" height="12.92" fill="#FFEA86"/>
<rect x="253.53" y="341.94" width="20.31" height="12.92" fill="#B0E0E6"/>
<rect x="273.84" y="341.94" width="20.31" height="12.92" fill="#FFEA86"/>
<rect x="294.15" y="341.94" width="20.31" height="12.92" fill="#FFA500"/>
<rect x="314.46" y="341.94" width="6.77" height="12.92" fill="#FFEA86"/>
<rect x="321.23" y="341.94" width="6.77" height="12.92" fill="#FFA500"/>
<rect x="328.00" y="341.94" width="6.77" height="12.92" fill="#FFEA86"/>
<rect x="124.90" y="354.86" width="6.77" height="12.92" fill="#FFEA86"/>
<rect x="131.67" y="354.86" width="6.77" height="12.92" fill="#B0E0E6"/>
<rect x="138.44" y="354.86" width="27.08" height="12.92" fill="#FFEA86"/>
<rect x="165.52" y="354.86" width="6.77" height="12.92" fill="#FFA500"/>
<rect x="172.29" y="354.86" width="6.77" height="12.92" fill="#B22222"/>
<rect x="179.06" y="354.86" width="13.54" height="12.92" fill="#FFA500"/>
<rect x="192.60" y="354.86" width="13.54" height="12.92" fill="#FFEA86"/>
<rect x="206.14" y="354.86" width="13.54" height="12.92" fill="#FFA500"/>
<rect x="219.68" y="354.86" width="6.77" height="12.92" fill="#FFEA86"/>
<rect x="226.45" y="354.86" width="6.77" height="12.92" fill="#FFA500"/>
<rect x="233.22" y="354.86" width="20.31" height="12.92" fill="#FFEA86"/>
<rect x="253.53" y="354.86" width="6.77" height="12.92" fill="#B0E0E6"/>
<rect x="260.30" y="354.86" width="13.54" height="12.92" fill="#FFEA86"/>
<rect x="273.84" y="354.86" width="6.77" height="12.92" fill="#B0E0E6"/>
<rect x="280.61" y="354.86" width="6.77" height="12.92" fill="#FFEA86"/>
<rect x="287.38" y="354.86" width="27.08" height="12.92" fill="#FFA500"/>
<rect x="314.46" y="354.86" width="6.77" height="12.92" fill="#FFEA86"/>
<rect x="321.23" y="354.86" width="6.77" height="12.92" fill="#FFA500"/>
<rect x="328.00" y="354.86" width="6.77" height="12.92" fill="#FFEA86"/>
<rect x="124.90" y="367.78" width="6.77" height="12.92" fill="#FFEA86"/>
<rect x="131.67" y="367.78" width="6.77" height="12.92" fill="#B0E0E6"/>
<rect x="138.44" y="367.78" width="20.31" height="12.92" fill="#FFEA86"/>
<rect x="158.75" y="367.78" width="13.54" height="12.92" fill="#FFA500"/>
<rect x="172.29" y="367.78" width="6.77" height="12.92" fill="#B22222"/>
<rect x="179.06" y="367.78" width="13.54" height="12.92" fill="#FFA500"/>
<rect x="192.60" y="367.78" width="13.54" height="12.92" fill="#FFEA86"/>
<rect x="206.14" y="367.78" width="6.77" height="12.92" fill="#FFA500"/>
<rect x="212.91" y="367.78" width="6.77" height="12.92" fill="#B22222"/>
<rect x="219.68" y="367.78" width="20.31" height="12.92" fill="#FFA500"/>
<rect x="239.99" y="367.78" width="27.08" height="12.92" fill="#FFEA86"/>
<rect x="267.07" y="367.78" width="6.77" height="12.92" fill="#B0E0E6"/>
<rect x="273.84" y="367.78" width="13.54" height="12.92" fill="#FFEA86"/>
<rect x="287.38" y="367.78" width="27.08" height="12.92" fill="#FFA500"/>
<rect x="314.46" y="367.78" width="20.31" height="12.92" fill="#FFEA86"/>
<rect x="124.90" y="380.70" width="20.31" height="12.92" fill="#B0E0E6"/>
<rect x="145.21" y="380.70" width="13.54" height="12.92" fill="#FFEA86"/>
<rect x="158.75" y="380.70" width="13.54" height="12.92" fill="#FFA500"/>
<rect x="172.29" y="380.70" width="6.77" height="12.92" fill="#B22222"/>
<rect x="179.06" y="380.70" width="13.54" height="12.92" fill="#FFA500"/>
<rect x="192.60" y="380.70" width="13.54" height="12.92" fill="#FFEA86"/>
<rect x="206.14" y="380.70" width="27.08" height="12.92" fill="#FFA500"/>
<rect x="233.22" y="380.70" width="20.31" height="12.92" fill="#FFEA86"/>
<rect x="253.53" y="380.70" width="27.08" height="12.92" fill="#B0E0E6"/>
<rect x="280.61" y="380.70" width="6.77" height="12.92" fill="#FFEA86"/>
<rect x="287.38" y="380.70" width="27.08" height="12.92" fill="#FFA500"/>
<rect x="314.46" y="380.70" width="6.77" height="12.92" fill="#FFEA86"/>
<rect x="321.23" y="380.70" width="6.77" height="12.92" fill="#FFA500"/>
<rect x="328.00" y="380.70" width="6.77" height="12.92" fill="#FFEA86"/>
<rect x="124.90" y="393.62" width="6.77" height="12.92" fill="#FFEA86"/>
<rect x="131.67" y="393.62" width="13.54" height="12.92" fill="#B0E0E6"/>
<rect x="145.21" y="393.62" width="13.54" height="12.92" fill="#FFEA86"/>
<rect x="158.75" y="393.62" width="6.77" height="12.92" fill="#FFA500"/>
<rect x="165.52" y="393.62" width="13.54" height="12.92" fill="#B22222"/>
<rect x="179.06" y="393.62" width="13.54" height="12.92" fill="#FFEA86"/>
<rect x="192.60" y="393.62" width="6.77" height="12.92" fill="#B0E0E6"/>
<rect x="199.37" y="393.62" width="6.77" height="12.92" fill="#FFEA86"/>
<rect x="206.14" y="393.62" width="13.54" height="12.92" fill="#FFA500"/>
<rect x="219.68" y="393.62" width="6.77" height="12.92" fill="#FFEA86"/>
<rect x="226.45" y="393.62" width="6.77" height="12.92" fill="#FFA500"/>
<rect x="233.22" y="393.62" width="27.08" height="12.92" fill="#FFEA86"/>
<rect x="260.30" y="393.62" width="20.31" height="12.92" fill="#B0E0E6"/>
<rect x="280.61" y="393.62" width="6.77" height="12.92" fill="#FFEA86"/>
<rect x="287.38" y="393.62" width="27.08" height="12.92" fill="#FFA500"/>
<rect x="314.46" y="393.62" width="6.77" height="12.92" fill="#FFEA86"/>
<rect x="321.23" y="393.62" width="6.77" height="12.92" fill="#FFA500"/>
<rect x="328.00" y="393.62" width="6.77" height="12.92" fill="#FFEA86"/>
<rect x="124.90" y="406.54" width="20.31" height="12.92" fill="#B0E0E6"/>
<rect x="145.21" y="406.54" width="13.54" height="12.92" fill="#FFEA86"/>
<rect x="158.75" y="406.54" width="13.54" height="12.92" fill="#FFA500"/>
<rect x="172.29" y="406.54" width="6.77" height="12.92" fill="#B22222"/>
<rect x="179.06" y="406.54" width="13.54" height="12.92" fill="#FFEA86"/>
<rect x="192.60" y="406.54" width="6.77" height="12.92" fill="#B0E0E6"/>
<rect x="199.37" y="406.54" width="6.77" height="12.92" fill="#FFEA86"/>
<rect x="206.14" y="406.54" width="6.77" height="12.92" fill="#B22222"/>
<rect x="212.91" y="406.54" width="6.77" height="12.92" fill="#FFA500"/>
<rect x="219.68" y="406.54" width="6.77" height="12.92" fill="#FFEA86"/>
<rect x="226.45" y="406.54" width="27.08" height="12.92" fill="#FFA500"/>
<rect x="253.53" y="406.54" width="13.54" height="12.92" fill="#B0E0E6"/>
<rect x="267.07" y="406.54" width="6.77" height="12.92" fill="#FFEA86"/>
<rect x="273.84" y="406.54" width="6.77" height="12.92" fill="#B0E0E6"/>
<rect x="280.61" y="406.54" width="33.85" height="12.92" fill="#FFA500"/>
<rect x="314.46" y="406.54" width="6.77" height="12.92" fill="#FFEA86"/>
<rect x="321.23" y="406.54" width="6.77" height="12.92" fill="#FFA500"/>
<rect x="328.00" y="406.54" width="6.77" height="12.92" fill="#FFEA86"/>
<rect x="124.90" y="419.46" width="20.31" height="12.92" fill="#B0E0E6"/>
<rect x="145.21" y="419.46" width="13.54" height="12.92" fill="#FFEA86"/>
<rect x="158.75" y="419.46" width="13.54" height="12.92" fill="#FFA500"/>
<rect x="172.29" y="419.46" width="6.77" height="12.92" fill="#B22222"/>
<rect x="179.06" y="419.46" width="6.77" height="12.92" fill="#FFA500"/>
<rect x="185.83" y="419.46" width="20.31" height="12.92" fill="#FFEA86"/>
<rect x="206.14" y="419.46" width="13.54" height="12.92" fill="#FFA500"/>
<rect x="219.68" y="419.46" width="6.77" height="12.92" fill="#FFEA86"/>
<rect x="226.45" y="419.46" width="6.77" height="12.92" fill="#FFA500"/>
<rect x="233.22" y="419.46" width="13.54" height="12.92" fill="#FFEA86"/>
<rect x="246.76" y="419.46" width="6.77" height="12.92" fill="#FFA500"/>
<rect x="253.53" y="419.46" width="13.54" height="12.92" fill="#B0E0E6"/>
<rect x="267.07" y="419.46" width="6.77" height="12.92" fill="#FFEA86"/>
<rect x="273.84" y="419.46" width="6.77" height="12.92" fill="#B0E0E6"/>
<rect x="280.61" y="419.46" width="6.77" height="12.92" fill="#FFEA86"/>
<rect x="287.38" y="419.46" width="27.08" height="12.92" fill="#FFA500"/>
<rect x="314.46" y="419.46" width="6.77" height="12.92" fill="#FFEA86"/>
<rect x="321.23" y="419.46" width="6.77" height="12.92" fill="#FFA500"/>
<rect x="328.00" y="419.46" width="6.77" height="12.92" fill="#FFEA86"/>
<rect x="124.90" y="432.38" width="6.77" height="12.92" fill="#B0E0E6"/>
<rect x="131.67" y="432.38" width="6.77" height="12.92" fill="#4682B4"/>
<rect x="138.44" y="432.38" width="6.77" height="12.92" fill="#B0E0E6"/>
<rect x="145.21" y="432.38" width="13.54" height="12.92" fill="#FFEA86"/>
<rect x="158.75" y="432.38" width="13.54" height="12.92" fill="#FFA500"/>
<rect x="172.29" y="432.38" width="6.77" height="12.92" fill="#B22222"/>
<rect x="179.06" y="432.38" width="27.08" height="12.92" fill="#FFEA86"/>
<rect x="206.14" y="432.38" width="13.54" height="12.92" fill="#FFA500"/>
<rect x="219.68" y="432.38" width="6.77" height="12.92" fill="#FFEA86"/>
<rect x="226.45" y="432.38" width="6.77" height="12.92" fill="#FFA500"/>
<rect x="233.22" y="432.38" width="20.31" height="12.92" fill="#FFEA86"/>
<rect x="253.53" y="432.38" width="13.54" height="12.92" fill="#B0E0E6"/>
<rect x="267.07" y="432.38" width="13.54" height="12.92" fill="#FFEA86"/>
<rect x="280.61" y="432.38" width="27.08" height="12.92" fill="#FFA500"/>
<rect x="307.69" y="432.38" width="13.54" height="12.92" fill="#FFEA86"/>
<rect x="321.23" y="432.38" width="6.77" height="12.92" fill="#FFA500"/>
<rect x="328.00" y="432.38" width="6.77" height="12.92" fill="#FFEA86"/>
<path d="M131.67 251.50V445.30M138.44 251.50V445.30M145.21 251.50V445.30M151.98 251.50V445.30M158.75 251.50V445.30M165.52 251.50V445.30M172.29 251.50V445.30M179.06 251.50V445.30M185.83 251.50V445.30M192.60 251.50V445.30M199.37 251.50V445.30M206.14 251.50V445.30M212.91 251.50V445.30M219.68 251.50V445.30M226.45 251.50V445.30M233.22 251.50V445.30M239.99 251.50V445.30M246.76 251.50V445.30M253.53 251.50V445.30M260.30 251.50V445.30M267.07 251.50V445.30M273.84 251.50V445.30M280.61 251.50V445.30M287.38 251.50V445.30M294.15 251.50V445.30M300.92 251.50V445.30M307.69 251.50V445.30M314.46 251.50V445.30M321.23 251.50V445.30M328.00 251.50V445.30" stroke="#fff" stroke-opacity="0.2" stroke-width="0.7" fill="none"/>
<path d="M124.90 264.42H334.77M124.90 277.34H334.77M124.90 290.26H334.77M124.90 303.18H334.77M124.90 316.10H334.77M124.90 329.02H334.77M124.90 341.94H334.77M124.90 354.86H334.77M124.90 367.78H334.77M124.90 380.70H334.77M124.90 393.62H334.77M124.90 406.54H334.77M124.90 419.46H334.77M124.90 432.38H334.77" stroke="#fff" stroke-opacity="0.13" stroke-width="0.7" fill="none"/>
</g>
<text x="228.7" y="250.3" font-size="8.3" text-anchor="middle">07</text>
<path d="M155.37 445.3v5.3M189.22 445.3v5.3M223.06 445.3v5.3M256.91 445.3v5.3M290.76 445.3v5.3M324.62 445.3v5.3" stroke="#222" stroke-width="0.75" fill="none"/>
<text class="g" transform="translate(131.19 455.6) rotate(-90)" font-size="8.17" text-anchor="end">01</text>
<text class="g" transform="translate(137.96 455.6) rotate(-90)" font-size="8.17" text-anchor="end">02</text>
<text class="g" transform="translate(144.72 455.6) rotate(-90)" font-size="8.17" text-anchor="end">03</text>
<text class="g" transform="translate(151.50 455.6) rotate(-90)" font-size="8.17" text-anchor="end">04</text>
<text class="g" transform="translate(158.27 455.6) rotate(-90)" font-size="8.17" text-anchor="end">05</text>
<text class="g" transform="translate(165.03 455.6) rotate(-90)" font-size="8.17" text-anchor="end">06</text>
<text class="g" transform="translate(171.81 455.6) rotate(-90)" font-size="8.17" text-anchor="end">07</text>
<text class="g" transform="translate(178.58 455.6) rotate(-90)" font-size="8.17" text-anchor="end">08</text>
<text class="g" transform="translate(185.34 455.6) rotate(-90)" font-size="8.17" text-anchor="end">09</text>
<text class="g" transform="translate(192.12 455.6) rotate(-90)" font-size="8.17" text-anchor="end">10</text>
<text class="g" transform="translate(198.89 455.6) rotate(-90)" font-size="8.17" text-anchor="end">11</text>
<text class="g" transform="translate(205.66 455.6) rotate(-90)" font-size="8.17" text-anchor="end">12</text>
<text class="g" transform="translate(212.43 455.6) rotate(-90)" font-size="8.17" text-anchor="end">13</text>
<text class="g" transform="translate(219.20 455.6) rotate(-90)" font-size="8.17" text-anchor="end">14</text>
<text class="g" transform="translate(225.97 455.6) rotate(-90)" font-size="8.17" text-anchor="end">15</text>
<text class="g" transform="translate(232.73 455.6) rotate(-90)" font-size="8.17" text-anchor="end">16</text>
<text class="g" transform="translate(239.51 455.6) rotate(-90)" font-size="8.17" text-anchor="end">17</text>
<text class="g" transform="translate(246.28 455.6) rotate(-90)" font-size="8.17" text-anchor="end">18</text>
<text class="g" transform="translate(253.04 455.6) rotate(-90)" font-size="8.17" text-anchor="end">19</text>
<text class="g" transform="translate(259.81 455.6) rotate(-90)" font-size="8.17" text-anchor="end">20</text>
<text class="g" transform="translate(266.58 455.6) rotate(-90)" font-size="8.17" text-anchor="end">21</text>
<text class="g" transform="translate(273.35 455.6) rotate(-90)" font-size="8.17" text-anchor="end">22</text>
<text class="g" transform="translate(280.12 455.6) rotate(-90)" font-size="8.17" text-anchor="end">23</text>
<text class="g" transform="translate(286.89 455.6) rotate(-90)" font-size="8.17" text-anchor="end">24</text>
<text class="g" transform="translate(293.66 455.6) rotate(-90)" font-size="8.17" text-anchor="end">25</text>
<text class="g" transform="translate(300.43 455.6) rotate(-90)" font-size="8.17" text-anchor="end">26</text>
<text class="g" transform="translate(307.20 455.6) rotate(-90)" font-size="8.17" text-anchor="end">27</text>
<text class="g" transform="translate(313.97 455.6) rotate(-90)" font-size="8.17" text-anchor="end">28</text>
<text class="g" transform="translate(320.75 455.6) rotate(-90)" font-size="8.17" text-anchor="end">29</text>
<text class="g" transform="translate(327.51 455.6) rotate(-90)" font-size="8.17" text-anchor="end">30</text>
<text class="g" transform="translate(334.28 455.6) rotate(-90)" font-size="8.17" text-anchor="end">31</text>
<g>
<rect x="338.90" y="251.50" width="6.77" height="12.92" fill="#FFEA86"/>
<rect x="345.67" y="251.50" width="13.54" height="12.92" fill="#B0E0E6"/>
<rect x="359.21" y="251.50" width="13.54" height="12.92" fill="#FFEA86"/>
<rect x="372.75" y="251.50" width="6.77" height="12.92" fill="#4682B4"/>
<rect x="379.52" y="251.50" width="6.77" height="12.92" fill="#FFEA86"/>
<rect x="386.29" y="251.50" width="6.77" height="12.92" fill="#FFA500"/>
<rect x="393.06" y="251.50" width="13.54" height="12.92" fill="#FFEA86"/>
<rect x="406.60" y="251.50" width="13.54" height="12.92" fill="#B0E0E6"/>
<rect x="420.14" y="251.50" width="6.77" height="12.92" fill="#FFEA86"/>
<rect x="426.91" y="251.50" width="20.31" height="12.92" fill="#FFA500"/>
<rect x="447.22" y="251.50" width="13.54" height="12.92" fill="#4682B4"/>
<rect x="460.76" y="251.50" width="6.77" height="12.92" fill="#B0E0E6"/>
<rect x="467.53" y="251.50" width="27.08" height="12.92" fill="#FFEA86"/>
<rect x="494.61" y="251.50" width="6.77" height="12.92" fill="#B0E0E6"/>
<rect x="501.38" y="251.50" width="27.08" height="12.92" fill="#4682B4"/>
<rect x="528.46" y="251.50" width="20.31" height="12.92" fill="#B0E0E6"/>
<rect x="338.90" y="264.42" width="33.85" height="12.92" fill="#B0E0E6"/>
<rect x="372.75" y="264.42" width="6.77" height="12.92" fill="#4682B4"/>
<rect x="379.52" y="264.42" width="6.77" height="12.92" fill="#FFEA86"/>
<rect x="386.29" y="264.42" width="6.77" height="12.92" fill="#FFA500"/>
<rect x="393.06" y="264.42" width="33.85" height="12.92" fill="#FFEA86"/>
<rect x="426.91" y="264.42" width="20.31" height="12.92" fill="#FFA500"/>
<rect x="447.22" y="264.42" width="13.54" height="12.92" fill="#4682B4"/>
<rect x="460.76" y="264.42" width="13.54" height="12.92" fill="#B0E0E6"/>
<rect x="474.30" y="264.42" width="13.54" height="12.92" fill="#FFEA86"/>
<rect x="487.84" y="264.42" width="6.77" height="12.92" fill="#B0E0E6"/>
<rect x="494.61" y="264.42" width="33.85" height="12.92" fill="#4682B4"/>
<rect x="528.46" y="264.42" width="20.31" height="12.92" fill="#B0E0E6"/>
<rect x="338.90" y="277.34" width="13.54" height="12.92" fill="#B0E0E6"/>
<rect x="352.44" y="277.34" width="6.77" height="12.92" fill="#4682B4"/>
<rect x="359.21" y="277.34" width="13.54" height="12.92" fill="#B0E0E6"/>
<rect x="372.75" y="277.34" width="6.77" height="12.92" fill="#4682B4"/>
<rect x="379.52" y="277.34" width="54.16" height="12.92" fill="#FFEA86"/>
<rect x="433.68" y="277.34" width="13.54" height="12.92" fill="#FFA500"/>
<rect x="447.22" y="277.34" width="20.31" height="12.92" fill="#4682B4"/>
<rect x="467.53" y="277.34" width="13.54" height="12.92" fill="#B0E0E6"/>
<rect x="481.07" y="277.34" width="6.77" height="12.92" fill="#FFEA86"/>
<rect x="487.84" y="277.34" width="6.77" height="12.92" fill="#B0E0E6"/>
<rect x="494.61" y="277.34" width="47.39" height="12.92" fill="#4682B4"/>
<rect x="542.00" y="277.34" width="6.77" height="12.92" fill="#B0E0E6"/>
<rect x="338.90" y="290.26" width="6.77" height="12.92" fill="#FFEA86"/>
<rect x="345.67" y="290.26" width="27.08" height="12.92" fill="#B0E0E6"/>
<rect x="372.75" y="290.26" width="6.77" height="12.92" fill="#4682B4"/>
<rect x="379.52" y="290.26" width="6.77" height="12.92" fill="#B0E0E6"/>
<rect x="386.29" y="290.26" width="6.77" height="12.92" fill="#FFEA86"/>
<rect x="393.06" y="290.26" width="6.77" height="12.92" fill="#FFA500"/>
<rect x="399.83" y="290.26" width="6.77" height="12.92" fill="#FFEA86"/>
<rect x="406.60" y="290.26" width="6.77" height="12.92" fill="#FFA500"/>
<rect x="413.37" y="290.26" width="13.54" height="12.92" fill="#FFEA86"/>
<rect x="426.91" y="290.26" width="20.31" height="12.92" fill="#FFA500"/>
<rect x="447.22" y="290.26" width="20.31" height="12.92" fill="#4682B4"/>
<rect x="467.53" y="290.26" width="6.77" height="12.92" fill="#B0E0E6"/>
<rect x="474.30" y="290.26" width="13.54" height="12.92" fill="#FFEA86"/>
<rect x="487.84" y="290.26" width="13.54" height="12.92" fill="#B0E0E6"/>
<rect x="501.38" y="290.26" width="27.08" height="12.92" fill="#4682B4"/>
<rect x="528.46" y="290.26" width="20.31" height="12.92" fill="#B0E0E6"/>
<rect x="338.90" y="303.18" width="6.77" height="12.92" fill="#FFEA86"/>
<rect x="345.67" y="303.18" width="33.85" height="12.92" fill="#B0E0E6"/>
<rect x="379.52" y="303.18" width="6.77" height="12.92" fill="#FFEA86"/>
<rect x="386.29" y="303.18" width="20.31" height="12.92" fill="#FFA500"/>
<rect x="406.60" y="303.18" width="6.77" height="12.92" fill="#FFEA86"/>
<rect x="413.37" y="303.18" width="6.77" height="12.92" fill="#B0E0E6"/>
<rect x="420.14" y="303.18" width="6.77" height="12.92" fill="#FFEA86"/>
<rect x="426.91" y="303.18" width="20.31" height="12.92" fill="#FFA500"/>
<rect x="447.22" y="303.18" width="13.54" height="12.92" fill="#4682B4"/>
<rect x="460.76" y="303.18" width="13.54" height="12.92" fill="#B0E0E6"/>
<rect x="474.30" y="303.18" width="13.54" height="12.92" fill="#FFEA86"/>
<rect x="487.84" y="303.18" width="13.54" height="12.92" fill="#B0E0E6"/>
<rect x="501.38" y="303.18" width="33.85" height="12.92" fill="#4682B4"/>
<rect x="535.23" y="303.18" width="13.54" height="12.92" fill="#B0E0E6"/>
<rect x="338.90" y="316.10" width="6.77" height="12.92" fill="#FFEA86"/>
<rect x="345.67" y="316.10" width="27.08" height="12.92" fill="#B0E0E6"/>
<rect x="372.75" y="316.10" width="6.77" height="12.92" fill="#4682B4"/>
<rect x="379.52" y="316.10" width="6.77" height="12.92" fill="#B0E0E6"/>
<rect x="386.29" y="316.10" width="6.77" height="12.92" fill="#FFA500"/>
<rect x="393.06" y="316.10" width="27.08" height="12.92" fill="#FFEA86"/>
<rect x="420.14" y="316.10" width="27.08" height="12.92" fill="#FFA500"/>
<rect x="447.22" y="316.10" width="6.77" height="12.92" fill="#B0E0E6"/>
<rect x="453.99" y="316.10" width="6.77" height="12.92" fill="#4682B4"/>
<rect x="460.76" y="316.10" width="6.77" height="12.92" fill="#B0E0E6"/>
<rect x="467.53" y="316.10" width="20.31" height="12.92" fill="#FFEA86"/>
<rect x="487.84" y="316.10" width="6.77" height="12.92" fill="#B0E0E6"/>
<rect x="494.61" y="316.10" width="13.54" height="12.92" fill="#4682B4"/>
<rect x="508.15" y="316.10" width="6.77" height="12.92" fill="#B0E0E6"/>
<rect x="514.92" y="316.10" width="20.31" height="12.92" fill="#4682B4"/>
<rect x="535.23" y="316.10" width="13.54" height="12.92" fill="#B0E0E6"/>
<rect x="338.90" y="329.02" width="20.31" height="12.92" fill="#B0E0E6"/>
<rect x="359.21" y="329.02" width="6.77" height="12.92" fill="#FFEA86"/>
<rect x="365.98" y="329.02" width="13.54" height="12.92" fill="#B0E0E6"/>
<rect x="379.52" y="329.02" width="6.77" height="12.92" fill="#FFEA86"/>
<rect x="386.29" y="329.02" width="6.77" height="12.92" fill="#FFA500"/>
<rect x="393.06" y="329.02" width="33.85" height="12.92" fill="#FFEA86"/>
<rect x="426.91" y="329.02" width="20.31" height="12.92" fill="#FFA500"/>
<rect x="447.22" y="329.02" width="20.31" height="12.92" fill="#4682B4"/>
<rect x="467.53" y="329.02" width="6.77" height="12.92" fill="#B0E0E6"/>
<rect x="474.30" y="329.02" width="13.54" height="12.92" fill="#FFEA86"/>
<rect x="487.84" y="329.02" width="6.77" height="12.92" fill="#B0E0E6"/>
<rect x="494.61" y="329.02" width="6.77" height="12.92" fill="#4682B4"/>
<rect x="501.38" y="329.02" width="6.77" height="12.92" fill="#B0E0E6"/>
<rect x="508.15" y="329.02" width="20.31" height="12.92" fill="#4682B4"/>
<rect x="528.46" y="329.02" width="20.31" height="12.92" fill="#B0E0E6"/>
<rect x="338.90" y="341.94" width="6.77" height="12.92" fill="#FFEA86"/>
<rect x="345.67" y="341.94" width="6.77" height="12.92" fill="#4682B4"/>
<rect x="352.44" y="341.94" width="20.31" height="12.92" fill="#B0E0E6"/>
<rect x="372.75" y="341.94" width="6.77" height="12.92" fill="#4682B4"/>
<rect x="379.52" y="341.94" width="40.62" height="12.92" fill="#FFEA86"/>
<rect x="420.14" y="341.94" width="27.08" height="12.92" fill="#FFA500"/>
<rect x="447.22" y="341.94" width="13.54" height="12.92" fill="#4682B4"/>
<rect x="460.76" y="341.94" width="13.54" height="12.92" fill="#B0E0E6"/>
<rect x="474.30" y="341.94" width="13.54" height="12.92" fill="#FFEA86"/>
<rect x="487.84" y="341.94" width="6.77" height="12.92" fill="#B0E0E6"/>
<rect x="494.61" y="341.94" width="33.85" height="12.92" fill="#4682B4"/>
<rect x="528.46" y="341.94" width="6.77" height="12.92" fill="#B0E0E6"/>
<rect x="535.23" y="341.94" width="6.77" height="12.92" fill="#4682B4"/>
<rect x="542.00" y="341.94" width="6.77" height="12.92" fill="#B0E0E6"/>
<rect x="338.90" y="354.86" width="20.31" height="12.92" fill="#B0E0E6"/>
<rect x="359.21" y="354.86" width="6.77" height="12.92" fill="#FFEA86"/>
<rect x="365.98" y="354.86" width="6.77" height="12.92" fill="#B0E0E6"/>
<rect x="372.75" y="354.86" width="6.77" height="12.92" fill="#4682B4"/>
<rect x="379.52" y="354.86" width="47.39" height="12.92" fill="#FFEA86"/>
<rect x="426.91" y="354.86" width="20.31" height="12.92" fill="#FFA500"/>
<rect x="447.22" y="354.86" width="13.54" height="12.92" fill="#4682B4"/>
<rect x="460.76" y="354.86" width="20.31" height="12.92" fill="#B0E0E6"/>
<rect x="481.07" y="354.86" width="6.77" height="12.92" fill="#FFEA86"/>
<rect x="487.84" y="354.86" width="13.54" height="12.92" fill="#B0E0E6"/>
<rect x="501.38" y="354.86" width="20.31" height="12.92" fill="#4682B4"/>
<rect x="521.69" y="354.86" width="27.08" height="12.92" fill="#B0E0E6"/>
<rect x="338.90" y="367.78" width="6.77" height="12.92" fill="#FFEA86"/>
<rect x="345.67" y="367.78" width="27.08" height="12.92" fill="#B0E0E6"/>
<rect x="372.75" y="367.78" width="6.77" height="12.92" fill="#4682B4"/>
<rect x="379.52" y="367.78" width="33.85" height="12.92" fill="#FFEA86"/>
<rect x="413.37" y="367.78" width="6.77" height="12.92" fill="#B0E0E6"/>
<rect x="420.14" y="367.78" width="13.54" height="12.92" fill="#FFEA86"/>
<rect x="433.68" y="367.78" width="13.54" height="12.92" fill="#FFA500"/>
<rect x="447.22" y="367.78" width="13.54" height="12.92" fill="#4682B4"/>
<rect x="460.76" y="367.78" width="13.54" height="12.92" fill="#B0E0E6"/>
<rect x="474.30" y="367.78" width="13.54" height="12.92" fill="#FFEA86"/>
<rect x="487.84" y="367.78" width="13.54" height="12.92" fill="#B0E0E6"/>
<rect x="501.38" y="367.78" width="20.31" height="12.92" fill="#4682B4"/>
<rect x="521.69" y="367.78" width="13.54" height="12.92" fill="#B0E0E6"/>
<rect x="535.23" y="367.78" width="6.77" height="12.92" fill="#4682B4"/>
<rect x="542.00" y="367.78" width="6.77" height="12.92" fill="#B0E0E6"/>
<rect x="338.90" y="380.70" width="6.77" height="12.92" fill="#FFEA86"/>
<rect x="345.67" y="380.70" width="6.77" height="12.92" fill="#4682B4"/>
<rect x="352.44" y="380.70" width="6.77" height="12.92" fill="#B0E0E6"/>
<rect x="359.21" y="380.70" width="6.77" height="12.92" fill="#FFEA86"/>
<rect x="365.98" y="380.70" width="6.77" height="12.92" fill="#B0E0E6"/>
<rect x="372.75" y="380.70" width="6.77" height="12.92" fill="#4682B4"/>
<rect x="379.52" y="380.70" width="20.31" height="12.92" fill="#FFEA86"/>
<rect x="399.83" y="380.70" width="6.77" height="12.92" fill="#FFA500"/>
<rect x="406.60" y="380.70" width="6.77" height="12.92" fill="#FFEA86"/>
<rect x="413.37" y="380.70" width="6.77" height="12.92" fill="#B0E0E6"/>
<rect x="420.14" y="380.70" width="6.77" height="12.92" fill="#FFEA86"/>
<rect x="426.91" y="380.70" width="20.31" height="12.92" fill="#FFA500"/>
<rect x="447.22" y="380.70" width="13.54" height="12.92" fill="#4682B4"/>
<rect x="460.76" y="380.70" width="20.31" height="12.92" fill="#B0E0E6"/>
<rect x="481.07" y="380.70" width="6.77" height="12.92" fill="#FFEA86"/>
<rect x="487.84" y="380.70" width="13.54" height="12.92" fill="#B0E0E6"/>
<rect x="501.38" y="380.70" width="20.31" height="12.92" fill="#4682B4"/>
<rect x="521.69" y="380.70" width="27.08" height="12.92" fill="#B0E0E6"/>
<rect x="338.90" y="393.62" width="20.31" height="12.92" fill="#B0E0E6"/>
<rect x="359.21" y="393.62" width="6.77" height="12.92" fill="#FFEA86"/>
<rect x="365.98" y="393.62" width="13.54" height="12.92" fill="#B0E0E6"/>
<rect x="379.52" y="393.62" width="40.62" height="12.92" fill="#FFEA86"/>
<rect x="420.14" y="393.62" width="27.08" height="12.92" fill="#FFA500"/>
<rect x="447.22" y="393.62" width="13.54" height="12.92" fill="#4682B4"/>
<rect x="460.76" y="393.62" width="6.77" height="12.92" fill="#B0E0E6"/>
<rect x="467.53" y="393.62" width="13.54" height="12.92" fill="#FFEA86"/>
<rect x="481.07" y="393.62" width="6.77" height="12.92" fill="#FFA500"/>
<rect x="487.84" y="393.62" width="13.54" height="12.92" fill="#B0E0E6"/>
<rect x="501.38" y="393.62" width="27.08" height="12.92" fill="#4682B4"/>
<rect x="528.46" y="393.62" width="20.31" height="12.92" fill="#B0E0E6"/>
<rect x="338.90" y="406.54" width="6.77" height="12.92" fill="#B0E0E6"/>
<rect x="345.67" y="406.54" width="6.77" height="12.92" fill="#4682B4"/>
<rect x="352.44" y="406.54" width="6.77" height="12.92" fill="#B0E0E6"/>
<rect x="359.21" y="406.54" width="6.77" height="12.92" fill="#FFEA86"/>
<rect x="365.98" y="406.54" width="6.77" height="12.92" fill="#4682B4"/>
<rect x="372.75" y="406.54" width="6.77" height="12.92" fill="#B0E0E6"/>
<rect x="379.52" y="406.54" width="6.77" height="12.92" fill="#FFA500"/>
<rect x="386.29" y="406.54" width="40.62" height="12.92" fill="#FFEA86"/>
<rect x="426.91" y="406.54" width="13.54" height="12.92" fill="#FFA500"/>
<rect x="440.45" y="406.54" width="6.77" height="12.92" fill="#FFEA86"/>
<rect x="447.22" y="406.54" width="13.54" height="12.92" fill="#4682B4"/>
<rect x="460.76" y="406.54" width="20.31" height="12.92" fill="#B0E0E6"/>
<rect x="481.07" y="406.54" width="6.77" height="12.92" fill="#FFEA86"/>
<rect x="487.84" y="406.54" width="6.77" height="12.92" fill="#B0E0E6"/>
<rect x="494.61" y="406.54" width="40.62" height="12.92" fill="#4682B4"/>
<rect x="535.23" y="406.54" width="13.54" height="12.92" fill="#B0E0E6"/>
<rect x="338.90" y="419.46" width="20.31" height="12.92" fill="#B0E0E6"/>
<rect x="359.21" y="419.46" width="6.77" height="12.92" fill="#FFEA86"/>
<rect x="365.98" y="419.46" width="6.77" height="12.92" fill="#4682B4"/>
<rect x="372.75" y="419.46" width="6.77" height="12.92" fill="#B0E0E6"/>
<rect x="379.52" y="419.46" width="6.77" height="12.92" fill="#FFA500"/>
<rect x="386.29" y="419.46" width="13.54" height="12.92" fill="#FFEA86"/>
<rect x="399.83" y="419.46" width="6.77" height="12.92" fill="#FFA500"/>
<rect x="406.60" y="419.46" width="13.54" height="12.92" fill="#FFEA86"/>
<rect x="420.14" y="419.46" width="27.08" height="12.92" fill="#FFA500"/>
<rect x="447.22" y="419.46" width="13.54" height="12.92" fill="#4682B4"/>
<rect x="460.76" y="419.46" width="13.54" height="12.92" fill="#B0E0E6"/>
<rect x="474.30" y="419.46" width="13.54" height="12.92" fill="#FFEA86"/>
<rect x="487.84" y="419.46" width="13.54" height="12.92" fill="#B0E0E6"/>
<rect x="501.38" y="419.46" width="20.31" height="12.92" fill="#4682B4"/>
<rect x="521.69" y="419.46" width="27.08" height="12.92" fill="#B0E0E6"/>
<rect x="338.90" y="432.38" width="13.54" height="12.92" fill="#4682B4"/>
<rect x="352.44" y="432.38" width="13.54" height="12.92" fill="#B0E0E6"/>
<rect x="365.98" y="432.38" width="6.77" height="12.92" fill="#4682B4"/>
<rect x="372.75" y="432.38" width="6.77" height="12.92" fill="#B0E0E6"/>
<rect x="379.52" y="432.38" width="6.77" height="12.92" fill="#FFA500"/>
<rect x="386.29" y="432.38" width="13.54" height="12.92" fill="#FFEA86"/>
<rect x="399.83" y="432.38" width="6.77" height="12.92" fill="#FFA500"/>
<rect x="406.60" y="432.38" width="6.77" height="12.92" fill="#FFEA86"/>
<rect x="413.37" y="432.38" width="27.08" height="12.92" fill="#FFA500"/>
<rect x="440.45" y="432.38" width="6.77" height="12.92" fill="#FFEA86"/>
<rect x="447.22" y="432.38" width="13.54" height="12.92" fill="#4682B4"/>
<rect x="460.76" y="432.38" width="6.77" height="12.92" fill="#B0E0E6"/>
<rect x="467.53" y="432.38" width="20.31" height="12.92" fill="#FFEA86"/>
<rect x="487.84" y="432.38" width="6.77" height="12.92" fill="#B0E0E6"/>
<rect x="494.61" y="432.38" width="27.08" height="12.92" fill="#4682B4"/>
<rect x="521.69" y="432.38" width="27.08" height="12.92" fill="#B0E0E6"/>
<path d="M345.67 251.50V445.30M352.44 251.50V445.30M359.21 251.50V445.30M365.98 251.50V445.30M372.75 251.50V445.30M379.52 251.50V445.30M386.29 251.50V445.30M393.06 251.50V445.30M399.83 251.50V445.30M406.60 251.50V445.30M413.37 251.50V445.30M420.14 251.50V445.30M426.91 251.50V445.30M433.68 251.50V445.30M440.45 251.50V445.30M447.22 251.50V445.30M453.99 251.50V445.30M460.76 251.50V445.30M467.53 251.50V445.30M474.30 251.50V445.30M481.07 251.50V445.30M487.84 251.50V445.30M494.61 251.50V445.30M501.38 251.50V445.30M508.15 251.50V445.30M514.92 251.50V445.30M521.69 251.50V445.30M528.46 251.50V445.30M535.23 251.50V445.30M542.00 251.50V445.30" stroke="#fff" stroke-opacity="0.2" stroke-width="0.7" fill="none"/>
<path d="M338.90 264.42H548.77M338.90 277.34H548.77M338.90 290.26H548.77M338.90 303.18H548.77M338.90 316.10H548.77M338.90 329.02H548.77M338.90 341.94H548.77M338.90 354.86H548.77M338.90 367.78H548.77M338.90 380.70H548.77M338.90 393.62H548.77M338.90 406.54H548.77M338.90 419.46H548.77M338.90 432.38H548.77" stroke="#fff" stroke-opacity="0.13" stroke-width="0.7" fill="none"/>
</g>
<text x="442.7" y="250.3" font-size="8.3" text-anchor="middle">08</text>
<path d="M369.36 445.3v5.3M403.21 445.3v5.3M437.06 445.3v5.3M470.91 445.3v5.3M504.76 445.3v5.3M538.62 445.3v5.3" stroke="#222" stroke-width="0.75" fill="none"/>
<g>
<rect x="552.90" y="251.50" width="20.31" height="12.92" fill="#B0E0E6"/>
<rect x="573.21" y="251.50" width="6.77" height="12.92" fill="#FFEA86"/>
<rect x="579.98" y="251.50" width="6.77" height="12.92" fill="#4682B4"/>
<rect x="586.75" y="251.50" width="13.54" height="12.92" fill="#B0E0E6"/>
<rect x="600.29" y="251.50" width="47.39" height="12.92" fill="#FFEA86"/>
<rect x="647.68" y="251.50" width="13.54" height="12.92" fill="#FFA500"/>
<rect x="661.22" y="251.50" width="13.54" height="12.92" fill="#FFEA86"/>
<rect x="674.76" y="251.50" width="6.77" height="12.92" fill="#B0E0E6"/>
<rect x="681.53" y="251.50" width="20.31" height="12.92" fill="#4682B4"/>
<rect x="701.84" y="251.50" width="13.54" height="12.92" fill="#B0E0E6"/>
<rect x="715.38" y="251.50" width="27.08" height="12.92" fill="#FFEA86"/>
<rect x="742.46" y="251.50" width="6.77" height="12.92" fill="#FFA500"/>
<rect x="749.23" y="251.50" width="6.77" height="12.92" fill="#FFEA86"/>
<rect x="552.90" y="264.42" width="20.31" height="12.92" fill="#B0E0E6"/>
<rect x="573.21" y="264.42" width="6.77" height="12.92" fill="#FFEA86"/>
<rect x="579.98" y="264.42" width="20.31" height="12.92" fill="#B0E0E6"/>
<rect x="600.29" y="264.42" width="33.85" height="12.92" fill="#FFEA86"/>
<rect x="634.14" y="264.42" width="27.08" height="12.92" fill="#FFA500"/>
<rect x="661.22" y="264.42" width="13.54" height="12.92" fill="#FFEA86"/>
<rect x="674.76" y="264.42" width="6.77" height="12.92" fill="#B0E0E6"/>
<rect x="681.53" y="264.42" width="20.31" height="12.92" fill="#4682B4"/>
<rect x="701.84" y="264.42" width="13.54" height="12.92" fill="#B0E0E6"/>
<rect x="715.38" y="264.42" width="6.77" height="12.92" fill="#FFEA86"/>
<rect x="722.15" y="264.42" width="13.54" height="12.92" fill="#FFA500"/>
<rect x="735.69" y="264.42" width="13.54" height="12.92" fill="#FFEA86"/>
<rect x="749.23" y="264.42" width="6.77" height="12.92" fill="#B0E0E6"/>
<rect x="552.90" y="277.34" width="67.70" height="12.92" fill="#B0E0E6"/>
<rect x="620.60" y="277.34" width="27.08" height="12.92" fill="#FFEA86"/>
<rect x="647.68" y="277.34" width="20.31" height="12.92" fill="#FFA500"/>
<rect x="667.99" y="277.34" width="13.54" height="12.92" fill="#B0E0E6"/>
<rect x="681.53" y="277.34" width="20.31" height="12.92" fill="#4682B4"/>
<rect x="701.84" y="277.34" width="13.54" height="12.92" fill="#B0E0E6"/>
<rect x="715.38" y="277.34" width="13.54" height="12.92" fill="#FFEA86"/>
<rect x="728.92" y="277.34" width="13.54" height="12.92" fill="#FFA500"/>
<rect x="742.46" y="277.34" width="13.54" height="12.92" fill="#FFEA86"/>
<rect x="552.90" y="290.26" width="20.31" height="12.92" fill="#B0E0E6"/>
<rect x="573.21" y="290.26" width="6.77" height="12.92" fill="#FFEA86"/>
<rect x="579.98" y="290.26" width="20.31" height="12.92" fill="#B0E0E6"/>
<rect x="600.29" y="290.26" width="27.08" height="12.92" fill="#FFEA86"/>
<rect x="627.37" y="290.26" width="40.62" height="12.92" fill="#FFA500"/>
<rect x="667.99" y="290.26" width="13.54" height="12.92" fill="#B0E0E6"/>
<rect x="681.53" y="290.26" width="27.08" height="12.92" fill="#4682B4"/>
<rect x="708.61" y="290.26" width="6.77" height="12.92" fill="#B0E0E6"/>
<rect x="715.38" y="290.26" width="6.77" height="12.92" fill="#FFEA86"/>
<rect x="722.15" y="290.26" width="13.54" height="12.92" fill="#FFA500"/>
<rect x="735.69" y="290.26" width="13.54" height="12.92" fill="#FFEA86"/>
<rect x="749.23" y="290.26" width="6.77" height="12.92" fill="#B0E0E6"/>
<rect x="552.90" y="303.18" width="13.54" height="12.92" fill="#B0E0E6"/>
<rect x="566.44" y="303.18" width="13.54" height="12.92" fill="#FFEA86"/>
<rect x="579.98" y="303.18" width="13.54" height="12.92" fill="#4682B4"/>
<rect x="593.52" y="303.18" width="6.77" height="12.92" fill="#B0E0E6"/>
<rect x="600.29" y="303.18" width="6.77" height="12.92" fill="#FFEA86"/>
<rect x="607.06" y="303.18" width="13.54" height="12.92" fill="#B0E0E6"/>
<rect x="620.60" y="303.18" width="6.77" height="12.92" fill="#FFEA86"/>
<rect x="627.37" y="303.18" width="33.85" height="12.92" fill="#FFA500"/>
<rect x="661.22" y="303.18" width="13.54" height="12.92" fill="#FFEA86"/>
<rect x="674.76" y="303.18" width="6.77" height="12.92" fill="#B0E0E6"/>
<rect x="681.53" y="303.18" width="6.77" height="12.92" fill="#4682B4"/>
<rect x="688.30" y="303.18" width="6.77" height="12.92" fill="#B0E0E6"/>
<rect x="695.07" y="303.18" width="6.77" height="12.92" fill="#4682B4"/>
<rect x="701.84" y="303.18" width="6.77" height="12.92" fill="#B0E0E6"/>
<rect x="708.61" y="303.18" width="20.31" height="12.92" fill="#FFEA86"/>
<rect x="728.92" y="303.18" width="6.77" height="12.92" fill="#FFA500"/>
<rect x="735.69" y="303.18" width="13.54" height="12.92" fill="#FFEA86"/>
<rect x="749.23" y="303.18" width="6.77" height="12.92" fill="#B0E0E6"/>
<rect x="552.90" y="316.10" width="27.08" height="12.92" fill="#B0E0E6"/>
<rect x="579.98" y="316.10" width="20.31" height="12.92" fill="#FFEA86"/>
<rect x="600.29" y="316.10" width="20.31" height="12.92" fill="#FFA500"/>
<rect x="620.60" y="316.10" width="6.77" height="12.92" fill="#FFEA86"/>
<rect x="627.37" y="316.10" width="6.77" height="12.92" fill="#FFA500"/>
<rect x="634.14" y="316.10" width="6.77" height="12.92" fill="#FFEA86"/>
<rect x="640.91" y="316.10" width="20.31" height="12.92" fill="#FFA500"/>
<rect x="661.22" y="316.10" width="6.77" height="12.92" fill="#FFEA86"/>
<rect x="667.99" y="316.10" width="6.77" height="12.92" fill="#B0E0E6"/>
<rect x="674.76" y="316.10" width="40.62" height="12.92" fill="#4682B4"/>
<rect x="715.38" y="316.10" width="33.85" height="12.92" fill="#FFA500"/>
<rect x="749.23" y="316.10" width="6.77" height="12.92" fill="#B0E0E6"/>
<rect x="552.90" y="329.02" width="47.39" height="12.92" fill="#B0E0E6"/>
<rect x="600.29" y="329.02" width="40.62" height="12.92" fill="#FFEA86"/>
<rect x="640.91" y="329.02" width="20.31" height="12.92" fill="#FFA500"/>
<rect x="661.22" y="329.02" width="6.77" height="12.92" fill="#FFEA86"/>
<rect x="667.99" y="329.02" width="13.54" height="12.92" fill="#B0E0E6"/>
<rect x="681.53" y="329.02" width="20.31" height="12.92" fill="#4682B4"/>
<rect x="701.84" y="329.02" width="6.77" height="12.92" fill="#B0E0E6"/>
<rect x="708.61" y="329.02" width="20.31" height="12.92" fill="#FFEA86"/>
<rect x="728.92" y="329.02" width="13.54" height="12.92" fill="#FFA500"/>
<rect x="742.46" y="329.02" width="13.54" height="12.92" fill="#FFEA86"/>
<rect x="552.90" y="341.94" width="20.31" height="12.92" fill="#B0E0E6"/>
<rect x="573.21" y="341.94" width="33.85" height="12.92" fill="#FFEA86"/>
<rect x="607.06" y="341.94" width="6.77" height="12.92" fill="#FFA500"/>
<rect x="613.83" y="341.94" width="13.54" height="12.92" fill="#FFEA86"/>
<rect x="627.37" y="341.94" width="33.85" height="12.92" fill="#FFA500"/>
<rect x="661.22" y="341.94" width="6.77" height="12.92" fill="#FFEA86"/>
<rect x="667.99" y="341.94" width="13.54" height="12.92" fill="#B0E0E6"/>
<rect x="681.53" y="341.94" width="20.31" height="12.92" fill="#4682B4"/>
<rect x="701.84" y="341.94" width="13.54" height="12.92" fill="#B0E0E6"/>
<rect x="715.38" y="341.94" width="33.85" height="12.92" fill="#FFA500"/>
<rect x="749.23" y="341.94" width="6.77" height="12.92" fill="#B0E0E6"/>
<rect x="552.90" y="354.86" width="47.39" height="12.92" fill="#B0E0E6"/>
<rect x="600.29" y="354.86" width="47.39" height="12.92" fill="#FFEA86"/>
<rect x="647.68" y="354.86" width="13.54" height="12.92" fill="#FFA500"/>
<rect x="661.22" y="354.86" width="6.77" height="12.92" fill="#FFEA86"/>
<rect x="667.99" y="354.86" width="13.54" height="12.92" fill="#B0E0E6"/>
<rect x="681.53" y="354.86" width="20.31" height="12.92" fill="#4682B4"/>
<rect x="701.84" y="354.86" width="6.77" height="12.92" fill="#B0E0E6"/>
<rect x="708.61" y="354.86" width="20.31" height="12.92" fill="#FFEA86"/>
<rect x="728.92" y="354.86" width="13.54" height="12.92" fill="#FFA500"/>
<rect x="742.46" y="354.86" width="13.54" height="12.92" fill="#FFEA86"/>
<rect x="552.90" y="367.78" width="6.77" height="12.92" fill="#B0E0E6"/>
<rect x="559.67" y="367.78" width="6.77" height="12.92" fill="#FFEA86"/>
<rect x="566.44" y="367.78" width="27.08" height="12.92" fill="#B0E0E6"/>
<rect x="593.52" y="367.78" width="13.54" height="12.92" fill="#FFEA86"/>
<rect x="607.06" y="367.78" width="20.31" height="12.92" fill="#B0E0E6"/>
<rect x="627.37" y="367.78" width="27.08" height="12.92" fill="#FFEA86"/>
<rect x="654.45" y="367.78" width="6.77" height="12.92" fill="#FFA500"/>
<rect x="661.22" y="367.78" width="13.54" height="12.92" fill="#FFEA86"/>
<rect x="674.76" y="367.78" width="6.77" height="12.92" fill="#B0E0E6"/>
<rect x="681.53" y="367.78" width="20.31" height="12.92" fill="#4682B4"/>
<rect x="701.84" y="367.78" width="6.77" height="12.92" fill="#B0E0E6"/>
<rect x="708.61" y="367.78" width="20.31" height="12.92" fill="#FFEA86"/>
<rect x="728.92" y="367.78" width="13.54" height="12.92" fill="#FFA500"/>
<rect x="742.46" y="367.78" width="6.77" height="12.92" fill="#FFEA86"/>
<rect x="749.23" y="367.78" width="6.77" height="12.92" fill="#B0E0E6"/>
<rect x="552.90" y="380.70" width="6.77" height="12.92" fill="#B0E0E6"/>
<rect x="559.67" y="380.70" width="6.77" height="12.92" fill="#FFEA86"/>
<rect x="566.44" y="380.70" width="27.08" height="12.92" fill="#B0E0E6"/>
<rect x="593.52" y="380.70" width="13.54" height="12.92" fill="#FFEA86"/>
<rect x="607.06" y="380.70" width="20.31" height="12.92" fill="#B0E0E6"/>
<rect x="627.37" y="380.70" width="20.31" height="12.92" fill="#FFEA86"/>
<rect x="647.68" y="380.70" width="13.54" height="12.92" fill="#FFA500"/>
<rect x="661.22" y="380.70" width="13.54" height="12.92" fill="#FFEA86"/>
<rect x="674.76" y="380.70" width="6.77" height="12.92" fill="#B0E0E6"/>
<rect x="681.53" y="380.70" width="20.31" height="12.92" fill="#4682B4"/>
<rect x="701.84" y="380.70" width="6.77" height="12.92" fill="#B0E0E6"/>
<rect x="708.61" y="380.70" width="20.31" height="12.92" fill="#FFEA86"/>
<rect x="728.92" y="380.70" width="20.31" height="12.92" fill="#FFA500"/>
<rect x="749.23" y="380.70" width="6.77" height="12.92" fill="#B0E0E6"/>
<rect x="552.90" y="393.62" width="27.08" height="12.92" fill="#B0E0E6"/>
<rect x="579.98" y="393.62" width="6.77" height="12.92" fill="#FFEA86"/>
<rect x="586.75" y="393.62" width="13.54" height="12.92" fill="#B0E0E6"/>
<rect x="600.29" y="393.62" width="40.62" height="12.92" fill="#FFEA86"/>
<rect x="640.91" y="393.62" width="20.31" height="12.92" fill="#FFA500"/>
<rect x="661.22" y="393.62" width="6.77" height="12.92" fill="#FFEA86"/>
<rect x="667.99" y="393.62" width="13.54" height="12.92" fill="#B0E0E6"/>
<rect x="681.53" y="393.62" width="6.77" height="12.92" fill="#4682B4"/>
<rect x="688.30" y="393.62" width="6.77" height="12.92" fill="#B0E0E6"/>
<rect x="695.07" y="393.62" width="6.77" height="12.92" fill="#4682B4"/>
<rect x="701.84" y="393.62" width="6.77" height="12.92" fill="#B0E0E6"/>
<rect x="708.61" y="393.62" width="13.54" height="12.92" fill="#FFEA86"/>
<rect x="722.15" y="393.62" width="6.77" height="12.92" fill="#FFA500"/>
<rect x="728.92" y="393.62" width="6.77" height="12.92" fill="#FFEA86"/>
<rect x="735.69" y="393.62" width="6.77" height="12.92" fill="#FFA500"/>
<rect x="742.46" y="393.62" width="6.77" height="12.92" fill="#FFEA86"/>
<rect x="749.23" y="393.62" width="6.77" height="12.92" fill="#B0E0E6"/>
<rect x="552.90" y="406.54" width="47.39" height="12.92" fill="#B0E0E6"/>
<rect x="600.29" y="406.54" width="47.39" height="12.92" fill="#FFEA86"/>
<rect x="647.68" y="406.54" width="13.54" height="12.92" fill="#FFA500"/>
<rect x="661.22" y="406.54" width="6.77" height="12.92" fill="#FFEA86"/>
<rect x="667.99" y="406.54" width="6.77" height="12.92" fill="#B0E0E6"/>
<rect x="674.76" y="406.54" width="27.08" height="12.92" fill="#4682B4"/>
<rect x="701.84" y="406.54" width="6.77" height="12.92" fill="#B0E0E6"/>
<rect x="708.61" y="406.54" width="13.54" height="12.92" fill="#FFEA86"/>
<rect x="722.15" y="406.54" width="6.77" height="12.92" fill="#FFA500"/>
<rect x="728.92" y="406.54" width="20.31" height="12.92" fill="#FFEA86"/>
<rect x="749.23" y="406.54" width="6.77" height="12.92" fill="#B0E0E6"/>
<rect x="552.90" y="419.46" width="6.77" height="12.92" fill="#FFEA86"/>
<rect x="559.67" y="419.46" width="13.54" height="12.92" fill="#B0E0E6"/>
<rect x="573.21" y="419.46" width="20.31" height="12.92" fill="#FFEA86"/>
<rect x="593.52" y="419.46" width="6.77" height="12.92" fill="#B0E0E6"/>
<rect x="600.29" y="419.46" width="27.08" height="12.92" fill="#FFEA86"/>
<rect x="627.37" y="419.46" width="33.85" height="12.92" fill="#FFA500"/>
<rect x="661.22" y="419.46" width="13.54" height="12.92" fill="#FFEA86"/>
<rect x="674.76" y="419.46" width="20.31" height="12.92" fill="#B0E0E6"/>
<rect x="695.07" y="419.46" width="6.77" height="12.92" fill="#4682B4"/>
<rect x="701.84" y="419.46" width="6.77" height="12.92" fill="#B0E0E6"/>
<rect x="708.61" y="419.46" width="6.77" height="12.92" fill="#FFA500"/>
<rect x="715.38" y="419.46" width="6.77" height="12.92" fill="#FFEA86"/>
<rect x="722.15" y="419.46" width="6.77" height="12.92" fill="#FFA500"/>
<rect x="728.92" y="419.46" width="6.77" height="12.92" fill="#FFEA86"/>
<rect x="735.69" y="419.46" width="6.77" height="12.92" fill="#FFA500"/>
<rect x="742.46" y="419.46" width="6.77" height="12.92" fill="#FFEA86"/>
<rect x="749.23" y="419.46" width="6.77" height="12.92" fill="#B0E0E6"/>
<rect x="552.90" y="432.38" width="13.54" height="12.92" fill="#B0E0E6"/>
<rect x="566.44" y="432.38" width="40.62" height="12.92" fill="#FFEA86"/>
<rect x="607.06" y="432.38" width="54.16" height="12.92" fill="#FFA500"/>
<rect x="661.22" y="432.38" width="6.77" height="12.92" fill="#FFEA86"/>
<rect x="667.99" y="432.38" width="13.54" height="12.92" fill="#B0E0E6"/>
<rect x="681.53" y="432.38" width="6.77" height="12.92" fill="#4682B4"/>
<rect x="688.30" y="432.38" width="6.77" height="12.92" fill="#B0E0E6"/>
<rect x="695.07" y="432.38" width="6.77" height="12.92" fill="#4682B4"/>
<rect x="701.84" y="432.38" width="6.77" height="12.92" fill="#B0E0E6"/>
<rect x="708.61" y="432.38" width="6.77" height="12.92" fill="#FFEA86"/>
<rect x="715.38" y="432.38" width="13.54" height="12.92" fill="#FFA500"/>
<rect x="728.92" y="432.38" width="6.77" height="12.92" fill="#FFEA86"/>
<rect x="735.69" y="432.38" width="6.77" height="12.92" fill="#FFA500"/>
<rect x="742.46" y="432.38" width="13.54" height="12.92" fill="#B0E0E6"/>
<path d="M559.67 251.50V445.30M566.44 251.50V445.30M573.21 251.50V445.30M579.98 251.50V445.30M586.75 251.50V445.30M593.52 251.50V445.30M600.29 251.50V445.30M607.06 251.50V445.30M613.83 251.50V445.30M620.60 251.50V445.30M627.37 251.50V445.30M634.14 251.50V445.30M640.91 251.50V445.30M647.68 251.50V445.30M654.45 251.50V445.30M661.22 251.50V445.30M667.99 251.50V445.30M674.76 251.50V445.30M681.53 251.50V445.30M688.30 251.50V445.30M695.07 251.50V445.30M701.84 251.50V445.30M708.61 251.50V445.30M715.38 251.50V445.30M722.15 251.50V445.30M728.92 251.50V445.30M735.69 251.50V445.30M742.46 251.50V445.30M749.23 251.50V445.30M756.00 251.50V445.30" stroke="#fff" stroke-opacity="0.2" stroke-width="0.7" fill="none"/>
<path d="M552.90 264.42H762.77M552.90 277.34H762.77M552.90 290.26H762.77M552.90 303.18H762.77M552.90 316.10H762.77M552.90 329.02H762.77M552.90 341.94H762.77M552.90 354.86H762.77M552.90 367.78H762.77M552.90 380.70H762.77M552.90 393.62H762.77M552.90 406.54H762.77M552.90 419.46H762.77M552.90 432.38H762.77" stroke="#fff" stroke-opacity="0.13" stroke-width="0.7" fill="none"/>
</g>
<text x="656.7" y="250.3" font-size="8.3" text-anchor="middle">09</text>
<path d="M583.37 445.3v5.3M617.21 445.3v5.3M651.06 445.3v5.3M684.91 445.3v5.3M718.76 445.3v5.3M752.62 445.3v5.3" stroke="#222" stroke-width="0.75" fill="none"/>
<text class="g" transform="translate(559.18 455.6) rotate(-90)" font-size="8.17" text-anchor="end">01</text>
<text class="g" transform="translate(565.95 455.6) rotate(-90)" font-size="8.17" text-anchor="end">02</text>
<text class="g" transform="translate(572.72 455.6) rotate(-90)" font-size="8.17" text-anchor="end">03</text>
<text class="g" transform="translate(579.50 455.6) rotate(-90)" font-size="8.17" text-anchor="end">04</text>
<text class="g" transform="translate(586.26 455.6) rotate(-90)" font-size="8.17" text-anchor="end">05</text>
<text class="g" transform="translate(593.03 455.6) rotate(-90)" font-size="8.17" text-anchor="end">06</text>
<text class="g" transform="translate(599.80 455.6) rotate(-90)" font-size="8.17" text-anchor="end">07</text>
<text class="g" transform="translate(606.57 455.6) rotate(-90)" font-size="8.17" text-anchor="end">08</text>
<text class="g" transform="translate(613.34 455.6) rotate(-90)" font-size="8.17" text-anchor="end">09</text>
<text class="g" transform="translate(620.11 455.6) rotate(-90)" font-size="8.17" text-anchor="end">10</text>
<text class="g" transform="translate(626.88 455.6) rotate(-90)" font-size="8.17" text-anchor="end">11</text>
<text class="g" transform="translate(633.65 455.6) rotate(-90)" font-size="8.17" text-anchor="end">12</text>
<text class="g" transform="translate(640.42 455.6) rotate(-90)" font-size="8.17" text-anchor="end">13</text>
<text class="g" transform="translate(647.19 455.6) rotate(-90)" font-size="8.17" text-anchor="end">14</text>
<text class="g" transform="translate(653.96 455.6) rotate(-90)" font-size="8.17" text-anchor="end">15</text>
<text class="g" transform="translate(660.73 455.6) rotate(-90)" font-size="8.17" text-anchor="end">16</text>
<text class="g" transform="translate(667.50 455.6) rotate(-90)" font-size="8.17" text-anchor="end">17</text>
<text class="g" transform="translate(674.27 455.6) rotate(-90)" font-size="8.17" text-anchor="end">18</text>
<text class="g" transform="translate(681.04 455.6) rotate(-90)" font-size="8.17" text-anchor="end">19</text>
<text class="g" transform="translate(687.81 455.6) rotate(-90)" font-size="8.17" text-anchor="end">20</text>
<text class="g" transform="translate(694.58 455.6) rotate(-90)" font-size="8.17" text-anchor="end">21</text>
<text class="g" transform="translate(701.35 455.6) rotate(-90)" font-size="8.17" text-anchor="end">22</text>
<text class="g" transform="translate(708.12 455.6) rotate(-90)" font-size="8.17" text-anchor="end">23</text>
<text class="g" transform="translate(714.89 455.6) rotate(-90)" font-size="8.17" text-anchor="end">24</text>
<text class="g" transform="translate(721.66 455.6) rotate(-90)" font-size="8.17" text-anchor="end">25</text>
<text class="g" transform="translate(728.43 455.6) rotate(-90)" font-size="8.17" text-anchor="end">26</text>
<text class="g" transform="translate(735.20 455.6) rotate(-90)" font-size="8.17" text-anchor="end">27</text>
<text class="g" transform="translate(741.97 455.6) rotate(-90)" font-size="8.17" text-anchor="end">28</text>
<text class="g" transform="translate(748.75 455.6) rotate(-90)" font-size="8.17" text-anchor="end">29</text>
<text class="g" transform="translate(755.51 455.6) rotate(-90)" font-size="8.17" text-anchor="end">30</text>
<text class="g" transform="translate(762.28 455.6) rotate(-90)" font-size="8.17" text-anchor="end">31</text>
<g>
<rect x="766.90" y="251.50" width="20.31" height="12.92" fill="#B0E0E6"/>
<rect x="787.21" y="251.50" width="13.54" height="12.92" fill="#FFA500"/>
<rect x="800.75" y="251.50" width="6.77" height="12.92" fill="#FFEA86"/>
<rect x="807.52" y="251.50" width="13.54" height="12.92" fill="#B0E0E6"/>
<rect x="821.06" y="251.50" width="13.54" height="12.92" fill="#4682B4"/>
<rect x="834.60" y="251.50" width="6.77" height="12.92" fill="#B0E0E6"/>
<rect x="841.37" y="251.50" width="13.54" height="12.92" fill="#4682B4"/>
<rect x="854.91" y="251.50" width="6.77" height="12.92" fill="#B0E0E6"/>
<rect x="861.68" y="251.50" width="20.31" height="12.92" fill="#4682B4"/>
<rect x="881.99" y="251.50" width="6.77" height="12.92" fill="#FFEA86"/>
<rect x="888.76" y="251.50" width="27.08" height="12.92" fill="#FFA500"/>
<rect x="915.84" y="251.50" width="6.77" height="12.92" fill="#B0E0E6"/>
<rect x="922.61" y="251.50" width="13.54" height="12.92" fill="#4682B4"/>
<rect x="936.15" y="251.50" width="27.08" height="12.92" fill="#B0E0E6"/>
<rect x="963.23" y="251.50" width="6.77" height="12.92" fill="#FFEA86"/>
<rect x="970.00" y="251.50" width="6.77" height="12.92" fill="#B0E0E6"/>
<rect x="766.90" y="264.42" width="20.31" height="12.92" fill="#B0E0E6"/>
<rect x="787.21" y="264.42" width="6.77" height="12.92" fill="#FFEA86"/>
<rect x="793.98" y="264.42" width="6.77" height="12.92" fill="#FFA500"/>
<rect x="800.75" y="264.42" width="6.77" height="12.92" fill="#B0E0E6"/>
<rect x="807.52" y="264.42" width="6.77" height="12.92" fill="#FFEA86"/>
<rect x="814.29" y="264.42" width="47.39" height="12.92" fill="#B0E0E6"/>
<rect x="861.68" y="264.42" width="6.77" height="12.92" fill="#4682B4"/>
<rect x="868.45" y="264.42" width="13.54" height="12.92" fill="#B0E0E6"/>
<rect x="881.99" y="264.42" width="20.31" height="12.92" fill="#FFEA86"/>
<rect x="902.30" y="264.42" width="13.54" height="12.92" fill="#FFA500"/>
<rect x="915.84" y="264.42" width="6.77" height="12.92" fill="#B0E0E6"/>
<rect x="922.61" y="264.42" width="6.77" height="12.92" fill="#4682B4"/>
<rect x="929.38" y="264.42" width="13.54" height="12.92" fill="#B0E0E6"/>
<rect x="942.92" y="264.42" width="13.54" height="12.92" fill="#FFEA86"/>
<rect x="956.46" y="264.42" width="6.77" height="12.92" fill="#B0E0E6"/>
<rect x="963.23" y="264.42" width="6.77" height="12.92" fill="#FFEA86"/>
<rect x="970.00" y="264.42" width="6.77" height="12.92" fill="#B0E0E6"/>
<rect x="766.90" y="277.34" width="20.31" height="12.92" fill="#B0E0E6"/>
<rect x="787.21" y="277.34" width="13.54" height="12.92" fill="#FFEA86"/>
<rect x="800.75" y="277.34" width="6.77" height="12.92" fill="#B0E0E6"/>
<rect x="807.52" y="277.34" width="6.77" height="12.92" fill="#FFEA86"/>
<rect x="814.29" y="277.34" width="6.77" height="12.92" fill="#B0E0E6"/>
<rect x="821.06" y="277.34" width="13.54" height="12.92" fill="#4682B4"/>
<rect x="834.60" y="277.34" width="13.54" height="12.92" fill="#B0E0E6"/>
<rect x="848.14" y="277.34" width="6.77" height="12.92" fill="#4682B4"/>
<rect x="854.91" y="277.34" width="6.77" height="12.92" fill="#B0E0E6"/>
<rect x="861.68" y="277.34" width="6.77" height="12.92" fill="#4682B4"/>
<rect x="868.45" y="277.34" width="6.77" height="12.92" fill="#FFEA86"/>
<rect x="875.22" y="277.34" width="20.31" height="12.92" fill="#B0E0E6"/>
<rect x="895.53" y="277.34" width="20.31" height="12.92" fill="#FFEA86"/>
<rect x="915.84" y="277.34" width="27.08" height="12.92" fill="#4682B4"/>
<rect x="942.92" y="277.34" width="20.31" height="12.92" fill="#B0E0E6"/>
<rect x="963.23" y="277.34" width="6.77" height="12.92" fill="#FFEA86"/>
<rect x="970.00" y="277.34" width="6.77" height="12.92" fill="#B0E0E6"/>
<rect x="766.90" y="290.26" width="13.54" height="12.92" fill="#B0E0E6"/>
<rect x="780.44" y="290.26" width="13.54" height="12.92" fill="#FFEA86"/>
<rect x="793.98" y="290.26" width="6.77" height="12.92" fill="#FFA500"/>
<rect x="800.75" y="290.26" width="20.31" height="12.92" fill="#B0E0E6"/>
<rect x="821.06" y="290.26" width="6.77" height="12.92" fill="#4682B4"/>
<rect x="827.83" y="290.26" width="13.54" height="12.92" fill="#B0E0E6"/>
<rect x="841.37" y="290.26" width="27.08" height="12.92" fill="#4682B4"/>
<rect x="868.45" y="290.26" width="20.31" height="12.92" fill="#B0E0E6"/>
<rect x="888.76" y="290.26" width="6.77" height="12.92" fill="#FFEA86"/>
<rect x="895.53" y="290.26" width="6.77" height="12.92" fill="#FFA500"/>
<rect x="902.30" y="290.26" width="6.77" height="12.92" fill="#FFEA86"/>
<rect x="909.07" y="290.26" width="13.54" height="12.92" fill="#B0E0E6"/>
<rect x="922.61" y="290.26" width="6.77" height="12.92" fill="#4682B4"/>
<rect x="929.38" y="290.26" width="13.54" height="12.92" fill="#B0E0E6"/>
<rect x="942.92" y="290.26" width="33.85" height="12.92" fill="#FFEA86"/>
<rect x="766.90" y="303.18" width="6.77" height="12.92" fill="#B0E0E6"/>
<rect x="773.67" y="303.18" width="27.08" height="12.92" fill="#FFEA86"/>
<rect x="800.75" y="303.18" width="13.54" height="12.92" fill="#B0E0E6"/>
<rect x="814.29" y="303.18" width="20.31" height="12.92" fill="#4682B4"/>
<rect x="834.60" y="303.18" width="6.77" height="12.92" fill="#B0E0E6"/>
<rect x="841.37" y="303.18" width="20.31" height="12.92" fill="#4682B4"/>
<rect x="861.68" y="303.18" width="20.31" height="12.92" fill="#B0E0E6"/>
<rect x="881.99" y="303.18" width="13.54" height="12.92" fill="#FFEA86"/>
<rect x="895.53" y="303.18" width="13.54" height="12.92" fill="#FFA500"/>
<rect x="909.07" y="303.18" width="6.77" height="12.92" fill="#FFEA86"/>
<rect x="915.84" y="303.18" width="6.77" height="12.92" fill="#B0E0E6"/>
<rect x="922.61" y="303.18" width="13.54" height="12.92" fill="#4682B4"/>
<rect x="936.15" y="303.18" width="6.77" height="12.92" fill="#FFEA86"/>
<rect x="942.92" y="303.18" width="13.54" height="12.92" fill="#B0E0E6"/>
<rect x="956.46" y="303.18" width="6.77" height="12.92" fill="#FFEA86"/>
<rect x="963.23" y="303.18" width="6.77" height="12.92" fill="#FFA500"/>
<rect x="970.00" y="303.18" width="6.77" height="12.92" fill="#FFEA86"/>
<rect x="766.90" y="316.10" width="13.54" height="12.92" fill="#FFEA86"/>
<rect x="780.44" y="316.10" width="13.54" height="12.92" fill="#FFA500"/>
<rect x="793.98" y="316.10" width="6.77" height="12.92" fill="#FFEA86"/>
<rect x="800.75" y="316.10" width="20.31" height="12.92" fill="#B0E0E6"/>
<rect x="821.06" y="316.10" width="6.77" height="12.92" fill="#4682B4"/>
<rect x="827.83" y="316.10" width="13.54" height="12.92" fill="#B0E0E6"/>
<rect x="841.37" y="316.10" width="20.31" height="12.92" fill="#4682B4"/>
<rect x="861.68" y="316.10" width="6.77" height="12.92" fill="#B0E0E6"/>
<rect x="868.45" y="316.10" width="6.77" height="12.92" fill="#FFEA86"/>
<rect x="881.99" y="316.10" width="6.77" height="12.92" fill="#B0E0E6"/>
<rect x="888.76" y="316.10" width="6.77" height="12.92" fill="#FFEA86"/>
<rect x="895.53" y="316.10" width="6.77" height="12.92" fill="#B22222"/>
<rect x="902.30" y="316.10" width="6.77" height="12.92" fill="#FFA500"/>
<rect x="909.07" y="316.10" width="6.77" height="12.92" fill="#4682B4"/>
<rect x="915.84" y="316.10" width="6.77" height="12.92" fill="#104E8B"/>
<rect x="922.61" y="316.10" width="6.77" height="12.92" fill="#FFEA86"/>
<rect x="929.38" y="316.10" width="47.39" height="12.92" fill="#FFA500"/>
<rect x="766.90" y="329.02" width="13.54" height="12.92" fill="#B0E0E6"/>
<rect x="780.44" y="329.02" width="13.54" height="12.92" fill="#FFEA86"/>
<rect x="793.98" y="329.02" width="6.77" height="12.92" fill="#FFA500"/>
<rect x="800.75" y="329.02" width="20.31" height="12.92" fill="#B0E0E6"/>
<rect x="821.06" y="329.02" width="13.54" height="12.92" fill="#4682B4"/>
<rect x="834.60" y="329.02" width="6.77" height="12.92" fill="#B0E0E6"/>
<rect x="841.37" y="329.02" width="13.54" height="12.92" fill="#4682B4"/>
<rect x="854.91" y="329.02" width="6.77" height="12.92" fill="#B0E0E6"/>
<rect x="861.68" y="329.02" width="6.77" height="12.92" fill="#4682B4"/>
<rect x="868.45" y="329.02" width="6.77" height="12.92" fill="#FFEA86"/>
<rect x="875.22" y="329.02" width="20.31" height="12.92" fill="#B0E0E6"/>
<rect x="895.53" y="329.02" width="6.77" height="12.92" fill="#FFEA86"/>
<rect x="902.30" y="329.02" width="6.77" height="12.92" fill="#FFA500"/>
<rect x="909.07" y="329.02" width="6.77" height="12.92" fill="#FFEA86"/>
<rect x="915.84" y="329.02" width="6.77" height="12.92" fill="#B0E0E6"/>
<rect x="922.61" y="329.02" width="13.54" height="12.92" fill="#4682B4"/>
<rect x="936.15" y="329.02" width="27.08" height="12.92" fill="#B0E0E6"/>
<rect x="963.23" y="329.02" width="6.77" height="12.92" fill="#FFEA86"/>
<rect x="970.00" y="329.02" width="6.77" height="12.92" fill="#B0E0E6"/>
<rect x="766.90" y="341.94" width="20.31" height="12.92" fill="#B0E0E6"/>
<rect x="787.21" y="341.94" width="6.77" height="12.92" fill="#FFA500"/>
<rect x="793.98" y="341.94" width="6.77" height="12.92" fill="#FFEA86"/>
<rect x="800.75" y="341.94" width="40.62" height="12.92" fill="#B0E0E6"/>
<rect x="841.37" y="341.94" width="20.31" height="12.92" fill="#4682B4"/>
<rect x="861.68" y="341.94" width="13.54" height="12.92" fill="#B0E0E6"/>
<rect x="875.22" y="341.94" width="6.77" height="12.92" fill="#FFEA86"/>
<rect x="881.99" y="341.94" width="6.77" height="12.92" fill="#B0E0E6"/>
<rect x="888.76" y="341.94" width="13.54" height="12.92" fill="#FFA500"/>
<rect x="902.30" y="341.94" width="6.77" height="12.92" fill="#FFEA86"/>
<rect x="909.07" y="341.94" width="6.77" height="12.92" fill="#B0E0E6"/>
<rect x="915.84" y="341.94" width="6.77" height="12.92" fill="#4682B4"/>
<rect x="922.61" y="341.94" width="20.31" height="12.92" fill="#FFEA86"/>
<rect x="942.92" y="341.94" width="20.31" height="12.92" fill="#FFA500"/>
<rect x="963.23" y="341.94" width="13.54" height="12.92" fill="#FFEA86"/>
<rect x="766.90" y="354.86" width="13.54" height="12.92" fill="#B0E0E6"/>
<rect x="780.44" y="354.86" width="13.54" height="12.92" fill="#FFEA86"/>
<rect x="793.98" y="354.86" width="6.77" height="12.92" fill="#FFA500"/>
<rect x="800.75" y="354.86" width="6.77" height="12.92" fill="#B0E0E6"/>
<rect x="807.52" y="354.86" width="6.77" height="12.92" fill="#FFEA86"/>
<rect x="814.29" y="354.86" width="6.77" height="12.92" fill="#B0E0E6"/>
<rect x="821.06" y="354.86" width="47.39" height="12.92" fill="#4682B4"/>
<rect x="868.45" y="354.86" width="6.77" height="12.92" fill="#B0E0E6"/>
<rect x="875.22" y="354.86" width="6.77" height="12.92" fill="#4682B4"/>
<rect x="881.99" y="354.86" width="13.54" height="12.92" fill="#B0E0E6"/>
<rect x="895.53" y="354.86" width="20.31" height="12.92" fill="#FFEA86"/>
<rect x="915.84" y="354.86" width="6.77" height="12.92" fill="#B0E0E6"/>
<rect x="922.61" y="354.86" width="20.31" height="12.92" fill="#4682B4"/>
<rect x="942.92" y="354.86" width="6.77" height="12.92" fill="#FFEA86"/>
<rect x="949.69" y="354.86" width="13.54" height="12.92" fill="#B0E0E6"/>
<rect x="963.23" y="354.86" width="13.54" height="12.92" fill="#FFEA86"/>
<rect x="766.90" y="367.78" width="13.54" height="12.92" fill="#B0E0E6"/>
<rect x="780.44" y="367.78" width="13.54" height="12.92" fill="#FFEA86"/>
<rect x="793.98" y="367.78" width="6.77" height="12.92" fill="#FFA500"/>
<rect x="800.75" y="367.78" width="6.77" height="12.92" fill="#FFEA86"/>
<rect x="807.52" y="367.78" width="13.54" height="12.92" fill="#B0E0E6"/>
<rect x="821.06" y="367.78" width="13.54" height="12.92" fill="#4682B4"/>
<rect x="834.60" y="367.78" width="6.77" height="12.92" fill="#B0E0E6"/>
<rect x="841.37" y="367.78" width="27.08" height="12.92" fill="#4682B4"/>
<rect x="868.45" y="367.78" width="6.77" height="12.92" fill="#B0E0E6"/>
<rect x="875.22" y="367.78" width="6.77" height="12.92" fill="#4682B4"/>
<rect x="881.99" y="367.78" width="13.54" height="12.92" fill="#B0E0E6"/>
<rect x="895.53" y="367.78" width="13.54" height="12.92" fill="#FFA500"/>
<rect x="909.07" y="367.78" width="6.77" height="12.92" fill="#FFEA86"/>
<rect x="915.84" y="367.78" width="6.77" height="12.92" fill="#B0E0E6"/>
<rect x="922.61" y="367.78" width="13.54" height="12.92" fill="#4682B4"/>
<rect x="936.15" y="367.78" width="20.31" height="12.92" fill="#B0E0E6"/>
<rect x="956.46" y="367.78" width="6.77" height="12.92" fill="#FFEA86"/>
<rect x="963.23" y="367.78" width="6.77" height="12.92" fill="#FFA500"/>
<rect x="970.00" y="367.78" width="6.77" height="12.92" fill="#FFEA86"/>
<rect x="766.90" y="380.70" width="6.77" height="12.92" fill="#B0E0E6"/>
<rect x="773.67" y="380.70" width="6.77" height="12.92" fill="#FFEA86"/>
<rect x="780.44" y="380.70" width="6.77" height="12.92" fill="#FFA500"/>
<rect x="787.21" y="380.70" width="6.77" height="12.92" fill="#FFEA86"/>
<rect x="793.98" y="380.70" width="6.77" height="12.92" fill="#FFA500"/>
<rect x="800.75" y="380.70" width="13.54" height="12.92" fill="#FFEA86"/>
<rect x="814.29" y="380.70" width="6.77" height="12.92" fill="#B0E0E6"/>
<rect x="821.06" y="380.70" width="40.62" height="12.92" fill="#4682B4"/>
<rect x="861.68" y="380.70" width="6.77" height="12.92" fill="#B0E0E6"/>
<rect x="868.45" y="380.70" width="13.54" height="12.92" fill="#4682B4"/>
<rect x="881.99" y="380.70" width="13.54" height="12.92" fill="#FFEA86"/>
<rect x="895.53" y="380.70" width="13.54" height="12.92" fill="#FFA500"/>
<rect x="909.07" y="380.70" width="6.77" height="12.92" fill="#FFEA86"/>
<rect x="915.84" y="380.70" width="6.77" height="12.92" fill="#B0E0E6"/>
<rect x="922.61" y="380.70" width="6.77" height="12.92" fill="#4682B4"/>
<rect x="929.38" y="380.70" width="27.08" height="12.92" fill="#B0E0E6"/>
<rect x="956.46" y="380.70" width="6.77" height="12.92" fill="#FFEA86"/>
<rect x="963.23" y="380.70" width="13.54" height="12.92" fill="#FFA500"/>
<rect x="766.90" y="393.62" width="13.54" height="12.92" fill="#B0E0E6"/>
<rect x="780.44" y="393.62" width="20.31" height="12.92" fill="#FFA500"/>
<rect x="800.75" y="393.62" width="20.31" height="12.92" fill="#B0E0E6"/>
<rect x="821.06" y="393.62" width="6.77" height="12.92" fill="#4682B4"/>
<rect x="827.83" y="393.62" width="13.54" height="12.92" fill="#B0E0E6"/>
<rect x="841.37" y="393.62" width="6.77" height="12.92" fill="#4682B4"/>
<rect x="848.14" y="393.62" width="6.77" height="12.92" fill="#B0E0E6"/>
<rect x="854.91" y="393.62" width="13.54" height="12.92" fill="#4682B4"/>
<rect x="868.45" y="393.62" width="6.77" height="12.92" fill="#B0E0E6"/>
<rect x="875.22" y="393.62" width="6.77" height="12.92" fill="#4682B4"/>
<rect x="881.99" y="393.62" width="13.54" height="12.92" fill="#B0E0E6"/>
<rect x="895.53" y="393.62" width="13.54" height="12.92" fill="#FFA500"/>
<rect x="909.07" y="393.62" width="6.77" height="12.92" fill="#FFEA86"/>
<rect x="915.84" y="393.62" width="6.77" height="12.92" fill="#B0E0E6"/>
<rect x="922.61" y="393.62" width="6.77" height="12.92" fill="#4682B4"/>
<rect x="929.38" y="393.62" width="33.85" height="12.92" fill="#B0E0E6"/>
<rect x="963.23" y="393.62" width="13.54" height="12.92" fill="#FFA500"/>
<rect x="766.90" y="406.54" width="6.77" height="12.92" fill="#B0E0E6"/>
<rect x="773.67" y="406.54" width="6.77" height="12.92" fill="#FFEA86"/>
<rect x="780.44" y="406.54" width="20.31" height="12.92" fill="#FFA500"/>
<rect x="800.75" y="406.54" width="6.77" height="12.92" fill="#B0E0E6"/>
<rect x="807.52" y="406.54" width="6.77" height="12.92" fill="#FFEA86"/>
<rect x="814.29" y="406.54" width="6.77" height="12.92" fill="#B0E0E6"/>
<rect x="821.06" y="406.54" width="13.54" height="12.92" fill="#4682B4"/>
<rect x="834.60" y="406.54" width="6.77" height="12.92" fill="#B0E0E6"/>
<rect x="841.37" y="406.54" width="20.31" height="12.92" fill="#4682B4"/>
<rect x="861.68" y="406.54" width="13.54" height="12.92" fill="#B0E0E6"/>
<rect x="875.22" y="406.54" width="6.77" height="12.92" fill="#4682B4"/>
<rect x="881.99" y="406.54" width="6.77" height="12.92" fill="#B0E0E6"/>
<rect x="888.76" y="406.54" width="6.77" height="12.92" fill="#FFEA86"/>
<rect x="895.53" y="406.54" width="13.54" height="12.92" fill="#FFA500"/>
<rect x="909.07" y="406.54" width="6.77" height="12.92" fill="#FFEA86"/>
<rect x="915.84" y="406.54" width="6.77" height="12.92" fill="#4682B4"/>
<rect x="922.61" y="406.54" width="6.77" height="12.92" fill="#B0E0E6"/>
<rect x="929.38" y="406.54" width="6.77" height="12.92" fill="#FFEA86"/>
<rect x="936.15" y="406.54" width="13.54" height="12.92" fill="#B0E0E6"/>
<rect x="949.69" y="406.54" width="6.77" height="12.92" fill="#FFEA86"/>
<rect x="956.46" y="406.54" width="20.31" height="12.92" fill="#FFA500"/>
<rect x="766.90" y="419.46" width="13.54" height="12.92" fill="#B0E0E6"/>
<rect x="780.44" y="419.46" width="6.77" height="12.92" fill="#FFEA86"/>
<rect x="787.21" y="419.46" width="13.54" height="12.92" fill="#FFA500"/>
<rect x="800.75" y="419.46" width="6.77" height="12.92" fill="#B0E0E6"/>
<rect x="807.52" y="419.46" width="6.77" height="12.92" fill="#FFEA86"/>
<rect x="814.29" y="419.46" width="67.70" height="12.92" fill="#B0E0E6"/>
<rect x="881.99" y="419.46" width="6.77" height="12.92" fill="#FFEA86"/>
<rect x="888.76" y="419.46" width="6.77" height="12.92" fill="#B0E0E6"/>
<rect x="895.53" y="419.46" width="20.31" height="12.92" fill="#FFA500"/>
<rect x="915.84" y="419.46" width="6.77" height="12.92" fill="#B0E0E6"/>
<rect x="922.61" y="419.46" width="6.77" height="12.92" fill="#4682B4"/>
<rect x="929.38" y="419.46" width="40.62" height="12.92" fill="#B0E0E6"/>
<rect x="970.00" y="419.46" width="6.77" height="12.92" fill="#FFEA86"/>
<rect x="766.90" y="432.38" width="13.54" height="12.92" fill="#B0E0E6"/>
<rect x="780.44" y="432.38" width="6.77" height="12.92" fill="#FFEA86"/>
<rect x="787.21" y="432.38" width="13.54" height="12.92" fill="#FFA500"/>
<rect x="800.75" y="432.38" width="47.39" height="12.92" fill="#B0E0E6"/>
<rect x="848.14" y="432.38" width="6.77" height="12.92" fill="#4682B4"/>
<rect x="854.91" y="432.38" width="13.54" height="12.92" fill="#B0E0E6"/>
<rect x="868.45" y="432.38" width="6.77" height="12.92" fill="#FFEA86"/>
<rect x="875.22" y="432.38" width="6.77" height="12.92" fill="#B0E0E6"/>
<rect x="881.99" y="432.38" width="13.54" height="12.92" fill="#FFEA86"/>
<rect x="895.53" y="432.38" width="13.54" height="12.92" fill="#FFA500"/>
<rect x="909.07" y="432.38" width="6.77" height="12.92" fill="#FFEA86"/>
<rect x="915.84" y="432.38" width="27.08" height="12.92" fill="#B0E0E6"/>
<rect x="942.92" y="432.38" width="13.54" height="12.92" fill="#FFEA86"/>
<rect x="956.46" y="432.38" width="6.77" height="12.92" fill="#B0E0E6"/>
<rect x="963.23" y="432.38" width="13.54" height="12.92" fill="#FFEA86"/>
<path d="M773.67 251.50V445.30M780.44 251.50V445.30M787.21 251.50V445.30M793.98 251.50V445.30M800.75 251.50V445.30M807.52 251.50V445.30M814.29 251.50V445.30M821.06 251.50V445.30M827.83 251.50V445.30M834.60 251.50V445.30M841.37 251.50V445.30M848.14 251.50V445.30M854.91 251.50V445.30M861.68 251.50V445.30M868.45 251.50V445.30M875.22 251.50V445.30M881.99 251.50V445.30M888.76 251.50V445.30M895.53 251.50V445.30M902.30 251.50V445.30M909.07 251.50V445.30M915.84 251.50V445.30M922.61 251.50V445.30M929.38 251.50V445.30M936.15 251.50V445.30M942.92 251.50V445.30M949.69 251.50V445.30M956.46 251.50V445.30M963.23 251.50V445.30M970.00 251.50V445.30" stroke="#fff" stroke-opacity="0.2" stroke-width="0.7" fill="none"/>
<path d="M766.90 264.42H976.77M766.90 277.34H976.77M766.90 290.26H976.77M766.90 303.18H976.77M766.90 316.10H976.77M766.90 329.02H976.77M766.90 341.94H976.77M766.90 354.86H976.77M766.90 367.78H976.77M766.90 380.70H976.77M766.90 393.62H976.77M766.90 406.54H976.77M766.90 419.46H976.77M766.90 432.38H976.77" stroke="#fff" stroke-opacity="0.13" stroke-width="0.7" fill="none"/>
</g>
<text x="870.7" y="250.3" font-size="8.3" text-anchor="middle">10</text>
<path d="M797.37 445.3v5.3M831.21 445.3v5.3M865.06 445.3v5.3M898.91 445.3v5.3M932.76 445.3v5.3M966.62 445.3v5.3" stroke="#222" stroke-width="0.75" fill="none"/>
<g>
<rect x="980.90" y="251.50" width="13.54" height="12.92" fill="#B0E0E6"/>
<rect x="994.44" y="251.50" width="6.77" height="12.92" fill="#FFEA86"/>
<rect x="1001.21" y="251.50" width="13.54" height="12.92" fill="#FFA500"/>
<rect x="1014.75" y="251.50" width="13.54" height="12.92" fill="#B0E0E6"/>
<rect x="1028.29" y="251.50" width="13.54" height="12.92" fill="#FFEA86"/>
<rect x="1041.83" y="251.50" width="20.31" height="12.92" fill="#B0E0E6"/>
<rect x="1062.14" y="251.50" width="13.54" height="12.92" fill="#FFEA86"/>
<rect x="1075.68" y="251.50" width="20.31" height="12.92" fill="#B0E0E6"/>
<rect x="1095.99" y="251.50" width="13.54" height="12.92" fill="#FFEA86"/>
<rect x="1109.53" y="251.50" width="20.31" height="12.92" fill="#FFA500"/>
<rect x="1129.84" y="251.50" width="6.77" height="12.92" fill="#FFEA86"/>
<rect x="1136.61" y="251.50" width="6.77" height="12.92" fill="#B0E0E6"/>
<rect x="1143.38" y="251.50" width="6.77" height="12.92" fill="#FFEA86"/>
<rect x="1150.15" y="251.50" width="6.77" height="12.92" fill="#FFA500"/>
<rect x="1156.92" y="251.50" width="6.77" height="12.92" fill="#FFEA86"/>
<rect x="1163.69" y="251.50" width="6.77" height="12.92" fill="#FFA500"/>
<rect x="1170.46" y="251.50" width="13.54" height="12.92" fill="#FFEA86"/>
<rect x="980.90" y="264.42" width="6.77" height="12.92" fill="#B0E0E6"/>
<rect x="987.67" y="264.42" width="13.54" height="12.92" fill="#FFEA86"/>
<rect x="1001.21" y="264.42" width="13.54" height="12.92" fill="#FFA500"/>
<rect x="1014.75" y="264.42" width="13.54" height="12.92" fill="#B0E0E6"/>
<rect x="1028.29" y="264.42" width="13.54" height="12.92" fill="#FFEA86"/>
<rect x="1041.83" y="264.42" width="6.77" height="12.92" fill="#B0E0E6"/>
<rect x="1048.60" y="264.42" width="20.31" height="12.92" fill="#FFEA86"/>
<rect x="1068.91" y="264.42" width="6.77" height="12.92" fill="#FFA500"/>
<rect x="1075.68" y="264.42" width="6.77" height="12.92" fill="#FFEA86"/>
<rect x="1082.45" y="264.42" width="13.54" height="12.92" fill="#B0E0E6"/>
<rect x="1095.99" y="264.42" width="27.08" height="12.92" fill="#FFEA86"/>
<rect x="1123.07" y="264.42" width="6.77" height="12.92" fill="#FFA500"/>
<rect x="1129.84" y="264.42" width="6.77" height="12.92" fill="#FFEA86"/>
<rect x="1136.61" y="264.42" width="13.54" height="12.92" fill="#B0E0E6"/>
<rect x="1150.15" y="264.42" width="6.77" height="12.92" fill="#FFEA86"/>
<rect x="1156.92" y="264.42" width="6.77" height="12.92" fill="#B0E0E6"/>
<rect x="1163.69" y="264.42" width="6.77" height="12.92" fill="#FFA500"/>
<rect x="1170.46" y="264.42" width="6.77" height="12.92" fill="#FFEA86"/>
<rect x="1177.23" y="264.42" width="6.77" height="12.92" fill="#B0E0E6"/>
<rect x="980.90" y="277.34" width="20.31" height="12.92" fill="#FFEA86"/>
<rect x="1001.21" y="277.34" width="6.77" height="12.92" fill="#FFA500"/>
<rect x="1007.98" y="277.34" width="6.77" height="12.92" fill="#FFEA86"/>
<rect x="1014.75" y="277.34" width="33.85" height="12.92" fill="#B0E0E6"/>
<rect x="1048.60" y="277.34" width="6.77" height="12.92" fill="#FFEA86"/>
<rect x="1055.37" y="277.34" width="6.77" height="12.92" fill="#B0E0E6"/>
<rect x="1062.14" y="277.34" width="13.54" height="12.92" fill="#FFEA86"/>
<rect x="1075.68" y="277.34" width="20.31" height="12.92" fill="#B0E0E6"/>
<rect x="1095.99" y="277.34" width="6.77" height="12.92" fill="#FFEA86"/>
<rect x="1102.76" y="277.34" width="6.77" height="12.92" fill="#FFA500"/>
<rect x="1109.53" y="277.34" width="13.54" height="12.92" fill="#FFEA86"/>
<rect x="1123.07" y="277.34" width="6.77" height="12.92" fill="#FFA500"/>
<rect x="1129.84" y="277.34" width="6.77" height="12.92" fill="#FFEA86"/>
<rect x="1136.61" y="277.34" width="6.77" height="12.92" fill="#4682B4"/>
<rect x="1143.38" y="277.34" width="6.77" height="12.92" fill="#B0E0E6"/>
<rect x="1150.15" y="277.34" width="13.54" height="12.92" fill="#FFEA86"/>
<rect x="1163.69" y="277.34" width="6.77" height="12.92" fill="#FFA500"/>
<rect x="1170.46" y="277.34" width="6.77" height="12.92" fill="#B0E0E6"/>
<rect x="1177.23" y="277.34" width="6.77" height="12.92" fill="#FFEA86"/>
<rect x="980.90" y="290.26" width="20.31" height="12.92" fill="#FFEA86"/>
<rect x="1001.21" y="290.26" width="6.77" height="12.92" fill="#FFA500"/>
<rect x="1007.98" y="290.26" width="13.54" height="12.92" fill="#B0E0E6"/>
<rect x="1021.52" y="290.26" width="6.77" height="12.92" fill="#FFEA86"/>
<rect x="1028.29" y="290.26" width="6.77" height="12.92" fill="#B0E0E6"/>
<rect x="1035.06" y="290.26" width="27.08" height="12.92" fill="#FFEA86"/>
<rect x="1062.14" y="290.26" width="13.54" height="12.92" fill="#FFA500"/>
<rect x="1075.68" y="290.26" width="27.08" height="12.92" fill="#FFEA86"/>
<rect x="1102.76" y="290.26" width="20.31" height="12.92" fill="#FFA500"/>
<rect x="1123.07" y="290.26" width="6.77" height="12.92" fill="#FFEA86"/>
<rect x="1129.84" y="290.26" width="20.31" height="12.92" fill="#B0E0E6"/>
<rect x="1150.15" y="290.26" width="6.77" height="12.92" fill="#FFEA86"/>
<rect x="1156.92" y="290.26" width="6.77" height="12.92" fill="#B0E0E6"/>
<rect x="1163.69" y="290.26" width="6.77" height="12.92" fill="#FFEA86"/>
<rect x="1170.46" y="290.26" width="13.54" height="12.92" fill="#B0E0E6"/>
<rect x="980.90" y="303.18" width="20.31" height="12.92" fill="#FFEA86"/>
<rect x="1001.21" y="303.18" width="6.77" height="12.92" fill="#FFA500"/>
<rect x="1007.98" y="303.18" width="6.77" height="12.92" fill="#FFEA86"/>
<rect x="1014.75" y="303.18" width="6.77" height="12.92" fill="#B0E0E6"/>
<rect x="1021.52" y="303.18" width="13.54" height="12.92" fill="#FFEA86"/>
<rect x="1035.06" y="303.18" width="6.77" height="12.92" fill="#B0E0E6"/>
<rect x="1041.83" y="303.18" width="6.77" height="12.92" fill="#FFEA86"/>
<rect x="1048.60" y="303.18" width="13.54" height="12.92" fill="#B0E0E6"/>
<rect x="1062.14" y="303.18" width="13.54" height="12.92" fill="#FFEA86"/>
<rect x="1075.68" y="303.18" width="6.77" height="12.92" fill="#B0E0E6"/>
<rect x="1082.45" y="303.18" width="6.77" height="12.92" fill="#4682B4"/>
<rect x="1089.22" y="303.18" width="6.77" height="12.92" fill="#FFEA86"/>
<rect x="1095.99" y="303.18" width="33.85" height="12.92" fill="#FFA500"/>
<rect x="1129.84" y="303.18" width="6.77" height="12.92" fill="#B0E0E6"/>
<rect x="1136.61" y="303.18" width="6.77" height="12.92" fill="#4682B4"/>
<rect x="1143.38" y="303.18" width="27.08" height="12.92" fill="#FFEA86"/>
<rect x="1170.46" y="303.18" width="6.77" height="12.92" fill="#B0E0E6"/>
<rect x="1177.23" y="303.18" width="6.77" height="12.92" fill="#FFEA86"/>
<rect x="980.90" y="316.10" width="6.77" height="12.92" fill="#FFA500"/>
<rect x="987.67" y="316.10" width="6.77" height="12.92" fill="#B0E0E6"/>
<rect x="994.44" y="316.10" width="33.85" height="12.92" fill="#FFEA86"/>
<rect x="1028.29" y="316.10" width="6.77" height="12.92" fill="#B0E0E6"/>
<rect x="1035.06" y="316.10" width="6.77" height="12.92" fill="#FFEA86"/>
<rect x="1041.83" y="316.10" width="20.31" height="12.92" fill="#B22222"/>
<rect x="1062.14" y="316.10" width="33.85" height="12.92" fill="#FFA500"/>
<rect x="1095.99" y="316.10" width="6.77" height="12.92" fill="#FFEA86"/>
<rect x="1102.76" y="316.10" width="20.31" height="12.92" fill="#FFA500"/>
<rect x="1123.07" y="316.10" width="13.54" height="12.92" fill="#B0E0E6"/>
<rect x="1136.61" y="316.10" width="6.77" height="12.92" fill="#FFEA86"/>
<rect x="1143.38" y="316.10" width="6.77" height="12.92" fill="#FFA500"/>
<rect x="1150.15" y="316.10" width="6.77" height="12.92" fill="#FFEA86"/>
<rect x="1156.92" y="316.10" width="6.77" height="12.92" fill="#B0E0E6"/>
<rect x="1163.69" y="316.10" width="6.77" height="12.92" fill="#FFEA86"/>
<rect x="1170.46" y="316.10" width="13.54" height="12.92" fill="#4682B4"/>
<rect x="980.90" y="329.02" width="20.31" height="12.92" fill="#FFEA86"/>
<rect x="1001.21" y="329.02" width="6.77" height="12.92" fill="#FFA500"/>
<rect x="1007.98" y="329.02" width="6.77" height="12.92" fill="#FFEA86"/>
<rect x="1014.75" y="329.02" width="33.85" height="12.92" fill="#B0E0E6"/>
<rect x="1048.60" y="329.02" width="13.54" height="12.92" fill="#FFEA86"/>
<rect x="1062.14" y="329.02" width="6.77" height="12.92" fill="#B0E0E6"/>
<rect x="1068.91" y="329.02" width="13.54" height="12.92" fill="#FFEA86"/>
<rect x="1082.45" y="329.02" width="6.77" height="12.92" fill="#B0E0E6"/>
<rect x="1089.22" y="329.02" width="13.54" height="12.92" fill="#FFEA86"/>
<rect x="1102.76" y="329.02" width="27.08" height="12.92" fill="#FFA500"/>
<rect x="1129.84" y="329.02" width="6.77" height="12.92" fill="#FFEA86"/>
<rect x="1136.61" y="329.02" width="13.54" height="12.92" fill="#B0E0E6"/>
<rect x="1150.15" y="329.02" width="6.77" height="12.92" fill="#FFEA86"/>
<rect x="1156.92" y="329.02" width="6.77" height="12.92" fill="#B0E0E6"/>
<rect x="1163.69" y="329.02" width="6.77" height="12.92" fill="#FFA500"/>
<rect x="1170.46" y="329.02" width="6.77" height="12.92" fill="#B0E0E6"/>
<rect x="1177.23" y="329.02" width="6.77" height="12.92" fill="#FFEA86"/>
<rect x="980.90" y="341.94" width="20.31" height="12.92" fill="#B0E0E6"/>
<rect x="1001.21" y="341.94" width="6.77" height="12.92" fill="#FFEA86"/>
<rect x="1007.98" y="341.94" width="6.77" height="12.92" fill="#B0E0E6"/>
<rect x="1014.75" y="341.94" width="13.54" height="12.92" fill="#FFEA86"/>
<rect x="1028.29" y="341.94" width="13.54" height="12.92" fill="#B0E0E6"/>
<rect x="1041.83" y="341.94" width="6.77" height="12.92" fill="#FFA500"/>
<rect x="1048.60" y="341.94" width="13.54" height="12.92" fill="#B22222"/>
<rect x="1062.14" y="341.94" width="33.85" height="12.92" fill="#FFA500"/>
<rect x="1095.99" y="341.94" width="6.77" height="12.92" fill="#B0E0E6"/>
<rect x="1102.76" y="341.94" width="20.31" height="12.92" fill="#FFA500"/>
<rect x="1123.07" y="341.94" width="6.77" height="12.92" fill="#FFEA86"/>
<rect x="1129.84" y="341.94" width="6.77" height="12.92" fill="#B0E0E6"/>
<rect x="1136.61" y="341.94" width="6.77" height="12.92" fill="#FFEA86"/>
<rect x="1143.38" y="341.94" width="6.77" height="12.92" fill="#B0E0E6"/>
<rect x="1150.15" y="341.94" width="6.77" height="12.92" fill="#FFEA86"/>
<rect x="1156.92" y="341.94" width="6.77" height="12.92" fill="#B0E0E6"/>
<rect x="1163.69" y="341.94" width="6.77" height="12.92" fill="#FFEA86"/>
<rect x="1170.46" y="341.94" width="13.54" height="12.92" fill="#4682B4"/>
<rect x="980.90" y="354.86" width="20.31" height="12.92" fill="#FFEA86"/>
<rect x="1001.21" y="354.86" width="6.77" height="12.92" fill="#FFA500"/>
<rect x="1007.98" y="354.86" width="40.62" height="12.92" fill="#B0E0E6"/>
<rect x="1048.60" y="354.86" width="6.77" height="12.92" fill="#FFEA86"/>
<rect x="1055.37" y="354.86" width="6.77" height="12.92" fill="#B0E0E6"/>
<rect x="1062.14" y="354.86" width="13.54" height="12.92" fill="#FFEA86"/>
<rect x="1075.68" y="354.86" width="13.54" height="12.92" fill="#B0E0E6"/>
<rect x="1089.22" y="354.86" width="13.54" height="12.92" fill="#FFEA86"/>
<rect x="1102.76" y="354.86" width="27.08" height="12.92" fill="#FFA500"/>
<rect x="1136.61" y="354.86" width="6.77" height="12.92" fill="#4682B4"/>
<rect x="1143.38" y="354.86" width="6.77" height="12.92" fill="#B0E0E6"/>
<rect x="1150.15" y="354.86" width="6.77" height="12.92" fill="#FFEA86"/>
<rect x="1156.92" y="354.86" width="6.77" height="12.92" fill="#B0E0E6"/>
<rect x="1163.69" y="354.86" width="20.31" height="12.92" fill="#FFEA86"/>
<rect x="980.90" y="367.78" width="20.31" height="12.92" fill="#FFEA86"/>
<rect x="1001.21" y="367.78" width="6.77" height="12.92" fill="#FFA500"/>
<rect x="1007.98" y="367.78" width="6.77" height="12.92" fill="#B0E0E6"/>
<rect x="1014.75" y="367.78" width="6.77" height="12.92" fill="#4682B4"/>
<rect x="1021.52" y="367.78" width="40.62" height="12.92" fill="#B0E0E6"/>
<rect x="1062.14" y="367.78" width="6.77" height="12.92" fill="#FFA500"/>
<rect x="1068.91" y="367.78" width="6.77" height="12.92" fill="#B0E0E6"/>
<rect x="1075.68" y="367.78" width="6.77" height="12.92" fill="#FFEA86"/>
<rect x="1082.45" y="367.78" width="13.54" height="12.92" fill="#B0E0E6"/>
<rect x="1095.99" y="367.78" width="20.31" height="12.92" fill="#FFA500"/>
<rect x="1116.30" y="367.78" width="6.77" height="12.92" fill="#FFEA86"/>
<rect x="1123.07" y="367.78" width="6.77" height="12.92" fill="#FFA500"/>
<rect x="1129.84" y="367.78" width="6.77" height="12.92" fill="#B0E0E6"/>
<rect x="1136.61" y="367.78" width="6.77" height="12.92" fill="#4682B4"/>
<rect x="1143.38" y="367.78" width="6.77" height="12.92" fill="#B0E0E6"/>
<rect x="1150.15" y="367.78" width="13.54" height="12.92" fill="#FFEA86"/>
<rect x="1163.69" y="367.78" width="6.77" height="12.92" fill="#FFA500"/>
<rect x="1170.46" y="367.78" width="13.54" height="12.92" fill="#FFEA86"/>
<rect x="980.90" y="380.70" width="6.77" height="12.92" fill="#FFA500"/>
<rect x="987.67" y="380.70" width="6.77" height="12.92" fill="#FFEA86"/>
<rect x="994.44" y="380.70" width="13.54" height="12.92" fill="#FFA500"/>
<rect x="1007.98" y="380.70" width="6.77" height="12.92" fill="#FFEA86"/>
<rect x="1014.75" y="380.70" width="6.77" height="12.92" fill="#B0E0E6"/>
<rect x="1021.52" y="380.70" width="6.77" height="12.92" fill="#FFEA86"/>
<rect x="1028.29" y="380.70" width="13.54" height="12.92" fill="#B0E0E6"/>
<rect x="1041.83" y="380.70" width="40.62" height="12.92" fill="#FFEA86"/>
<rect x="1082.45" y="380.70" width="6.77" height="12.92" fill="#B0E0E6"/>
<rect x="1089.22" y="380.70" width="13.54" height="12.92" fill="#FFEA86"/>
<rect x="1102.76" y="380.70" width="20.31" height="12.92" fill="#FFA500"/>
<rect x="1123.07" y="380.70" width="13.54" height="12.92" fill="#FFEA86"/>
<rect x="1136.61" y="380.70" width="6.77" height="12.92" fill="#B0E0E6"/>
<rect x="1143.38" y="380.70" width="13.54" height="12.92" fill="#FFEA86"/>
<rect x="1156.92" y="380.70" width="6.77" height="12.92" fill="#B0E0E6"/>
<rect x="1163.69" y="380.70" width="6.77" height="12.92" fill="#FFEA86"/>
<rect x="1170.46" y="380.70" width="13.54" height="12.92" fill="#B0E0E6"/>
<rect x="980.90" y="393.62" width="6.77" height="12.92" fill="#FFA500"/>
<rect x="987.67" y="393.62" width="6.77" height="12.92" fill="#B0E0E6"/>
<rect x="994.44" y="393.62" width="13.54" height="12.92" fill="#FFEA86"/>
<rect x="1007.98" y="393.62" width="13.54" height="12.92" fill="#B0E0E6"/>
<rect x="1021.52" y="393.62" width="6.77" height="12.92" fill="#FFEA86"/>
<rect x="1028.29" y="393.62" width="13.54" height="12.92" fill="#B0E0E6"/>
<rect x="1041.83" y="393.62" width="13.54" height="12.92" fill="#FFEA86"/>
<rect x="1055.37" y="393.62" width="20.31" height="12.92" fill="#B0E0E6"/>
<rect x="1075.68" y="393.62" width="20.31" height="12.92" fill="#FFEA86"/>
<rect x="1095.99" y="393.62" width="20.31" height="12.92" fill="#FFA500"/>
<rect x="1116.30" y="393.62" width="13.54" height="12.92" fill="#FFEA86"/>
<rect x="1129.84" y="393.62" width="6.77" height="12.92" fill="#B0E0E6"/>
<rect x="1136.61" y="393.62" width="6.77" height="12.92" fill="#4682B4"/>
<rect x="1143.38" y="393.62" width="20.31" height="12.92" fill="#B0E0E6"/>
<rect x="1163.69" y="393.62" width="6.77" height="12.92" fill="#FFEA86"/>
<rect x="1170.46" y="393.62" width="13.54" height="12.92" fill="#B0E0E6"/>
<rect x="980.90" y="406.54" width="6.77" height="12.92" fill="#FFA500"/>
<rect x="987.67" y="406.54" width="13.54" height="12.92" fill="#FFEA86"/>
<rect x="1001.21" y="406.54" width="6.77" height="12.92" fill="#FFA500"/>
<rect x="1007.98" y="406.54" width="6.77" height="12.92" fill="#B0E0E6"/>
<rect x="1014.75" y="406.54" width="6.77" height="12.92" fill="#4682B4"/>
<rect x="1021.52" y="406.54" width="6.77" height="12.92" fill="#B0E0E6"/>
<rect x="1028.29" y="406.54" width="6.77" height="12.92" fill="#FFEA86"/>
<rect x="1035.06" y="406.54" width="6.77" height="12.92" fill="#B0E0E6"/>
<rect x="1041.83" y="406.54" width="13.54" height="12.92" fill="#FFEA86"/>
<rect x="1055.37" y="406.54" width="13.54" height="12.92" fill="#B0E0E6"/>
<rect x="1068.91" y="406.54" width="27.08" height="12.92" fill="#FFEA86"/>
<rect x="1095.99" y="406.54" width="33.85" height="12.92" fill="#FFA500"/>
<rect x="1129.84" y="406.54" width="13.54" height="12.92" fill="#B0E0E6"/>
<rect x="1143.38" y="406.54" width="6.77" height="12.92" fill="#FFEA86"/>
<rect x="1150.15" y="406.54" width="13.54" height="12.92" fill="#B0E0E6"/>
<rect x="1163.69" y="406.54" width="6.77" height="12.92" fill="#FFEA86"/>
<rect x="1170.46" y="406.54" width="13.54" height="12.92" fill="#B0E0E6"/>
<rect x="980.90" y="419.46" width="6.77" height="12.92" fill="#FFA500"/>
<rect x="987.67" y="419.46" width="6.77" height="12.92" fill="#B0E0E6"/>
<rect x="994.44" y="419.46" width="6.77" height="12.92" fill="#FFEA86"/>
<rect x="1001.21" y="419.46" width="6.77" height="12.92" fill="#FFA500"/>
<rect x="1007.98" y="419.46" width="6.77" height="12.92" fill="#FFEA86"/>
<rect x="1014.75" y="419.46" width="13.54" height="12.92" fill="#B0E0E6"/>
<rect x="1028.29" y="419.46" width="27.08" height="12.92" fill="#FFEA86"/>
<rect x="1055.37" y="419.46" width="13.54" height="12.92" fill="#B0E0E6"/>
<rect x="1068.91" y="419.46" width="27.08" height="12.92" fill="#FFEA86"/>
<rect x="1095.99" y="419.46" width="20.31" height="12.92" fill="#FFA500"/>
<rect x="1116.30" y="419.46" width="6.77" height="12.92" fill="#FFEA86"/>
<rect x="1123.07" y="419.46" width="6.77" height="12.92" fill="#FFA500"/>
<rect x="1129.84" y="419.46" width="6.77" height="12.92" fill="#FFEA86"/>
<rect x="1136.61" y="419.46" width="6.77" height="12.92" fill="#4682B4"/>
<rect x="1143.38" y="419.46" width="20.31" height="12.92" fill="#B0E0E6"/>
<rect x="1163.69" y="419.46" width="6.77" height="12.92" fill="#FFEA86"/>
<rect x="1170.46" y="419.46" width="6.77" height="12.92" fill="#B0E0E6"/>
<rect x="1177.23" y="419.46" width="6.77" height="12.92" fill="#FFEA86"/>
<rect x="980.90" y="432.38" width="6.77" height="12.92" fill="#FFEA86"/>
<rect x="987.67" y="432.38" width="6.77" height="12.92" fill="#B0E0E6"/>
<rect x="994.44" y="432.38" width="67.70" height="12.92" fill="#FFEA86"/>
<rect x="1062.14" y="432.38" width="6.77" height="12.92" fill="#B0E0E6"/>
<rect x="1068.91" y="432.38" width="27.08" height="12.92" fill="#FFEA86"/>
<rect x="1095.99" y="432.38" width="20.31" height="12.92" fill="#FFA500"/>
<rect x="1116.30" y="432.38" width="6.77" height="12.92" fill="#FFEA86"/>
<rect x="1123.07" y="432.38" width="6.77" height="12.92" fill="#FFA500"/>
<rect x="1129.84" y="432.38" width="47.39" height="12.92" fill="#B0E0E6"/>
<rect x="1177.23" y="432.38" width="6.77" height="12.92" fill="#FFEA86"/>
<path d="M987.67 251.50V445.30M994.44 251.50V445.30M1001.21 251.50V445.30M1007.98 251.50V445.30M1014.75 251.50V445.30M1021.52 251.50V445.30M1028.29 251.50V445.30M1035.06 251.50V445.30M1041.83 251.50V445.30M1048.60 251.50V445.30M1055.37 251.50V445.30M1062.14 251.50V445.30M1068.91 251.50V445.30M1075.68 251.50V445.30M1082.45 251.50V445.30M1089.22 251.50V445.30M1095.99 251.50V445.30M1102.76 251.50V445.30M1109.53 251.50V445.30M1116.30 251.50V445.30M1123.07 251.50V445.30M1129.84 251.50V445.30M1136.61 251.50V445.30M1143.38 251.50V445.30M1150.15 251.50V445.30M1156.92 251.50V445.30M1163.69 251.50V445.30M1170.46 251.50V445.30M1177.23 251.50V445.30M1184.00 251.50V445.30" stroke="#fff" stroke-opacity="0.2" stroke-width="0.7" fill="none"/>
<path d="M980.90 264.42H1190.77M980.90 277.34H1190.77M980.90 290.26H1190.77M980.90 303.18H1190.77M980.90 316.10H1190.77M980.90 329.02H1190.77M980.90 341.94H1190.77M980.90 354.86H1190.77M980.90 367.78H1190.77M980.90 380.70H1190.77M980.90 393.62H1190.77M980.90 406.54H1190.77M980.90 419.46H1190.77M980.90 432.38H1190.77" stroke="#fff" stroke-opacity="0.13" stroke-width="0.7" fill="none"/>
</g>
<text x="1084.7" y="250.3" font-size="8.3" text-anchor="middle">11</text>
<path d="M1011.37 445.3v5.3M1045.21 445.3v5.3M1079.07 445.3v5.3M1112.91 445.3v5.3M1146.76 445.3v5.3M1180.62 445.3v5.3" stroke="#222" stroke-width="0.75" fill="none"/>
<text class="g" transform="translate(987.18 455.6) rotate(-90)" font-size="8.17" text-anchor="end">01</text>
<text class="g" transform="translate(993.95 455.6) rotate(-90)" font-size="8.17" text-anchor="end">02</text>
<text class="g" transform="translate(1000.72 455.6) rotate(-90)" font-size="8.17" text-anchor="end">03</text>
<text class="g" transform="translate(1007.50 455.6) rotate(-90)" font-size="8.17" text-anchor="end">04</text>
<text class="g" transform="translate(1014.26 455.6) rotate(-90)" font-size="8.17" text-anchor="end">05</text>
<text class="g" transform="translate(1021.03 455.6) rotate(-90)" font-size="8.17" text-anchor="end">06</text>
<text class="g" transform="translate(1027.81 455.6) rotate(-90)" font-size="8.17" text-anchor="end">07</text>
<text class="g" transform="translate(1034.58 455.6) rotate(-90)" font-size="8.17" text-anchor="end">08</text>
<text class="g" transform="translate(1041.35 455.6) rotate(-90)" font-size="8.17" text-anchor="end">09</text>
<text class="g" transform="translate(1048.12 455.6) rotate(-90)" font-size="8.17" text-anchor="end">10</text>
<text class="g" transform="translate(1054.88 455.6) rotate(-90)" font-size="8.17" text-anchor="end">11</text>
<text class="g" transform="translate(1061.65 455.6) rotate(-90)" font-size="8.17" text-anchor="end">12</text>
<text class="g" transform="translate(1068.43 455.6) rotate(-90)" font-size="8.17" text-anchor="end">13</text>
<text class="g" transform="translate(1075.20 455.6) rotate(-90)" font-size="8.17" text-anchor="end">14</text>
<text class="g" transform="translate(1081.97 455.6) rotate(-90)" font-size="8.17" text-anchor="end">15</text>
<text class="g" transform="translate(1088.74 455.6) rotate(-90)" font-size="8.17" text-anchor="end">16</text>
<text class="g" transform="translate(1095.51 455.6) rotate(-90)" font-size="8.17" text-anchor="end">17</text>
<text class="g" transform="translate(1102.28 455.6) rotate(-90)" font-size="8.17" text-anchor="end">18</text>
<text class="g" transform="translate(1109.05 455.6) rotate(-90)" font-size="8.17" text-anchor="end">19</text>
<text class="g" transform="translate(1115.82 455.6) rotate(-90)" font-size="8.17" text-anchor="end">20</text>
<text class="g" transform="translate(1122.59 455.6) rotate(-90)" font-size="8.17" text-anchor="end">21</text>
<text class="g" transform="translate(1129.36 455.6) rotate(-90)" font-size="8.17" text-anchor="end">22</text>
<text class="g" transform="translate(1136.12 455.6) rotate(-90)" font-size="8.17" text-anchor="end">23</text>
<text class="g" transform="translate(1142.89 455.6) rotate(-90)" font-size="8.17" text-anchor="end">24</text>
<text class="g" transform="translate(1149.66 455.6) rotate(-90)" font-size="8.17" text-anchor="end">25</text>
<text class="g" transform="translate(1156.43 455.6) rotate(-90)" font-size="8.17" text-anchor="end">26</text>
<text class="g" transform="translate(1163.21 455.6) rotate(-90)" font-size="8.17" text-anchor="end">27</text>
<text class="g" transform="translate(1169.98 455.6) rotate(-90)" font-size="8.17" text-anchor="end">28</text>
<text class="g" transform="translate(1176.75 455.6) rotate(-90)" font-size="8.17" text-anchor="end">29</text>
<text class="g" transform="translate(1183.52 455.6) rotate(-90)" font-size="8.17" text-anchor="end">30</text>
<text class="g" transform="translate(1190.29 455.6) rotate(-90)" font-size="8.17" text-anchor="end">31</text>
<g>
<rect x="1194.90" y="251.50" width="13.54" height="12.92" fill="#FFA500"/>
<rect x="1208.44" y="251.50" width="13.54" height="12.92" fill="#B0E0E6"/>
<rect x="1221.98" y="251.50" width="20.31" height="12.92" fill="#FFEA86"/>
<rect x="1242.29" y="251.50" width="13.54" height="12.92" fill="#B0E0E6"/>
<rect x="1255.83" y="251.50" width="13.54" height="12.92" fill="#FFA500"/>
<rect x="1269.37" y="251.50" width="6.77" height="12.92" fill="#FFEA86"/>
<rect x="1276.14" y="251.50" width="13.54" height="12.92" fill="#B0E0E6"/>
<rect x="1289.68" y="251.50" width="6.77" height="12.92" fill="#FFEA86"/>
<rect x="1296.45" y="251.50" width="13.54" height="12.92" fill="#FFA500"/>
<rect x="1309.99" y="251.50" width="20.31" height="12.92" fill="#FFEA86"/>
<rect x="1330.30" y="251.50" width="20.31" height="12.92" fill="#4682B4"/>
<rect x="1350.61" y="251.50" width="13.54" height="12.92" fill="#FFEA86"/>
<rect x="1364.15" y="251.50" width="13.54" height="12.92" fill="#4682B4"/>
<rect x="1377.69" y="251.50" width="6.77" height="12.92" fill="#B0E0E6"/>
<rect x="1384.46" y="251.50" width="20.31" height="12.92" fill="#FFA500"/>
<rect x="1194.90" y="264.42" width="13.54" height="12.92" fill="#FFA500"/>
<rect x="1208.44" y="264.42" width="20.31" height="12.92" fill="#B0E0E6"/>
<rect x="1228.75" y="264.42" width="13.54" height="12.92" fill="#FFEA86"/>
<rect x="1242.29" y="264.42" width="6.77" height="12.92" fill="#B0E0E6"/>
<rect x="1249.06" y="264.42" width="40.62" height="12.92" fill="#FFEA86"/>
<rect x="1289.68" y="264.42" width="27.08" height="12.92" fill="#FFA500"/>
<rect x="1316.76" y="264.42" width="13.54" height="12.92" fill="#FFEA86"/>
<rect x="1330.30" y="264.42" width="6.77" height="12.92" fill="#B0E0E6"/>
<rect x="1337.07" y="264.42" width="6.77" height="12.92" fill="#4682B4"/>
<rect x="1343.84" y="264.42" width="6.77" height="12.92" fill="#B0E0E6"/>
<rect x="1350.61" y="264.42" width="13.54" height="12.92" fill="#FFEA86"/>
<rect x="1364.15" y="264.42" width="20.31" height="12.92" fill="#B0E0E6"/>
<rect x="1384.46" y="264.42" width="13.54" height="12.92" fill="#FFEA86"/>
<rect x="1398.00" y="264.42" width="6.77" height="12.92" fill="#FFA500"/>
<rect x="1194.90" y="277.34" width="6.77" height="12.92" fill="#FFEA86"/>
<rect x="1201.67" y="277.34" width="6.77" height="12.92" fill="#FFA500"/>
<rect x="1208.44" y="277.34" width="6.77" height="12.92" fill="#FFEA86"/>
<rect x="1215.21" y="277.34" width="6.77" height="12.92" fill="#4682B4"/>
<rect x="1221.98" y="277.34" width="6.77" height="12.92" fill="#B0E0E6"/>
<rect x="1228.75" y="277.34" width="13.54" height="12.92" fill="#FFEA86"/>
<rect x="1242.29" y="277.34" width="6.77" height="12.92" fill="#B0E0E6"/>
<rect x="1249.06" y="277.34" width="20.31" height="12.92" fill="#FFEA86"/>
<rect x="1269.37" y="277.34" width="6.77" height="12.92" fill="#FFA500"/>
<rect x="1276.14" y="277.34" width="6.77" height="12.92" fill="#FFEA86"/>
<rect x="1282.91" y="277.34" width="6.77" height="12.92" fill="#B0E0E6"/>
<rect x="1289.68" y="277.34" width="6.77" height="12.92" fill="#FFEA86"/>
<rect x="1303.22" y="277.34" width="6.77" height="12.92" fill="#FFA500"/>
<rect x="1309.99" y="277.34" width="6.77" height="12.92" fill="#FFEA86"/>
<rect x="1316.76" y="277.34" width="6.77" height="12.92" fill="#FFA500"/>
<rect x="1323.53" y="277.34" width="6.77" height="12.92" fill="#FFEA86"/>
<rect x="1330.30" y="277.34" width="20.31" height="12.92" fill="#B0E0E6"/>
<rect x="1350.61" y="277.34" width="6.77" height="12.92" fill="#FFA500"/>
<rect x="1357.38" y="277.34" width="6.77" height="12.92" fill="#FFEA86"/>
<rect x="1364.15" y="277.34" width="6.77" height="12.92" fill="#4682B4"/>
<rect x="1370.92" y="277.34" width="6.77" height="12.92" fill="#B0E0E6"/>
<rect x="1377.69" y="277.34" width="20.31" height="12.92" fill="#FFEA86"/>
<rect x="1398.00" y="277.34" width="6.77" height="12.92" fill="#FFA500"/>
<rect x="1194.90" y="290.26" width="13.54" height="12.92" fill="#FFEA86"/>
<rect x="1208.44" y="290.26" width="13.54" height="12.92" fill="#4682B4"/>
<rect x="1221.98" y="290.26" width="6.77" height="12.92" fill="#B0E0E6"/>
<rect x="1228.75" y="290.26" width="6.77" height="12.92" fill="#FFEA86"/>
<rect x="1235.52" y="290.26" width="13.54" height="12.92" fill="#B0E0E6"/>
<rect x="1249.06" y="290.26" width="6.77" height="12.92" fill="#FFEA86"/>
<rect x="1255.83" y="290.26" width="6.77" height="12.92" fill="#B0E0E6"/>
<rect x="1262.60" y="290.26" width="33.85" height="12.92" fill="#FFEA86"/>
<rect x="1296.45" y="290.26" width="13.54" height="12.92" fill="#FFA500"/>
<rect x="1309.99" y="290.26" width="6.77" height="12.92" fill="#FFEA86"/>
<rect x="1316.76" y="290.26" width="6.77" height="12.92" fill="#FFA500"/>
<rect x="1323.53" y="290.26" width="6.77" height="12.92" fill="#FFEA86"/>
<rect x="1330.30" y="290.26" width="20.31" height="12.92" fill="#4682B4"/>
<rect x="1350.61" y="290.26" width="6.77" height="12.92" fill="#FFA500"/>
<rect x="1357.38" y="290.26" width="6.77" height="12.92" fill="#B0E0E6"/>
<rect x="1364.15" y="290.26" width="6.77" height="12.92" fill="#4682B4"/>
<rect x="1370.92" y="290.26" width="27.08" height="12.92" fill="#FFEA86"/>
<rect x="1398.00" y="290.26" width="6.77" height="12.92" fill="#FFA500"/>
<rect x="1194.90" y="303.18" width="13.54" height="12.92" fill="#FFA500"/>
<rect x="1208.44" y="303.18" width="13.54" height="12.92" fill="#B0E0E6"/>
<rect x="1221.98" y="303.18" width="13.54" height="12.92" fill="#FFEA86"/>
<rect x="1235.52" y="303.18" width="6.77" height="12.92" fill="#B0E0E6"/>
<rect x="1242.29" y="303.18" width="6.77" height="12.92" fill="#104E8B"/>
<rect x="1249.06" y="303.18" width="27.08" height="12.92" fill="#B0E0E6"/>
<rect x="1276.14" y="303.18" width="6.77" height="12.92" fill="#4682B4"/>
<rect x="1282.91" y="303.18" width="6.77" height="12.92" fill="#B0E0E6"/>
<rect x="1289.68" y="303.18" width="20.31" height="12.92" fill="#FFA500"/>
<rect x="1309.99" y="303.18" width="6.77" height="12.92" fill="#FFEA86"/>
<rect x="1316.76" y="303.18" width="6.77" height="12.92" fill="#FFA500"/>
<rect x="1323.53" y="303.18" width="6.77" height="12.92" fill="#FFEA86"/>
<rect x="1330.30" y="303.18" width="13.54" height="12.92" fill="#4682B4"/>
<rect x="1343.84" y="303.18" width="6.77" height="12.92" fill="#B0E0E6"/>
<rect x="1350.61" y="303.18" width="6.77" height="12.92" fill="#FFA500"/>
<rect x="1357.38" y="303.18" width="6.77" height="12.92" fill="#B0E0E6"/>
<rect x="1364.15" y="303.18" width="13.54" height="12.92" fill="#104E8B"/>
<rect x="1377.69" y="303.18" width="6.77" height="12.92" fill="#4682B4"/>
<rect x="1384.46" y="303.18" width="6.77" height="12.92" fill="#B0E0E6"/>
<rect x="1391.23" y="303.18" width="6.77" height="12.92" fill="#FFEA86"/>
<rect x="1398.00" y="303.18" width="6.77" height="12.92" fill="#B22222"/>
<rect x="1194.90" y="316.10" width="6.77" height="12.92" fill="#B0E0E6"/>
<rect x="1201.67" y="316.10" width="6.77" height="12.92" fill="#4682B4"/>
<rect x="1208.44" y="316.10" width="6.77" height="12.92" fill="#104E8B"/>
<rect x="1215.21" y="316.10" width="6.77" height="12.92" fill="#B0E0E6"/>
<rect x="1221.98" y="316.10" width="13.54" height="12.92" fill="#FFEA86"/>
<rect x="1235.52" y="316.10" width="13.54" height="12.92" fill="#B0E0E6"/>
<rect x="1249.06" y="316.10" width="6.77" height="12.92" fill="#FFEA86"/>
<rect x="1255.83" y="316.10" width="20.31" height="12.92" fill="#B0E0E6"/>
<rect x="1276.14" y="316.10" width="6.77" height="12.92" fill="#FFEA86"/>
<rect x="1282.91" y="316.10" width="20.31" height="12.92" fill="#FFA500"/>
<rect x="1303.22" y="316.10" width="6.77" height="12.92" fill="#B0E0E6"/>
<rect x="1309.99" y="316.10" width="6.77" height="12.92" fill="#FFEA86"/>
<rect x="1316.76" y="316.10" width="6.77" height="12.92" fill="#B0E0E6"/>
<rect x="1323.53" y="316.10" width="6.77" height="12.92" fill="#4682B4"/>
<rect x="1330.30" y="316.10" width="6.77" height="12.92" fill="#104E8B"/>
<rect x="1337.07" y="316.10" width="6.77" height="12.92" fill="#4682B4"/>
<rect x="1343.84" y="316.10" width="6.77" height="12.92" fill="#B0E0E6"/>
<rect x="1350.61" y="316.10" width="6.77" height="12.92" fill="#FFA500"/>
<rect x="1357.38" y="316.10" width="13.54" height="12.92" fill="#B0E0E6"/>
<rect x="1370.92" y="316.10" width="6.77" height="12.92" fill="#FFEA86"/>
<rect x="1377.69" y="316.10" width="6.77" height="12.92" fill="#FFA500"/>
<rect x="1384.46" y="316.10" width="6.77" height="12.92" fill="#FFEA86"/>
<rect x="1391.23" y="316.10" width="6.77" height="12.92" fill="#FFA500"/>
<rect x="1398.00" y="316.10" width="6.77" height="12.92" fill="#B22222"/>
<rect x="1194.90" y="329.02" width="6.77" height="12.92" fill="#FFEA86"/>
<rect x="1201.67" y="329.02" width="6.77" height="12.92" fill="#FFA500"/>
<rect x="1208.44" y="329.02" width="6.77" height="12.92" fill="#FFEA86"/>
<rect x="1215.21" y="329.02" width="6.77" height="12.92" fill="#4682B4"/>
<rect x="1221.98" y="329.02" width="6.77" height="12.92" fill="#B0E0E6"/>
<rect x="1228.75" y="329.02" width="13.54" height="12.92" fill="#FFEA86"/>
<rect x="1242.29" y="329.02" width="6.77" height="12.92" fill="#B0E0E6"/>
<rect x="1249.06" y="329.02" width="27.08" height="12.92" fill="#FFEA86"/>
<rect x="1276.14" y="329.02" width="13.54" height="12.92" fill="#B0E0E6"/>
<rect x="1289.68" y="329.02" width="13.54" height="12.92" fill="#FFEA86"/>
<rect x="1303.22" y="329.02" width="6.77" height="12.92" fill="#FFA500"/>
<rect x="1309.99" y="329.02" width="6.77" height="12.92" fill="#FFEA86"/>
<rect x="1316.76" y="329.02" width="6.77" height="12.92" fill="#FFA500"/>
<rect x="1323.53" y="329.02" width="13.54" height="12.92" fill="#FFEA86"/>
<rect x="1337.07" y="329.02" width="13.54" height="12.92" fill="#B0E0E6"/>
<rect x="1350.61" y="329.02" width="13.54" height="12.92" fill="#FFA500"/>
<rect x="1364.15" y="329.02" width="6.77" height="12.92" fill="#B0E0E6"/>
<rect x="1370.92" y="329.02" width="27.08" height="12.92" fill="#FFEA86"/>
<rect x="1398.00" y="329.02" width="6.77" height="12.92" fill="#FFA500"/>
<rect x="1194.90" y="341.94" width="13.54" height="12.92" fill="#B0E0E6"/>
<rect x="1208.44" y="341.94" width="13.54" height="12.92" fill="#104E8B"/>
<rect x="1221.98" y="341.94" width="40.62" height="12.92" fill="#B0E0E6"/>
<rect x="1262.60" y="341.94" width="6.77" height="12.92" fill="#FFEA86"/>
<rect x="1269.37" y="341.94" width="6.77" height="12.92" fill="#B0E0E6"/>
<rect x="1276.14" y="341.94" width="6.77" height="12.92" fill="#FFEA86"/>
<rect x="1282.91" y="341.94" width="6.77" height="12.92" fill="#FFA500"/>
<rect x="1289.68" y="341.94" width="6.77" height="12.92" fill="#FFEA86"/>
<rect x="1296.45" y="341.94" width="6.77" height="12.92" fill="#FFA500"/>
<rect x="1303.22" y="341.94" width="13.54" height="12.92" fill="#B0E0E6"/>
<rect x="1316.76" y="341.94" width="6.77" height="12.92" fill="#FFEA86"/>
<rect x="1323.53" y="341.94" width="13.54" height="12.92" fill="#4682B4"/>
<rect x="1337.07" y="341.94" width="6.77" height="12.92" fill="#104E8B"/>
<rect x="1343.84" y="341.94" width="6.77" height="12.92" fill="#4682B4"/>
<rect x="1350.61" y="341.94" width="6.77" height="12.92" fill="#FFA500"/>
<rect x="1357.38" y="341.94" width="6.77" height="12.92" fill="#FFEA86"/>
<rect x="1364.15" y="341.94" width="6.77" height="12.92" fill="#B0E0E6"/>
<rect x="1370.92" y="341.94" width="20.31" height="12.92" fill="#FFEA86"/>
<rect x="1391.23" y="341.94" width="6.77" height="12.92" fill="#FFA500"/>
<rect x="1398.00" y="341.94" width="6.77" height="12.92" fill="#B22222"/>
<rect x="1194.90" y="354.86" width="6.77" height="12.92" fill="#FFEA86"/>
<rect x="1201.67" y="354.86" width="6.77" height="12.92" fill="#FFA500"/>
<rect x="1208.44" y="354.86" width="13.54" height="12.92" fill="#B0E0E6"/>
<rect x="1221.98" y="354.86" width="13.54" height="12.92" fill="#FFEA86"/>
<rect x="1235.52" y="354.86" width="6.77" height="12.92" fill="#B0E0E6"/>
<rect x="1242.29" y="354.86" width="6.77" height="12.92" fill="#4682B4"/>
<rect x="1249.06" y="354.86" width="13.54" height="12.92" fill="#FFEA86"/>
<rect x="1269.37" y="354.86" width="6.77" height="12.92" fill="#FFA500"/>
<rect x="1276.14" y="354.86" width="6.77" height="12.92" fill="#B0E0E6"/>
<rect x="1282.91" y="354.86" width="6.77" height="12.92" fill="#4682B4"/>
<rect x="1289.68" y="354.86" width="13.54" height="12.92" fill="#B0E0E6"/>
<rect x="1303.22" y="354.86" width="6.77" height="12.92" fill="#FFA500"/>
<rect x="1309.99" y="354.86" width="6.77" height="12.92" fill="#FFEA86"/>
<rect x="1316.76" y="354.86" width="6.77" height="12.92" fill="#FFA500"/>
<rect x="1323.53" y="354.86" width="6.77" height="12.92" fill="#FFEA86"/>
<rect x="1330.30" y="354.86" width="20.31" height="12.92" fill="#B0E0E6"/>
<rect x="1350.61" y="354.86" width="13.54" height="12.92" fill="#FFA500"/>
<rect x="1364.15" y="354.86" width="20.31" height="12.92" fill="#FFEA86"/>
<rect x="1384.46" y="354.86" width="20.31" height="12.92" fill="#FFA500"/>
<rect x="1194.90" y="367.78" width="6.77" height="12.92" fill="#FFEA86"/>
<rect x="1201.67" y="367.78" width="6.77" height="12.92" fill="#FFA500"/>
<rect x="1208.44" y="367.78" width="6.77" height="12.92" fill="#4682B4"/>
<rect x="1215.21" y="367.78" width="6.77" height="12.92" fill="#B0E0E6"/>
<rect x="1221.98" y="367.78" width="13.54" height="12.92" fill="#FFEA86"/>
<rect x="1235.52" y="367.78" width="6.77" height="12.92" fill="#B0E0E6"/>
<rect x="1242.29" y="367.78" width="6.77" height="12.92" fill="#4682B4"/>
<rect x="1249.06" y="367.78" width="13.54" height="12.92" fill="#FFEA86"/>
<rect x="1262.60" y="367.78" width="13.54" height="12.92" fill="#B0E0E6"/>
<rect x="1276.14" y="367.78" width="6.77" height="12.92" fill="#4682B4"/>
<rect x="1282.91" y="367.78" width="6.77" height="12.92" fill="#B0E0E6"/>
<rect x="1289.68" y="367.78" width="6.77" height="12.92" fill="#FFEA86"/>
<rect x="1296.45" y="367.78" width="27.08" height="12.92" fill="#FFA500"/>
<rect x="1323.53" y="367.78" width="6.77" height="12.92" fill="#FFEA86"/>
<rect x="1330.30" y="367.78" width="6.77" height="12.92" fill="#4682B4"/>
<rect x="1337.07" y="367.78" width="6.77" height="12.92" fill="#104E8B"/>
<rect x="1343.84" y="367.78" width="6.77" height="12.92" fill="#4682B4"/>
<rect x="1350.61" y="367.78" width="6.77" height="12.92" fill="#FFA500"/>
<rect x="1357.38" y="367.78" width="6.77" height="12.92" fill="#FFEA86"/>
<rect x="1364.15" y="367.78" width="6.77" height="12.92" fill="#104E8B"/>
<rect x="1370.92" y="367.78" width="6.77" height="12.92" fill="#B0E0E6"/>
<rect x="1377.69" y="367.78" width="6.77" height="12.92" fill="#4682B4"/>
<rect x="1384.46" y="367.78" width="6.77" height="12.92" fill="#FFEA86"/>
<rect x="1391.23" y="367.78" width="13.54" height="12.92" fill="#FFA500"/>
<rect x="1194.90" y="380.70" width="6.77" height="12.92" fill="#FFEA86"/>
<rect x="1201.67" y="380.70" width="6.77" height="12.92" fill="#FFA500"/>
<rect x="1208.44" y="380.70" width="6.77" height="12.92" fill="#4682B4"/>
<rect x="1215.21" y="380.70" width="6.77" height="12.92" fill="#B0E0E6"/>
<rect x="1221.98" y="380.70" width="6.77" height="12.92" fill="#FFEA86"/>
<rect x="1228.75" y="380.70" width="13.54" height="12.92" fill="#B0E0E6"/>
<rect x="1242.29" y="380.70" width="6.77" height="12.92" fill="#4682B4"/>
<rect x="1249.06" y="380.70" width="6.77" height="12.92" fill="#FFEA86"/>
<rect x="1255.83" y="380.70" width="20.31" height="12.92" fill="#B0E0E6"/>
<rect x="1282.91" y="380.70" width="6.77" height="12.92" fill="#FFEA86"/>
<rect x="1289.68" y="380.70" width="20.31" height="12.92" fill="#FFA500"/>
<rect x="1309.99" y="380.70" width="13.54" height="12.92" fill="#FFEA86"/>
<rect x="1323.53" y="380.70" width="6.77" height="12.92" fill="#B0E0E6"/>
<rect x="1350.61" y="380.70" width="6.77" height="12.92" fill="#FFA500"/>
<rect x="1384.46" y="380.70" width="6.77" height="12.92" fill="#FFEA86"/>
<rect x="1391.23" y="380.70" width="6.77" height="12.92" fill="#FFA500"/>
<rect x="1398.00" y="380.70" width="6.77" height="12.92" fill="#B22222"/>
<rect x="1194.90" y="393.62" width="13.54" height="12.92" fill="#FFA500"/>
<rect x="1208.44" y="393.62" width="20.31" height="12.92" fill="#B0E0E6"/>
<rect x="1228.75" y="393.62" width="6.77" height="12.92" fill="#FFEA86"/>
<rect x="1235.52" y="393.62" width="20.31" height="12.92" fill="#B0E0E6"/>
<rect x="1255.83" y="393.62" width="6.77" height="12.92" fill="#FFEA86"/>
<rect x="1262.60" y="393.62" width="27.08" height="12.92" fill="#B0E0E6"/>
<rect x="1289.68" y="393.62" width="6.77" height="12.92" fill="#FFEA86"/>
<rect x="1296.45" y="393.62" width="13.54" height="12.92" fill="#FFA500"/>
<rect x="1309.99" y="393.62" width="6.77" height="12.92" fill="#FFEA86"/>
<rect x="1316.76" y="393.62" width="6.77" height="12.92" fill="#FFA500"/>
<rect x="1323.53" y="393.62" width="6.77" height="12.92" fill="#FFEA86"/>
<rect x="1330.30" y="393.62" width="20.31" height="12.92" fill="#4682B4"/>
<rect x="1350.61" y="393.62" width="13.54" height="12.92" fill="#FFA500"/>
<rect x="1364.15" y="393.62" width="27.08" height="12.92" fill="#FFEA86"/>
<rect x="1391.23" y="393.62" width="6.77" height="12.92" fill="#FFA500"/>
<rect x="1398.00" y="393.62" width="6.77" height="12.92" fill="#B22222"/>
<rect x="1194.90" y="406.54" width="13.54" height="12.92" fill="#FFA500"/>
<rect x="1208.44" y="406.54" width="20.31" height="12.92" fill="#B0E0E6"/>
<rect x="1228.75" y="406.54" width="6.77" height="12.92" fill="#FFEA86"/>
<rect x="1235.52" y="406.54" width="13.54" height="12.92" fill="#B0E0E6"/>
<rect x="1249.06" y="406.54" width="20.31" height="12.92" fill="#FFEA86"/>
<rect x="1269.37" y="406.54" width="6.77" height="12.92" fill="#B0E0E6"/>
<rect x="1276.14" y="406.54" width="13.54" height="12.92" fill="#FFEA86"/>
<rect x="1289.68" y="406.54" width="33.85" height="12.92" fill="#FFA500"/>
<rect x="1323.53" y="406.54" width="6.77" height="12.92" fill="#FFEA86"/>
<rect x="1330.30" y="406.54" width="6.77" height="12.92" fill="#B0E0E6"/>
<rect x="1337.07" y="406.54" width="6.77" height="12.92" fill="#4682B4"/>
<rect x="1343.84" y="406.54" width="6.77" height="12.92" fill="#B0E0E6"/>
<rect x="1350.61" y="406.54" width="13.54" height="12.92" fill="#FFEA86"/>
<rect x="1364.15" y="406.54" width="6.77" height="12.92" fill="#B0E0E6"/>
<rect x="1370.92" y="406.54" width="27.08" height="12.92" fill="#FFEA86"/>
<rect x="1398.00" y="406.54" width="6.77" height="12.92" fill="#FFA500"/>
<rect x="1194.90" y="419.46" width="6.77" height="12.92" fill="#FFEA86"/>
<rect x="1201.67" y="419.46" width="6.77" height="12.92" fill="#FFA500"/>
<rect x="1208.44" y="419.46" width="6.77" height="12.92" fill="#FFEA86"/>
<rect x="1215.21" y="419.46" width="13.54" height="12.92" fill="#B0E0E6"/>
<rect x="1228.75" y="419.46" width="6.77" height="12.92" fill="#FFEA86"/>
<rect x="1235.52" y="419.46" width="13.54" height="12.92" fill="#B0E0E6"/>
<rect x="1249.06" y="419.46" width="6.77" height="12.92" fill="#FFEA86"/>
<rect x="1255.83" y="419.46" width="6.77" height="12.92" fill="#B0E0E6"/>
<rect x="1262.60" y="419.46" width="27.08" height="12.92" fill="#FFEA86"/>
<rect x="1289.68" y="419.46" width="33.85" height="12.92" fill="#FFA500"/>
<rect x="1323.53" y="419.46" width="6.77" height="12.92" fill="#FFEA86"/>
<rect x="1330.30" y="419.46" width="6.77" height="12.92" fill="#B0E0E6"/>
<rect x="1337.07" y="419.46" width="6.77" height="12.92" fill="#4682B4"/>
<rect x="1343.84" y="419.46" width="6.77" height="12.92" fill="#B0E0E6"/>
<rect x="1350.61" y="419.46" width="13.54" height="12.92" fill="#FFA500"/>
<rect x="1364.15" y="419.46" width="27.08" height="12.92" fill="#FFEA86"/>
<rect x="1391.23" y="419.46" width="6.77" height="12.92" fill="#FFA500"/>
<rect x="1398.00" y="419.46" width="6.77" height="12.92" fill="#B22222"/>
<rect x="1194.90" y="432.38" width="13.54" height="12.92" fill="#FFA500"/>
<rect x="1208.44" y="432.38" width="67.70" height="12.92" fill="#B0E0E6"/>
<rect x="1276.14" y="432.38" width="6.77" height="12.92" fill="#FFEA86"/>
<rect x="1282.91" y="432.38" width="33.85" height="12.92" fill="#FFA500"/>
<rect x="1316.76" y="432.38" width="13.54" height="12.92" fill="#FFEA86"/>
<rect x="1330.30" y="432.38" width="6.77" height="12.92" fill="#B0E0E6"/>
<rect x="1337.07" y="432.38" width="13.54" height="12.92" fill="#4682B4"/>
<rect x="1350.61" y="432.38" width="6.77" height="12.92" fill="#FFA500"/>
<rect x="1357.38" y="432.38" width="6.77" height="12.92" fill="#FFEA86"/>
<rect x="1364.15" y="432.38" width="6.77" height="12.92" fill="#B0E0E6"/>
<rect x="1370.92" y="432.38" width="6.77" height="12.92" fill="#FFEA86"/>
<rect x="1377.69" y="432.38" width="6.77" height="12.92" fill="#B0E0E6"/>
<rect x="1384.46" y="432.38" width="6.77" height="12.92" fill="#FFEA86"/>
<rect x="1391.23" y="432.38" width="6.77" height="12.92" fill="#FFA500"/>
<rect x="1398.00" y="432.38" width="6.77" height="12.92" fill="#B22222"/>
<path d="M1201.67 251.50V445.30M1208.44 251.50V445.30M1215.21 251.50V445.30M1221.98 251.50V445.30M1228.75 251.50V445.30M1235.52 251.50V445.30M1242.29 251.50V445.30M1249.06 251.50V445.30M1255.83 251.50V445.30M1262.60 251.50V445.30M1269.37 251.50V445.30M1276.14 251.50V445.30M1282.91 251.50V445.30M1289.68 251.50V445.30M1296.45 251.50V445.30M1303.22 251.50V445.30M1309.99 251.50V445.30M1316.76 251.50V445.30M1323.53 251.50V445.30M1330.30 251.50V445.30M1337.07 251.50V445.30M1343.84 251.50V445.30M1350.61 251.50V445.30M1357.38 251.50V445.30M1364.15 251.50V445.30M1370.92 251.50V445.30M1377.69 251.50V445.30M1384.46 251.50V445.30M1391.23 251.50V445.30M1398.00 251.50V445.30" stroke="#fff" stroke-opacity="0.2" stroke-width="0.7" fill="none"/>
<path d="M1194.90 264.42H1404.77M1194.90 277.34H1404.77M1194.90 290.26H1404.77M1194.90 303.18H1404.77M1194.90 316.10H1404.77M1194.90 329.02H1404.77M1194.90 341.94H1404.77M1194.90 354.86H1404.77M1194.90 367.78H1404.77M1194.90 380.70H1404.77M1194.90 393.62H1404.77M1194.90 406.54H1404.77M1194.90 419.46H1404.77M1194.90 432.38H1404.77" stroke="#fff" stroke-opacity="0.13" stroke-width="0.7" fill="none"/>
</g>
<text x="1298.7" y="250.3" font-size="8.3" text-anchor="middle">12</text>
<path d="M1225.37 445.3v5.3M1259.22 445.3v5.3M1293.07 445.3v5.3M1326.91 445.3v5.3M1360.77 445.3v5.3M1394.62 445.3v5.3" stroke="#222" stroke-width="0.75" fill="none"/>
<path d="M122.5 258.46h-5.3M1406.5 258.46h5.3M122.5 323.06h-5.3M1406.5 323.06h5.3M122.5 387.66h-5.3M1406.5 387.66h5.3" stroke="#222" stroke-width="0.75" fill="none"/>
<text x="1416.3" y="261.5" font-size="8.17">11993 Kamenica n/Cr.</text>
<text x="1416.3" y="274.4" font-size="8.17">11968 Košice-letisko</text>
<text x="1416.3" y="287.3" font-size="8.17">11942 Rimavská Sobota</text>
<text x="1416.3" y="300.2" font-size="8.17">11938 Telgárt</text>
<text x="1416.3" y="313.1" font-size="8.17">11934 Poprad</text>
<text x="1416.3" y="326.1" font-size="8.17">11930 Lomnický štít</text>
<text x="1416.3" y="339.0" font-size="8.17">11927 Boľkovce</text>
<text x="1416.3" y="351.9" font-size="8.17">11916 Chopok</text>
<text x="1416.3" y="364.8" font-size="8.17">11903 Sliač</text>
<text x="1416.3" y="377.7" font-size="8.17">11874 Liptovský Hrádok</text>
<text x="1416.3" y="390.7" font-size="8.17">11868 Oravská Lesná</text>
<text x="1416.3" y="403.6" font-size="8.17">11858 Hurbanovo</text>
<text x="1416.3" y="416.5" font-size="8.17">11826 Piešťany</text>
<text x="1416.3" y="429.4" font-size="8.17">11816 Bratislava-letiko</text>
<text x="1416.3" y="442.3" font-size="8.17">11813 Bratislava-Koliba</text>
<path d="M122.125 38.45H1406.875M122.125 48.4H1406.875M122.125 242.0H1406.875M122.125 251.5H1406.875M122.125 445.3H1406.875M122.5 38.45V445.3M336.5 38.45V445.3M550.5 38.45V445.3M764.5 38.45V445.3M978.5 38.45V445.3M1192.5 38.45V445.3M1406.5 38.45V445.3" stroke="#222" stroke-width="0.75" fill="none"/>
<text transform="translate(12.6 248.5) rotate(-90)" font-size="10" text-anchor="middle" textLength="105.5" lengthAdjust="spacingAndGlyphs">meteorologické stanice</text>
<text x="763.3" y="481.5" font-size="10" text-anchor="middle">dni</text>
<rect x="1514.8" y="79.30" width="11.2" height="54.53" fill="#B22222"/>
<text x="1529.5" y="109.3" font-size="8">silne nadnormálne</text>
<rect x="1514.8" y="133.53" width="11.2" height="54.53" fill="#FFA500"/>
<text x="1529.5" y="163.5" font-size="8">nadnormálne</text>
<rect x="1514.8" y="187.77" width="11.2" height="54.53" fill="#FFEA86"/>
<text x="1529.5" y="217.8" font-size="8">normálne (+)</text>
<rect x="1514.8" y="242.00" width="11.2" height="54.53" fill="#B0E0E6"/>
<text x="1529.5" y="272.0" font-size="8">normálne (-)</text>
<rect x="1514.8" y="296.23" width="11.2" height="54.53" fill="#4682B4"/>
<text x="1529.5" y="326.2" font-size="8">podnormálne</text>
<rect x="1514.8" y="350.47" width="11.2" height="54.53" fill="#104E8B"/>
<text x="1529.5" y="380.5" font-size="8">silne podnormálne</text>
<text x="1529.5" y="57.8" font-size="8">mean</text>
<text x="1529.5" y="431.3" font-size="8">dTpr (°C)</text>
</svg></body></html>
